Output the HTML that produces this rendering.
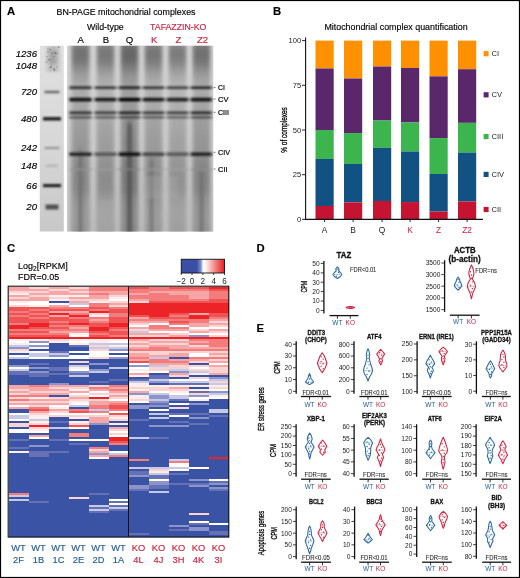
<!DOCTYPE html>
<html><head><meta charset="utf-8"><style>
html,body{margin:0;padding:0;background:#fff;}
svg{display:block;will-change:transform;font-family:"Liberation Sans", sans-serif;}
</style></head><body>
<svg width="520" height="578" viewBox="0 0 520 578">
<rect width="520" height="578" fill="#fff"/>
<rect x="0.5" y="0.5" width="519" height="577" fill="none" stroke="#000" stroke-width="1.2"/>
<text x="6.90" y="14.60" font-size="11.3" text-anchor="start" fill="#000" stroke="#000" stroke-width="0.15" font-weight="bold" >A</text>
<text x="56.50" y="15.40" font-size="9.2" text-anchor="start" fill="#000" stroke="#000" stroke-width="0.15" textLength="139.00" lengthAdjust="spacingAndGlyphs" >BN-PAGE mitochondrial complexes</text>
<text x="86.90" y="29.80" font-size="9.5" text-anchor="start" fill="#000" stroke="#000" stroke-width="0.15" textLength="36.90" lengthAdjust="spacingAndGlyphs" >Wild-type</text>
<text x="150.10" y="29.60" font-size="9.6" text-anchor="start" fill="#d0213d" stroke="#d0213d" stroke-width="0.15" textLength="56.30" lengthAdjust="spacingAndGlyphs" >TAFAZZIN-KO</text>
<text x="80.80" y="42.50" font-size="9.6" text-anchor="middle" fill="#000" stroke="#000" stroke-width="0.15" >A</text>
<text x="105.90" y="42.50" font-size="9.6" text-anchor="middle" fill="#000" stroke="#000" stroke-width="0.15" >B</text>
<text x="129.60" y="42.50" font-size="9.6" text-anchor="middle" fill="#000" stroke="#000" stroke-width="0.15" >Q</text>
<text x="154.30" y="42.50" font-size="9.6" text-anchor="middle" fill="#d0213d" stroke="#d0213d" stroke-width="0.15" >K</text>
<text x="178.50" y="42.50" font-size="9.6" text-anchor="middle" fill="#d0213d" stroke="#d0213d" stroke-width="0.15" >Z</text>
<text x="202.60" y="42.50" font-size="9.6" text-anchor="middle" fill="#d0213d" stroke="#d0213d" stroke-width="0.15" >Z2</text>
<text x="37.00" y="57.10" font-size="9.6" text-anchor="end" fill="#000" stroke="#000" stroke-width="0.15" font-style="italic" >1236</text>
<text x="37.00" y="68.90" font-size="9.6" text-anchor="end" fill="#000" stroke="#000" stroke-width="0.15" font-style="italic" >1048</text>
<text x="37.00" y="95.40" font-size="9.6" text-anchor="end" fill="#000" stroke="#000" stroke-width="0.15" font-style="italic" >720</text>
<text x="37.00" y="122.20" font-size="9.6" text-anchor="end" fill="#000" stroke="#000" stroke-width="0.15" font-style="italic" >480</text>
<text x="37.00" y="151.40" font-size="9.6" text-anchor="end" fill="#000" stroke="#000" stroke-width="0.15" font-style="italic" >242</text>
<text x="37.00" y="169.20" font-size="9.6" text-anchor="end" fill="#000" stroke="#000" stroke-width="0.15" font-style="italic" >148</text>
<text x="37.00" y="189.20" font-size="9.6" text-anchor="end" fill="#000" stroke="#000" stroke-width="0.15" font-style="italic" >66</text>
<text x="37.00" y="210.40" font-size="9.6" text-anchor="end" fill="#000" stroke="#000" stroke-width="0.15" font-style="italic" >20</text>
<line x1="213.80" y1="87.60" x2="215.40" y2="87.60" stroke="#555" stroke-width="0.9"/>
<text x="218.00" y="90.40" font-size="8.0" text-anchor="start" fill="#000" stroke="#000" stroke-width="0.2" textLength="6.90" lengthAdjust="spacingAndGlyphs" >CI</text>
<line x1="213.80" y1="99.00" x2="215.40" y2="99.00" stroke="#555" stroke-width="0.9"/>
<text x="218.00" y="101.80" font-size="8.0" text-anchor="start" fill="#000" stroke="#000" stroke-width="0.2" textLength="10.50" lengthAdjust="spacingAndGlyphs" >CV</text>
<line x1="213.80" y1="112.30" x2="215.40" y2="112.30" stroke="#555" stroke-width="0.9"/>
<text x="218.00" y="115.10" font-size="8.0" text-anchor="start" fill="#000" stroke="#000" stroke-width="0.2" textLength="11.00" lengthAdjust="spacingAndGlyphs" >CIII</text>
<line x1="213.80" y1="152.30" x2="215.40" y2="152.30" stroke="#555" stroke-width="0.9"/>
<text x="218.00" y="155.10" font-size="8.0" text-anchor="start" fill="#000" stroke="#000" stroke-width="0.2" textLength="12.00" lengthAdjust="spacingAndGlyphs" >CIV</text>
<line x1="213.80" y1="169.00" x2="215.40" y2="169.00" stroke="#555" stroke-width="0.9"/>
<text x="218.00" y="171.80" font-size="8.0" text-anchor="start" fill="#000" stroke="#000" stroke-width="0.2" textLength="9.60" lengthAdjust="spacingAndGlyphs" >CII</text>
<defs>
<filter id="bl1" x="-20%" y="-20%" width="140%" height="140%"><feGaussianBlur stdDeviation="1.6 0.7"/></filter>
<filter id="bl2" x="-20%" y="-20%" width="140%" height="140%"><feGaussianBlur stdDeviation="2.2 1.2"/></filter>
<filter id="bl3" x="-20%" y="-20%" width="140%" height="140%"><feGaussianBlur stdDeviation="0.6"/></filter>
<filter id="bl4" x="-20%" y="-50%" width="140%" height="200%"><feGaussianBlur stdDeviation="1.4 0.85"/></filter>
<filter id="bl6" x="-30%" y="-80%" width="160%" height="260%"><feGaussianBlur stdDeviation="1.3 1.0"/></filter>
<filter id="bl5" x="-50%" y="-20%" width="200%" height="140%"><feGaussianBlur stdDeviation="1.6 3"/></filter>
<clipPath id="gelc"><rect x="67" y="45.8" width="146.2" height="185.6"/></clipPath>
<clipPath id="mkc"><rect x="39.8" y="45.8" width="24" height="185.6"/></clipPath>
</defs>
<g clip-path="url(#gelc)">
<linearGradient id="gbase" x1="0" y1="46" x2="0" y2="232" gradientUnits="userSpaceOnUse"><stop offset="0" stop-color="#d6d6d6"/><stop offset="0.5" stop-color="#cbcbcb"/><stop offset="1" stop-color="#bcbcbc"/></linearGradient>
<rect x="60.00" y="40.00" width="160.00" height="200.00" fill="url(#gbase)" />
<g filter="url(#bl2)">
<linearGradient id="lg80" x1="0" y1="46" x2="0" y2="232" gradientUnits="userSpaceOnUse"><stop offset="0.000" stop-color="rgb(128,128,128)"/><stop offset="0.022" stop-color="rgb(116,116,116)"/><stop offset="0.054" stop-color="rgb(114,114,114)"/><stop offset="0.086" stop-color="rgb(122,122,122)"/><stop offset="0.118" stop-color="rgb(138,138,138)"/><stop offset="0.151" stop-color="rgb(154,154,154)"/><stop offset="0.183" stop-color="rgb(164,164,164)"/><stop offset="0.215" stop-color="rgb(170,170,170)"/><stop offset="0.253" stop-color="rgb(172,172,172)"/><stop offset="0.290" stop-color="rgb(166,166,166)"/><stop offset="0.328" stop-color="rgb(166,166,166)"/><stop offset="0.387" stop-color="rgb(160,160,160)"/><stop offset="0.452" stop-color="rgb(156,156,156)"/><stop offset="0.505" stop-color="rgb(152,152,152)"/><stop offset="0.559" stop-color="rgb(150,150,150)"/><stop offset="0.613" stop-color="rgb(142,142,142)"/><stop offset="0.667" stop-color="rgb(136,136,136)"/><stop offset="0.720" stop-color="rgb(134,134,134)"/><stop offset="0.774" stop-color="rgb(136,136,136)"/><stop offset="0.817" stop-color="rgb(146,146,146)"/><stop offset="0.882" stop-color="rgb(152,152,152)"/><stop offset="0.935" stop-color="rgb(152,152,152)"/><stop offset="1.000" stop-color="rgb(148,148,148)"/></linearGradient>
<rect x="71.50" y="44.00" width="18.00" height="190.00" fill="url(#lg80)" />
<linearGradient id="lg105" x1="0" y1="46" x2="0" y2="232" gradientUnits="userSpaceOnUse"><stop offset="0.000" stop-color="rgb(134,134,134)"/><stop offset="0.022" stop-color="rgb(122,122,122)"/><stop offset="0.054" stop-color="rgb(120,120,120)"/><stop offset="0.086" stop-color="rgb(128,128,128)"/><stop offset="0.118" stop-color="rgb(144,144,144)"/><stop offset="0.151" stop-color="rgb(160,160,160)"/><stop offset="0.183" stop-color="rgb(170,170,170)"/><stop offset="0.215" stop-color="rgb(176,176,176)"/><stop offset="0.253" stop-color="rgb(178,178,178)"/><stop offset="0.290" stop-color="rgb(172,172,172)"/><stop offset="0.328" stop-color="rgb(172,172,172)"/><stop offset="0.387" stop-color="rgb(166,166,166)"/><stop offset="0.452" stop-color="rgb(162,162,162)"/><stop offset="0.505" stop-color="rgb(158,158,158)"/><stop offset="0.559" stop-color="rgb(156,156,156)"/><stop offset="0.613" stop-color="rgb(148,148,148)"/><stop offset="0.667" stop-color="rgb(142,142,142)"/><stop offset="0.720" stop-color="rgb(140,140,140)"/><stop offset="0.774" stop-color="rgb(142,142,142)"/><stop offset="0.817" stop-color="rgb(152,152,152)"/><stop offset="0.882" stop-color="rgb(158,158,158)"/><stop offset="0.935" stop-color="rgb(158,158,158)"/><stop offset="1.000" stop-color="rgb(154,154,154)"/></linearGradient>
<rect x="96.50" y="44.00" width="18.00" height="190.00" fill="url(#lg105)" />
<linearGradient id="lg129" x1="0" y1="46" x2="0" y2="232" gradientUnits="userSpaceOnUse"><stop offset="0.000" stop-color="rgb(116,116,116)"/><stop offset="0.022" stop-color="rgb(104,104,104)"/><stop offset="0.054" stop-color="rgb(102,102,102)"/><stop offset="0.086" stop-color="rgb(110,110,110)"/><stop offset="0.118" stop-color="rgb(126,126,126)"/><stop offset="0.151" stop-color="rgb(142,142,142)"/><stop offset="0.183" stop-color="rgb(152,152,152)"/><stop offset="0.215" stop-color="rgb(158,158,158)"/><stop offset="0.253" stop-color="rgb(160,160,160)"/><stop offset="0.290" stop-color="rgb(154,154,154)"/><stop offset="0.328" stop-color="rgb(154,154,154)"/><stop offset="0.387" stop-color="rgb(148,148,148)"/><stop offset="0.452" stop-color="rgb(144,144,144)"/><stop offset="0.505" stop-color="rgb(140,140,140)"/><stop offset="0.559" stop-color="rgb(138,138,138)"/><stop offset="0.613" stop-color="rgb(130,130,130)"/><stop offset="0.667" stop-color="rgb(124,124,124)"/><stop offset="0.720" stop-color="rgb(122,122,122)"/><stop offset="0.774" stop-color="rgb(124,124,124)"/><stop offset="0.817" stop-color="rgb(134,134,134)"/><stop offset="0.882" stop-color="rgb(140,140,140)"/><stop offset="0.935" stop-color="rgb(140,140,140)"/><stop offset="1.000" stop-color="rgb(136,136,136)"/></linearGradient>
<rect x="120.50" y="44.00" width="18.00" height="190.00" fill="url(#lg129)" />
<linearGradient id="lg153" x1="0" y1="46" x2="0" y2="232" gradientUnits="userSpaceOnUse"><stop offset="0.000" stop-color="rgb(132,132,132)"/><stop offset="0.022" stop-color="rgb(120,120,120)"/><stop offset="0.054" stop-color="rgb(118,118,118)"/><stop offset="0.086" stop-color="rgb(126,126,126)"/><stop offset="0.118" stop-color="rgb(142,142,142)"/><stop offset="0.151" stop-color="rgb(158,158,158)"/><stop offset="0.183" stop-color="rgb(168,168,168)"/><stop offset="0.215" stop-color="rgb(174,174,174)"/><stop offset="0.253" stop-color="rgb(176,176,176)"/><stop offset="0.290" stop-color="rgb(170,170,170)"/><stop offset="0.328" stop-color="rgb(170,170,170)"/><stop offset="0.387" stop-color="rgb(164,164,164)"/><stop offset="0.452" stop-color="rgb(160,160,160)"/><stop offset="0.505" stop-color="rgb(156,156,156)"/><stop offset="0.559" stop-color="rgb(154,154,154)"/><stop offset="0.613" stop-color="rgb(146,146,146)"/><stop offset="0.667" stop-color="rgb(140,140,140)"/><stop offset="0.720" stop-color="rgb(138,138,138)"/><stop offset="0.774" stop-color="rgb(140,140,140)"/><stop offset="0.817" stop-color="rgb(150,150,150)"/><stop offset="0.882" stop-color="rgb(156,156,156)"/><stop offset="0.935" stop-color="rgb(156,156,156)"/><stop offset="1.000" stop-color="rgb(152,152,152)"/></linearGradient>
<rect x="144.50" y="44.00" width="18.00" height="190.00" fill="url(#lg153)" />
<linearGradient id="lg177" x1="0" y1="46" x2="0" y2="232" gradientUnits="userSpaceOnUse"><stop offset="0.000" stop-color="rgb(138,138,138)"/><stop offset="0.022" stop-color="rgb(126,126,126)"/><stop offset="0.054" stop-color="rgb(124,124,124)"/><stop offset="0.086" stop-color="rgb(132,132,132)"/><stop offset="0.118" stop-color="rgb(148,148,148)"/><stop offset="0.151" stop-color="rgb(164,164,164)"/><stop offset="0.183" stop-color="rgb(174,174,174)"/><stop offset="0.215" stop-color="rgb(180,180,180)"/><stop offset="0.253" stop-color="rgb(182,182,182)"/><stop offset="0.290" stop-color="rgb(176,176,176)"/><stop offset="0.328" stop-color="rgb(176,176,176)"/><stop offset="0.387" stop-color="rgb(170,170,170)"/><stop offset="0.452" stop-color="rgb(166,166,166)"/><stop offset="0.505" stop-color="rgb(162,162,162)"/><stop offset="0.559" stop-color="rgb(160,160,160)"/><stop offset="0.613" stop-color="rgb(152,152,152)"/><stop offset="0.667" stop-color="rgb(146,146,146)"/><stop offset="0.720" stop-color="rgb(144,144,144)"/><stop offset="0.774" stop-color="rgb(146,146,146)"/><stop offset="0.817" stop-color="rgb(156,156,156)"/><stop offset="0.882" stop-color="rgb(162,162,162)"/><stop offset="0.935" stop-color="rgb(162,162,162)"/><stop offset="1.000" stop-color="rgb(158,158,158)"/></linearGradient>
<rect x="168.50" y="44.00" width="18.00" height="190.00" fill="url(#lg177)" />
<linearGradient id="lg201" x1="0" y1="46" x2="0" y2="232" gradientUnits="userSpaceOnUse"><stop offset="0.000" stop-color="rgb(126,126,126)"/><stop offset="0.022" stop-color="rgb(114,114,114)"/><stop offset="0.054" stop-color="rgb(112,112,112)"/><stop offset="0.086" stop-color="rgb(120,120,120)"/><stop offset="0.118" stop-color="rgb(136,136,136)"/><stop offset="0.151" stop-color="rgb(152,152,152)"/><stop offset="0.183" stop-color="rgb(162,162,162)"/><stop offset="0.215" stop-color="rgb(168,168,168)"/><stop offset="0.253" stop-color="rgb(170,170,170)"/><stop offset="0.290" stop-color="rgb(164,164,164)"/><stop offset="0.328" stop-color="rgb(164,164,164)"/><stop offset="0.387" stop-color="rgb(158,158,158)"/><stop offset="0.452" stop-color="rgb(154,154,154)"/><stop offset="0.505" stop-color="rgb(150,150,150)"/><stop offset="0.559" stop-color="rgb(148,148,148)"/><stop offset="0.613" stop-color="rgb(140,140,140)"/><stop offset="0.667" stop-color="rgb(134,134,134)"/><stop offset="0.720" stop-color="rgb(132,132,132)"/><stop offset="0.774" stop-color="rgb(134,134,134)"/><stop offset="0.817" stop-color="rgb(144,144,144)"/><stop offset="0.882" stop-color="rgb(150,150,150)"/><stop offset="0.935" stop-color="rgb(150,150,150)"/><stop offset="1.000" stop-color="rgb(146,146,146)"/></linearGradient>
<rect x="192.50" y="44.00" width="18.00" height="190.00" fill="url(#lg201)" />
</g>
<g filter="url(#bl5)">
<rect x="78.50" y="150.00" width="4.00" height="90.00" fill="rgb(105,105,105)" opacity="0.7"/>
<rect x="126.75" y="122.00" width="5.50" height="118.00" fill="rgb(75,75,75)" opacity="0.7"/>
<rect x="149.50" y="158.00" width="4.00" height="82.00" fill="rgb(110,110,110)" opacity="0.7"/>
<rect x="199.50" y="170.00" width="4.00" height="70.00" fill="rgb(105,105,105)" opacity="0.7"/>
</g>
<g filter="url(#bl4)">
<rect x="69.00" y="86.55" width="23.00" height="2.30" fill="rgb(30,30,30)" />
<rect x="94.00" y="86.55" width="23.00" height="2.30" fill="rgb(40,40,40)" />
<rect x="118.00" y="86.55" width="23.00" height="2.30" fill="rgb(15,15,15)" />
<rect x="142.00" y="86.55" width="23.00" height="2.30" fill="rgb(38,38,38)" />
<rect x="166.00" y="86.55" width="23.00" height="2.30" fill="rgb(45,45,45)" />
<rect x="190.00" y="86.55" width="23.00" height="2.30" fill="rgb(24,24,24)" />
<rect x="69.00" y="97.85" width="23.00" height="3.50" fill="rgb(15,15,15)" />
<rect x="94.00" y="97.85" width="23.00" height="3.50" fill="rgb(25,25,25)" />
<rect x="118.00" y="97.85" width="23.00" height="3.50" fill="rgb(0,0,0)" />
<rect x="142.00" y="97.85" width="23.00" height="3.50" fill="rgb(23,23,23)" />
<rect x="166.00" y="97.85" width="23.00" height="3.50" fill="rgb(30,30,30)" />
<rect x="190.00" y="97.85" width="23.00" height="3.50" fill="rgb(9,9,9)" />
<rect x="69.00" y="111.45" width="23.00" height="2.70" fill="rgb(50,50,50)" />
<rect x="94.00" y="111.45" width="23.00" height="2.70" fill="rgb(60,60,60)" />
<rect x="118.00" y="111.45" width="23.00" height="2.70" fill="rgb(35,35,35)" />
<rect x="142.00" y="111.45" width="23.00" height="2.70" fill="rgb(58,58,58)" />
<rect x="166.00" y="111.45" width="23.00" height="2.70" fill="rgb(65,65,65)" />
<rect x="190.00" y="111.45" width="23.00" height="2.70" fill="rgb(44,44,44)" />
<rect x="69.00" y="116.45" width="23.00" height="1.90" fill="rgb(68,68,68)" />
<rect x="94.00" y="116.45" width="23.00" height="1.90" fill="rgb(78,78,78)" />
<rect x="118.00" y="116.45" width="23.00" height="1.90" fill="rgb(53,53,53)" />
<rect x="142.00" y="116.45" width="23.00" height="1.90" fill="rgb(76,76,76)" />
<rect x="166.00" y="116.45" width="23.00" height="1.90" fill="rgb(83,83,83)" />
<rect x="190.00" y="116.45" width="23.00" height="1.90" fill="rgb(62,62,62)" />
<rect x="69.00" y="152.45" width="23.00" height="3.50" fill="rgb(38,38,38)" />
<rect x="94.00" y="152.45" width="23.00" height="3.50" fill="rgb(88,88,88)" />
<rect x="118.00" y="152.45" width="23.00" height="3.50" fill="rgb(18,18,18)" />
<rect x="142.00" y="152.45" width="23.00" height="3.50" fill="rgb(72,72,72)" />
<rect x="166.00" y="152.45" width="23.00" height="3.50" fill="rgb(90,90,90)" />
<rect x="190.00" y="152.45" width="23.00" height="3.50" fill="rgb(35,35,35)" />
<rect x="69.00" y="168.80" width="23.00" height="1.40" fill="rgb(150,150,150)" />
<rect x="94.00" y="168.80" width="23.00" height="1.40" fill="rgb(160,160,160)" />
<rect x="118.00" y="168.80" width="23.00" height="1.40" fill="rgb(135,135,135)" />
<rect x="142.00" y="168.80" width="23.00" height="1.40" fill="rgb(158,158,158)" />
<rect x="166.00" y="168.80" width="23.00" height="1.40" fill="rgb(165,165,165)" />
<rect x="190.00" y="168.80" width="23.00" height="1.40" fill="rgb(144,144,144)" />
</g>
<g filter="url(#bl1)">
<linearGradient id="gapg" x1="0" y1="46" x2="0" y2="232" gradientUnits="userSpaceOnUse"><stop offset="0" stop-color="#d6d6d6" stop-opacity="0.7"/><stop offset="0.4" stop-color="#d2d2d2" stop-opacity="0.55"/><stop offset="1" stop-color="#c4c4c4" stop-opacity="0.35"/></linearGradient>
<rect x="92.30" y="44.00" width="2.40" height="190.00" fill="url(#gapg)" />
<rect x="116.30" y="44.00" width="2.40" height="190.00" fill="url(#gapg)" />
<rect x="140.30" y="44.00" width="2.40" height="190.00" fill="url(#gapg)" />
<rect x="164.30" y="44.00" width="2.40" height="190.00" fill="url(#gapg)" />
<rect x="188.30" y="44.00" width="2.40" height="190.00" fill="url(#gapg)" />
<rect x="66.00" y="44.00" width="2.20" height="190.00" fill="rgb(214,214,214)" opacity="0.7"/>
<rect x="211.50" y="44.00" width="3.00" height="190.00" fill="rgb(205,205,205)" opacity="0.6"/>
</g>
<g filter="url(#bl2)">
<rect x="140.00" y="176.00" width="38.00" height="22.00" fill="rgb(185,185,185)" opacity="0.25"/>
<rect x="97.00" y="200.00" width="17.00" height="32.00" fill="rgb(185,185,185)" opacity="0.25"/>
</g>
</g>
<defs><linearGradient id="mkg" x1="0" y1="46" x2="0" y2="232" gradientUnits="userSpaceOnUse"><stop offset="0" stop-color="#e0e0e0"/><stop offset="0.5" stop-color="#d8d8d8"/><stop offset="1" stop-color="#c8c8c8"/></linearGradient></defs>
<g clip-path="url(#mkc)">
<rect x="39.00" y="45.00" width="26.00" height="188.00" fill="url(#mkg)" />
<g filter="url(#bl2)">
<rect x="47.00" y="46.00" width="12.00" height="26.00" fill="rgb(175,175,175)" opacity="0.7"/>
<rect x="49.00" y="50.00" width="8.00" height="14.00" fill="rgb(145,145,145)" opacity="0.55"/>
</g>
<circle cx="50.2" cy="49.6" r="0.79" fill="rgb(94,94,94)" opacity="0.7"/>
<circle cx="53.0" cy="54.8" r="0.43" fill="rgb(120,120,120)" opacity="0.7"/>
<circle cx="46.5" cy="56.4" r="0.44" fill="rgb(95,95,95)" opacity="0.7"/>
<circle cx="51.5" cy="65.8" r="0.47" fill="rgb(103,103,103)" opacity="0.7"/>
<circle cx="54.2" cy="68.7" r="0.75" fill="rgb(113,113,113)" opacity="0.7"/>
<circle cx="58.7" cy="47.1" r="0.92" fill="rgb(107,107,107)" opacity="0.7"/>
<circle cx="47.9" cy="48.8" r="0.59" fill="rgb(138,138,138)" opacity="0.7"/>
<circle cx="48.3" cy="60.0" r="0.78" fill="rgb(112,112,112)" opacity="0.7"/>
<circle cx="53.1" cy="47.5" r="0.44" fill="rgb(102,102,102)" opacity="0.7"/>
<circle cx="54.8" cy="56.3" r="0.59" fill="rgb(125,125,125)" opacity="0.7"/>
<circle cx="51.9" cy="53.2" r="0.88" fill="rgb(131,131,131)" opacity="0.7"/>
<circle cx="49.2" cy="59.8" r="0.72" fill="rgb(142,142,142)" opacity="0.7"/>
<circle cx="55.5" cy="52.9" r="0.99" fill="rgb(97,97,97)" opacity="0.7"/>
<circle cx="51.4" cy="64.2" r="0.49" fill="rgb(119,119,119)" opacity="0.7"/>
<circle cx="46.5" cy="62.0" r="0.86" fill="rgb(124,124,124)" opacity="0.7"/>
<circle cx="57.4" cy="53.5" r="0.82" fill="rgb(125,125,125)" opacity="0.7"/>
<circle cx="53.5" cy="56.9" r="0.90" fill="rgb(146,146,146)" opacity="0.7"/>
<circle cx="52.2" cy="61.9" r="0.44" fill="rgb(132,132,132)" opacity="0.7"/>
<circle cx="54.4" cy="69.8" r="0.89" fill="rgb(107,107,107)" opacity="0.7"/>
<circle cx="51.0" cy="62.0" r="0.41" fill="rgb(117,117,117)" opacity="0.7"/>
<circle cx="48.2" cy="48.8" r="0.44" fill="rgb(136,136,136)" opacity="0.7"/>
<circle cx="47.7" cy="51.9" r="0.63" fill="rgb(142,142,142)" opacity="0.7"/>
<circle cx="47.0" cy="56.8" r="0.73" fill="rgb(143,143,143)" opacity="0.7"/>
<circle cx="56.7" cy="66.7" r="0.57" fill="rgb(114,114,114)" opacity="0.7"/>
<circle cx="50.7" cy="67.2" r="0.97" fill="rgb(99,99,99)" opacity="0.7"/>
<circle cx="48.3" cy="51.6" r="0.54" fill="rgb(119,119,119)" opacity="0.7"/>
<circle cx="53.7" cy="52.3" r="0.40" fill="rgb(115,115,115)" opacity="0.7"/>
<circle cx="50.8" cy="59.6" r="0.97" fill="rgb(131,131,131)" opacity="0.7"/>
<g filter="url(#bl6)">
<rect x="44.50" y="90.90" width="15.00" height="2.20" fill="rgb(90,90,90)" />
<rect x="43.00" y="117.20" width="18.00" height="3.20" fill="rgb(18,18,18)" />
<rect x="44.50" y="147.10" width="15.00" height="1.80" fill="rgb(135,135,135)" />
<rect x="46.00" y="165.00" width="12.00" height="1.60" fill="rgb(168,168,168)" />
<rect x="43.00" y="184.10" width="18.00" height="3.00" fill="rgb(22,22,22)" />
<rect x="45.50" y="204.50" width="13.00" height="5.00" fill="rgb(80,80,80)" />
</g>
</g>
<text x="273.00" y="15.20" font-size="11.3" text-anchor="start" fill="#000" stroke="#000" stroke-width="0.15" font-weight="bold" >B</text>
<text x="324.40" y="29.80" font-size="9.2" text-anchor="start" fill="#000" stroke="#000" stroke-width="0.15" textLength="143.20" lengthAdjust="spacingAndGlyphs" >Mitochondrial complex quantification</text>
<rect x="315.50" y="40.60" width="18.20" height="27.89" fill="#ff9100" />
<rect x="315.50" y="68.49" width="18.20" height="61.51" fill="#5a276a" />
<rect x="315.50" y="130.00" width="18.20" height="28.97" fill="#3db54f" />
<rect x="315.50" y="158.97" width="18.20" height="47.02" fill="#115283" />
<rect x="315.50" y="205.99" width="18.20" height="13.41" fill="#c41431" />
<line x1="324.60" y1="219.40" x2="324.60" y2="222.00" stroke="#111" stroke-width="0.9"/>
<text x="324.60" y="232.60" font-size="8.4" text-anchor="middle" fill="#222" >A</text>
<rect x="344.00" y="40.60" width="18.20" height="37.91" fill="#ff9100" />
<rect x="344.00" y="78.51" width="18.20" height="54.53" fill="#5a276a" />
<rect x="344.00" y="133.04" width="18.20" height="30.93" fill="#3db54f" />
<rect x="344.00" y="163.97" width="18.20" height="38.44" fill="#115283" />
<rect x="344.00" y="202.41" width="18.20" height="16.99" fill="#c41431" />
<line x1="353.10" y1="219.40" x2="353.10" y2="222.00" stroke="#111" stroke-width="0.9"/>
<text x="353.10" y="232.60" font-size="8.4" text-anchor="middle" fill="#222" >B</text>
<rect x="373.00" y="40.60" width="18.20" height="25.93" fill="#ff9100" />
<rect x="373.00" y="66.53" width="18.20" height="54.00" fill="#5a276a" />
<rect x="373.00" y="120.52" width="18.20" height="27.36" fill="#3db54f" />
<rect x="373.00" y="147.88" width="18.20" height="53.10" fill="#115283" />
<rect x="373.00" y="200.98" width="18.20" height="18.42" fill="#c41431" />
<line x1="382.10" y1="219.40" x2="382.10" y2="222.00" stroke="#111" stroke-width="0.9"/>
<text x="382.10" y="232.60" font-size="8.4" text-anchor="middle" fill="#222" >Q</text>
<rect x="401.00" y="40.60" width="18.20" height="27.36" fill="#ff9100" />
<rect x="401.00" y="67.96" width="18.20" height="54.53" fill="#5a276a" />
<rect x="401.00" y="122.49" width="18.20" height="28.97" fill="#3db54f" />
<rect x="401.00" y="151.46" width="18.20" height="50.60" fill="#115283" />
<rect x="401.00" y="202.06" width="18.20" height="17.34" fill="#c41431" />
<line x1="410.10" y1="219.40" x2="410.10" y2="222.00" stroke="#111" stroke-width="0.9"/>
<text x="410.10" y="232.60" font-size="8.4" text-anchor="middle" fill="#d0213d" >K</text>
<rect x="429.50" y="40.60" width="18.20" height="35.76" fill="#ff9100" />
<rect x="429.50" y="76.36" width="18.20" height="61.69" fill="#5a276a" />
<rect x="429.50" y="138.05" width="18.20" height="35.94" fill="#3db54f" />
<rect x="429.50" y="173.98" width="18.20" height="37.55" fill="#115283" />
<rect x="429.50" y="211.53" width="18.20" height="7.87" fill="#c41431" />
<line x1="438.60" y1="219.40" x2="438.60" y2="222.00" stroke="#111" stroke-width="0.9"/>
<text x="438.60" y="232.60" font-size="8.4" text-anchor="middle" fill="#d0213d" >Z</text>
<rect x="458.00" y="40.60" width="18.20" height="28.61" fill="#ff9100" />
<rect x="458.00" y="69.21" width="18.20" height="53.64" fill="#5a276a" />
<rect x="458.00" y="122.85" width="18.20" height="29.68" fill="#3db54f" />
<rect x="458.00" y="152.53" width="18.20" height="48.99" fill="#115283" />
<rect x="458.00" y="201.52" width="18.20" height="17.88" fill="#c41431" />
<line x1="467.10" y1="219.40" x2="467.10" y2="222.00" stroke="#111" stroke-width="0.9"/>
<text x="467.10" y="232.60" font-size="8.4" text-anchor="middle" fill="#d0213d" >Z2</text>
<line x1="305.60" y1="37.50" x2="305.60" y2="219.90" stroke="#111" stroke-width="1.1"/>
<line x1="305.00" y1="219.40" x2="483.00" y2="219.40" stroke="#111" stroke-width="1.1"/>
<line x1="302.00" y1="219.40" x2="305.60" y2="219.40" stroke="#111" stroke-width="0.9"/>
<text x="301.20" y="222.10" font-size="7.6" text-anchor="end" fill="#222" >0</text>
<line x1="302.00" y1="174.70" x2="305.60" y2="174.70" stroke="#111" stroke-width="0.9"/>
<text x="301.20" y="177.40" font-size="7.6" text-anchor="end" fill="#222" >25</text>
<line x1="302.00" y1="130.00" x2="305.60" y2="130.00" stroke="#111" stroke-width="0.9"/>
<text x="301.20" y="132.70" font-size="7.6" text-anchor="end" fill="#222" >50</text>
<line x1="302.00" y1="85.30" x2="305.60" y2="85.30" stroke="#111" stroke-width="0.9"/>
<text x="301.20" y="88.00" font-size="7.6" text-anchor="end" fill="#222" >75</text>
<line x1="302.00" y1="40.60" x2="305.60" y2="40.60" stroke="#111" stroke-width="0.9"/>
<text x="301.20" y="43.30" font-size="7.6" text-anchor="end" fill="#222" >100</text>
<text x="287.50" y="129.90" font-size="9.2" text-anchor="middle" fill="#000" stroke="#000" stroke-width="0.3" textLength="45.50" lengthAdjust="spacingAndGlyphs" transform="rotate(-90 287.50 129.90)" >% of complexes</text>
<rect x="483.60" y="51.10" width="5.00" height="5.20" fill="#ff9100" />
<text x="491.50" y="56.30" font-size="7.6" text-anchor="start" fill="#222" >CI</text>
<rect x="483.60" y="92.20" width="5.00" height="5.20" fill="#5a276a" />
<text x="491.50" y="97.40" font-size="7.6" text-anchor="start" fill="#222" >CV</text>
<rect x="483.60" y="134.00" width="5.00" height="5.20" fill="#3db54f" />
<text x="491.50" y="139.20" font-size="7.6" text-anchor="start" fill="#222" >CIII</text>
<rect x="483.60" y="171.80" width="5.00" height="5.20" fill="#115283" />
<text x="491.50" y="177.00" font-size="7.6" text-anchor="start" fill="#222" >CIV</text>
<rect x="483.60" y="206.90" width="5.00" height="5.20" fill="#c41431" />
<text x="491.50" y="212.10" font-size="7.6" text-anchor="start" fill="#222" >CII</text>
<text x="6.90" y="252.00" font-size="11.3" text-anchor="start" fill="#000" stroke="#000" stroke-width="0.15" font-weight="bold" >C</text>
<text x="18" y="268.8" font-size="9" fill="#000" stroke="#000" stroke-width="0.15">Log<tspan font-size="6.5" dy="2">2</tspan><tspan dy="-2">[RPKM]</tspan></text>
<text x="18.00" y="280.20" font-size="9" text-anchor="start" fill="#000" stroke="#000" stroke-width="0.15" textLength="41.20" lengthAdjust="spacingAndGlyphs" >FDR=0.05</text>
<defs><linearGradient id="cbar" x1="0" x2="1" y1="0" y2="0">
<stop offset="0" stop-color="#3a4ea5"/><stop offset="0.36" stop-color="#3a4ea5"/>
<stop offset="0.46" stop-color="#8a96cc"/><stop offset="0.5" stop-color="#f4f4fb"/><stop offset="0.53" stop-color="#ffffff"/>
<stop offset="0.62" stop-color="#fbd7d7"/><stop offset="0.8" stop-color="#f07c7c"/><stop offset="1" stop-color="#e41e22"/>
</linearGradient></defs>
<rect x="181.25" y="259.25" width="43.25" height="13.75" fill="url(#cbar)" stroke="#111" stroke-width="0.9"/>
<line x1="181.25" y1="273.00" x2="181.25" y2="275.00" stroke="#111" stroke-width="0.8"/>
<text x="181.25" y="283.60" font-size="8.2" text-anchor="middle" fill="#222" >−2</text>
<line x1="192.06" y1="273.00" x2="192.06" y2="275.00" stroke="#111" stroke-width="0.8"/>
<text x="192.06" y="283.60" font-size="8.2" text-anchor="middle" fill="#222" >0</text>
<line x1="202.88" y1="273.00" x2="202.88" y2="275.00" stroke="#111" stroke-width="0.8"/>
<text x="202.88" y="283.60" font-size="8.2" text-anchor="middle" fill="#222" >2</text>
<line x1="213.69" y1="273.00" x2="213.69" y2="275.00" stroke="#111" stroke-width="0.8"/>
<text x="213.69" y="283.60" font-size="8.2" text-anchor="middle" fill="#222" >4</text>
<line x1="224.50" y1="273.00" x2="224.50" y2="275.00" stroke="#111" stroke-width="0.8"/>
<text x="224.50" y="283.60" font-size="8.2" text-anchor="middle" fill="#222" >6</text>
<text x="18.50" y="551.30" font-size="9.3" text-anchor="middle" fill="#1f5c99" stroke="#1f5c99" stroke-width="0.15" >WT</text>
<text x="18.50" y="562.70" font-size="9.3" text-anchor="middle" fill="#1f5c99" stroke="#1f5c99" stroke-width="0.15" >2F</text>
<text x="38.50" y="551.30" font-size="9.3" text-anchor="middle" fill="#1f5c99" stroke="#1f5c99" stroke-width="0.15" >WT</text>
<text x="38.50" y="562.70" font-size="9.3" text-anchor="middle" fill="#1f5c99" stroke="#1f5c99" stroke-width="0.15" >1B</text>
<text x="58.50" y="551.30" font-size="9.3" text-anchor="middle" fill="#1f5c99" stroke="#1f5c99" stroke-width="0.15" >WT</text>
<text x="58.50" y="562.70" font-size="9.3" text-anchor="middle" fill="#1f5c99" stroke="#1f5c99" stroke-width="0.15" >1C</text>
<text x="78.50" y="551.30" font-size="9.3" text-anchor="middle" fill="#1f5c99" stroke="#1f5c99" stroke-width="0.15" >WT</text>
<text x="78.50" y="562.70" font-size="9.3" text-anchor="middle" fill="#1f5c99" stroke="#1f5c99" stroke-width="0.15" >2E</text>
<text x="98.50" y="551.30" font-size="9.3" text-anchor="middle" fill="#1f5c99" stroke="#1f5c99" stroke-width="0.15" >WT</text>
<text x="98.50" y="562.70" font-size="9.3" text-anchor="middle" fill="#1f5c99" stroke="#1f5c99" stroke-width="0.15" >2D</text>
<text x="118.50" y="551.30" font-size="9.3" text-anchor="middle" fill="#1f5c99" stroke="#1f5c99" stroke-width="0.15" >WT</text>
<text x="118.50" y="562.70" font-size="9.3" text-anchor="middle" fill="#1f5c99" stroke="#1f5c99" stroke-width="0.15" >1A</text>
<text x="138.50" y="551.30" font-size="9.3" text-anchor="middle" fill="#d0213d" stroke="#d0213d" stroke-width="0.15" >KO</text>
<text x="138.50" y="562.70" font-size="9.3" text-anchor="middle" fill="#d0213d" stroke="#d0213d" stroke-width="0.15" >4L</text>
<text x="158.50" y="551.30" font-size="9.3" text-anchor="middle" fill="#d0213d" stroke="#d0213d" stroke-width="0.15" >KO</text>
<text x="158.50" y="562.70" font-size="9.3" text-anchor="middle" fill="#d0213d" stroke="#d0213d" stroke-width="0.15" >4J</text>
<text x="178.50" y="551.30" font-size="9.3" text-anchor="middle" fill="#d0213d" stroke="#d0213d" stroke-width="0.15" >KO</text>
<text x="178.50" y="562.70" font-size="9.3" text-anchor="middle" fill="#d0213d" stroke="#d0213d" stroke-width="0.15" >3H</text>
<text x="198.50" y="551.30" font-size="9.3" text-anchor="middle" fill="#d0213d" stroke="#d0213d" stroke-width="0.15" >KO</text>
<text x="198.50" y="562.70" font-size="9.3" text-anchor="middle" fill="#d0213d" stroke="#d0213d" stroke-width="0.15" >4K</text>
<text x="218.50" y="551.30" font-size="9.3" text-anchor="middle" fill="#d0213d" stroke="#d0213d" stroke-width="0.15" >KO</text>
<text x="218.50" y="562.70" font-size="9.3" text-anchor="middle" fill="#d0213d" stroke="#d0213d" stroke-width="0.15" >3I</text>
<text x="256.40" y="252.10" font-size="11.3" text-anchor="start" fill="#000" stroke="#000" stroke-width="0.15" font-weight="bold" >D</text>
<text x="256.60" y="332.10" font-size="11.3" text-anchor="start" fill="#000" stroke="#000" stroke-width="0.15" font-weight="bold" >E</text>
<line x1="323.90" y1="261.00" x2="323.90" y2="313.50" stroke="#111" stroke-width="1.3"/>
<line x1="320.70" y1="263.40" x2="323.90" y2="263.40" stroke="#111" stroke-width="0.8"/>
<text x="319.60" y="265.75" font-size="6.6" text-anchor="end" fill="#222" >50</text>
<line x1="320.70" y1="272.90" x2="323.90" y2="272.90" stroke="#111" stroke-width="0.8"/>
<text x="319.60" y="275.25" font-size="6.6" text-anchor="end" fill="#222" >40</text>
<line x1="320.70" y1="282.20" x2="323.90" y2="282.20" stroke="#111" stroke-width="0.8"/>
<text x="319.60" y="284.55" font-size="6.6" text-anchor="end" fill="#222" >30</text>
<line x1="320.70" y1="291.60" x2="323.90" y2="291.60" stroke="#111" stroke-width="0.8"/>
<text x="319.60" y="293.95" font-size="6.6" text-anchor="end" fill="#222" >20</text>
<line x1="320.70" y1="301.00" x2="323.90" y2="301.00" stroke="#111" stroke-width="0.8"/>
<text x="319.60" y="303.35" font-size="6.6" text-anchor="end" fill="#222" >10</text>
<line x1="320.70" y1="310.40" x2="323.90" y2="310.40" stroke="#111" stroke-width="0.8"/>
<text x="319.60" y="312.75" font-size="6.6" text-anchor="end" fill="#222" >0</text>
<line x1="329.50" y1="315.60" x2="358.50" y2="315.60" stroke="#111" stroke-width="1.3"/>
<line x1="337.40" y1="315.60" x2="337.40" y2="318.80" stroke="#111" stroke-width="0.85"/>
<line x1="350.30" y1="315.60" x2="350.30" y2="318.80" stroke="#111" stroke-width="0.85"/>
<text x="337.40" y="324.50" font-size="6.5" text-anchor="middle" fill="#1f5c99" >WT</text>
<text x="350.30" y="324.50" font-size="6.5" text-anchor="middle" fill="#d0213d" >KO</text>
<text x="343.95" y="257.62" font-size="8.2" text-anchor="middle" fill="#111" stroke="#111" stroke-width="0.28" font-weight="bold" textLength="14.70" lengthAdjust="spacingAndGlyphs" >TAZ</text>
<text x="363.15" y="272.47" font-size="6.6" text-anchor="middle" fill="#2a2a2a" stroke="#2a2a2a" stroke-width="0.08" textLength="26.30" lengthAdjust="spacingAndGlyphs" >FDR&lt;0.01</text>
<path d="M337.40,266.80 L338.60,268.00 L339.00,269.50 L338.60,271.00 L340.40,272.50 L341.90,274.50 L340.40,276.50 L337.40,278.50 L337.40,278.50 L334.40,276.50 L332.90,274.50 L334.40,272.50 L336.20,271.00 L335.80,269.50 L336.20,268.00 L337.40,266.80 Z" fill="#fff" stroke="#2b67a6" stroke-width="1.05" stroke-linejoin="round"/>
<line x1="334.02" y1="274.50" x2="340.77" y2="274.50" stroke="#2b67a6" stroke-width="0.7" stroke-dasharray="0.9 0.7"/>
<circle cx="337.40" cy="269.14" r="0.7" fill="#2b67a6"/>
<circle cx="338.40" cy="272.65" r="0.7" fill="#2b67a6"/>
<circle cx="336.40" cy="276.16" r="0.7" fill="#2b67a6"/>
<path d="M350.30,306.50 L352.80,306.80 L354.50,307.50 L352.80,308.20 L350.30,308.60 L350.30,308.60 L347.80,308.20 L346.10,307.50 L347.80,306.80 L350.30,306.50 Z" fill="#fff" stroke="#d3223f" stroke-width="1.05" stroke-linejoin="round"/>
<line x1="347.15" y1="307.50" x2="353.45" y2="307.50" stroke="#d3223f" stroke-width="0.7" stroke-dasharray="0.9 0.7"/>
<circle cx="349.30" cy="306.92" r="0.7" fill="#d3223f"/>
<circle cx="351.30" cy="307.55" r="0.7" fill="#d3223f"/>
<circle cx="349.30" cy="308.18" r="0.7" fill="#d3223f"/>
<text x="306.60" y="286.70" font-size="8.6" text-anchor="middle" fill="#000" stroke="#000" stroke-width="0.3" textLength="11.50" lengthAdjust="spacingAndGlyphs" transform="rotate(-90 306.60 286.70)" >CPM</text>
<line x1="444.60" y1="260.20" x2="444.60" y2="311.90" stroke="#111" stroke-width="1.3"/>
<line x1="441.40" y1="263.00" x2="444.60" y2="263.00" stroke="#111" stroke-width="0.8"/>
<text x="440.30" y="265.35" font-size="6.6" text-anchor="end" fill="#222" >3500</text>
<line x1="441.40" y1="274.60" x2="444.60" y2="274.60" stroke="#111" stroke-width="0.8"/>
<text x="440.30" y="276.95" font-size="6.6" text-anchor="end" fill="#222" >3000</text>
<line x1="441.40" y1="286.20" x2="444.60" y2="286.20" stroke="#111" stroke-width="0.8"/>
<text x="440.30" y="288.55" font-size="6.6" text-anchor="end" fill="#222" >2500</text>
<line x1="441.40" y1="297.90" x2="444.60" y2="297.90" stroke="#111" stroke-width="0.8"/>
<text x="440.30" y="300.25" font-size="6.6" text-anchor="end" fill="#222" >2000</text>
<line x1="441.40" y1="309.60" x2="444.60" y2="309.60" stroke="#111" stroke-width="0.8"/>
<text x="440.30" y="311.95" font-size="6.6" text-anchor="end" fill="#222" >1500</text>
<line x1="449.90" y1="315.20" x2="479.60" y2="315.20" stroke="#111" stroke-width="1.3"/>
<line x1="458.10" y1="315.20" x2="458.10" y2="318.40" stroke="#111" stroke-width="0.85"/>
<line x1="471.40" y1="315.20" x2="471.40" y2="318.40" stroke="#111" stroke-width="0.85"/>
<text x="458.10" y="324.20" font-size="6.5" text-anchor="middle" fill="#1f5c99" >WT</text>
<text x="471.40" y="324.20" font-size="6.5" text-anchor="middle" fill="#d0213d" >KO</text>
<text x="464.75" y="252.92" font-size="8.2" text-anchor="middle" fill="#111" stroke="#111" stroke-width="0.28" font-weight="bold" textLength="21.70" lengthAdjust="spacingAndGlyphs" >ACTB</text>
<text x="464.60" y="262.22" font-size="8.2" text-anchor="middle" fill="#111" stroke="#111" stroke-width="0.28" font-weight="bold" textLength="32.20" lengthAdjust="spacingAndGlyphs" >(b-actin)</text>
<text x="486.15" y="272.57" font-size="6.6" text-anchor="middle" fill="#2a2a2a" stroke="#2a2a2a" stroke-width="0.08" textLength="21.70" lengthAdjust="spacingAndGlyphs" >FDR=ns</text>
<path d="M458.10,277.00 L459.40,279.00 L460.10,281.50 L461.10,283.50 L462.00,286.00 L460.30,288.00 L458.10,290.10 L458.10,290.10 L455.90,288.00 L454.20,286.00 L455.10,283.50 L456.10,281.50 L456.80,279.00 L458.10,277.00 Z" fill="#fff" stroke="#2b67a6" stroke-width="1.05" stroke-linejoin="round"/>
<line x1="455.18" y1="286.00" x2="461.03" y2="286.00" stroke="#2b67a6" stroke-width="0.7" stroke-dasharray="0.9 0.7"/>
<circle cx="458.10" cy="279.62" r="0.7" fill="#2b67a6"/>
<circle cx="459.10" cy="282.24" r="0.7" fill="#2b67a6"/>
<circle cx="457.10" cy="284.86" r="0.7" fill="#2b67a6"/>
<circle cx="459.10" cy="287.48" r="0.7" fill="#2b67a6"/>
<path d="M471.40,264.90 L472.40,267.00 L473.40,270.00 L474.00,273.50 L473.20,276.50 L472.40,278.90 L473.90,281.50 L475.00,284.00 L475.50,286.70 L474.40,289.50 L472.90,292.50 L472.20,295.50 L471.40,298.80 L471.40,298.80 L470.60,295.50 L469.90,292.50 L468.40,289.50 L467.30,286.70 L467.80,284.00 L468.90,281.50 L470.40,278.90 L469.60,276.50 L468.80,273.50 L469.40,270.00 L470.40,267.00 L471.40,264.90 Z" fill="#fff" stroke="#d3223f" stroke-width="1.05" stroke-linejoin="round"/>
<line x1="468.32" y1="286.70" x2="474.47" y2="286.70" stroke="#d3223f" stroke-width="0.7" stroke-dasharray="0.9 0.7"/>
<circle cx="470.40" cy="271.68" r="0.7" fill="#d3223f"/>
<circle cx="471.40" cy="275.07" r="0.7" fill="#d3223f"/>
<circle cx="471.40" cy="278.46" r="0.7" fill="#d3223f"/>
<circle cx="472.40" cy="281.85" r="0.7" fill="#d3223f"/>
<circle cx="470.40" cy="285.24" r="0.7" fill="#d3223f"/>
<circle cx="472.40" cy="288.63" r="0.7" fill="#d3223f"/>
<circle cx="471.40" cy="292.02" r="0.7" fill="#d3223f"/>
<line x1="296.20" y1="341.30" x2="296.20" y2="393.80" stroke="#111" stroke-width="1.3"/>
<line x1="293.00" y1="344.20" x2="296.20" y2="344.20" stroke="#111" stroke-width="0.8"/>
<text x="291.90" y="346.55" font-size="6.6" text-anchor="end" fill="#222" >40</text>
<line x1="293.00" y1="355.98" x2="296.20" y2="355.98" stroke="#111" stroke-width="0.8"/>
<text x="291.90" y="358.33" font-size="6.6" text-anchor="end" fill="#222" >30</text>
<line x1="293.00" y1="367.75" x2="296.20" y2="367.75" stroke="#111" stroke-width="0.8"/>
<text x="291.90" y="370.10" font-size="6.6" text-anchor="end" fill="#222" >20</text>
<line x1="293.00" y1="379.52" x2="296.20" y2="379.52" stroke="#111" stroke-width="0.8"/>
<text x="291.90" y="381.88" font-size="6.6" text-anchor="end" fill="#222" >10</text>
<line x1="293.00" y1="391.30" x2="296.20" y2="391.30" stroke="#111" stroke-width="0.8"/>
<text x="291.90" y="393.65" font-size="6.6" text-anchor="end" fill="#222" >0</text>
<line x1="300.90" y1="396.50" x2="331.00" y2="396.50" stroke="#111" stroke-width="1.3"/>
<line x1="309.50" y1="396.50" x2="309.50" y2="399.70" stroke="#111" stroke-width="0.85"/>
<line x1="322.20" y1="396.50" x2="322.20" y2="399.70" stroke="#111" stroke-width="0.85"/>
<text x="309.50" y="406.60" font-size="6.5" text-anchor="middle" fill="#1f5c99" >WT</text>
<text x="322.20" y="406.60" font-size="6.5" text-anchor="middle" fill="#d0213d" >KO</text>
<text x="316.30" y="334.94" font-size="6.8" text-anchor="middle" fill="#111" stroke="#111" stroke-width="0.28" font-weight="bold" textLength="17.40" lengthAdjust="spacingAndGlyphs" >DDIT3</text>
<text x="316.00" y="342.24" font-size="6.8" text-anchor="middle" fill="#111" stroke="#111" stroke-width="0.28" font-weight="bold" textLength="21.80" lengthAdjust="spacingAndGlyphs" >(CHOP)</text>
<text x="315.75" y="394.87" font-size="6.3" text-anchor="middle" fill="#2a2a2a" stroke="#2a2a2a" stroke-width="0.08" textLength="26.50" lengthAdjust="spacingAndGlyphs" >FDR&lt;0.01</text>
<path d="M309.50,373.40 L310.50,376.00 L311.00,378.50 L312.50,380.50 L313.60,382.00 L311.50,383.50 L309.50,384.60 L309.50,384.60 L307.50,383.50 L305.40,382.00 L306.50,380.50 L308.00,378.50 L308.50,376.00 L309.50,373.40 Z" fill="#fff" stroke="#2b67a6" stroke-width="1.05" stroke-linejoin="round"/>
<line x1="306.43" y1="382.00" x2="312.57" y2="382.00" stroke="#2b67a6" stroke-width="0.7" stroke-dasharray="0.9 0.7"/>
<circle cx="309.50" cy="375.64" r="0.7" fill="#2b67a6"/>
<circle cx="309.50" cy="379.00" r="0.7" fill="#2b67a6"/>
<circle cx="308.50" cy="382.36" r="0.7" fill="#2b67a6"/>
<path d="M322.20,352.80 L324.40,356.00 L327.05,363.20 L324.70,369.00 L322.20,372.60 L322.20,372.60 L319.70,369.00 L317.35,363.20 L320.00,356.00 L322.20,352.80 Z" fill="#fff" stroke="#d3223f" stroke-width="1.05" stroke-linejoin="round"/>
<line x1="318.56" y1="363.20" x2="325.84" y2="363.20" stroke="#d3223f" stroke-width="0.7" stroke-dasharray="0.9 0.7"/>
<circle cx="321.20" cy="356.76" r="0.7" fill="#d3223f"/>
<circle cx="323.20" cy="359.14" r="0.7" fill="#d3223f"/>
<circle cx="321.20" cy="361.51" r="0.7" fill="#d3223f"/>
<circle cx="323.20" cy="363.89" r="0.7" fill="#d3223f"/>
<circle cx="321.20" cy="366.26" r="0.7" fill="#d3223f"/>
<circle cx="323.20" cy="368.64" r="0.7" fill="#d3223f"/>
<line x1="354.00" y1="341.30" x2="354.00" y2="393.80" stroke="#111" stroke-width="1.3"/>
<line x1="350.80" y1="344.30" x2="354.00" y2="344.30" stroke="#111" stroke-width="0.8"/>
<text x="349.70" y="346.65" font-size="6.6" text-anchor="end" fill="#222" >800</text>
<line x1="350.80" y1="356.05" x2="354.00" y2="356.05" stroke="#111" stroke-width="0.8"/>
<text x="349.70" y="358.40" font-size="6.6" text-anchor="end" fill="#222" >600</text>
<line x1="350.80" y1="367.80" x2="354.00" y2="367.80" stroke="#111" stroke-width="0.8"/>
<text x="349.70" y="370.15" font-size="6.6" text-anchor="end" fill="#222" >400</text>
<line x1="350.80" y1="379.55" x2="354.00" y2="379.55" stroke="#111" stroke-width="0.8"/>
<text x="349.70" y="381.90" font-size="6.6" text-anchor="end" fill="#222" >200</text>
<line x1="350.80" y1="391.30" x2="354.00" y2="391.30" stroke="#111" stroke-width="0.8"/>
<text x="349.70" y="393.65" font-size="6.6" text-anchor="end" fill="#222" >0</text>
<line x1="359.40" y1="396.50" x2="388.80" y2="396.50" stroke="#111" stroke-width="1.3"/>
<line x1="368.00" y1="396.50" x2="368.00" y2="399.70" stroke="#111" stroke-width="0.85"/>
<line x1="380.70" y1="396.50" x2="380.70" y2="399.70" stroke="#111" stroke-width="0.85"/>
<text x="368.00" y="406.60" font-size="6.5" text-anchor="middle" fill="#1f5c99" >WT</text>
<text x="380.70" y="406.60" font-size="6.5" text-anchor="middle" fill="#d0213d" >KO</text>
<text x="374.25" y="338.94" font-size="6.8" text-anchor="middle" fill="#111" stroke="#111" stroke-width="0.28" font-weight="bold" textLength="14.50" lengthAdjust="spacingAndGlyphs" >ATF4</text>
<text x="374.15" y="394.87" font-size="6.3" text-anchor="middle" fill="#2a2a2a" stroke="#2a2a2a" stroke-width="0.08" textLength="26.50" lengthAdjust="spacingAndGlyphs" >FDR&lt;0.01</text>
<path d="M368.00,348.70 L369.00,351.00 L369.80,355.00 L369.20,358.00 L369.90,361.00 L370.50,364.00 L371.80,367.00 L372.50,370.70 L371.50,374.00 L369.50,377.00 L368.00,381.00 L368.00,381.00 L366.50,377.00 L364.50,374.00 L363.50,370.70 L364.20,367.00 L365.50,364.00 L366.10,361.00 L366.80,358.00 L366.20,355.00 L367.00,351.00 L368.00,348.70 Z" fill="#fff" stroke="#2b67a6" stroke-width="1.05" stroke-linejoin="round"/>
<line x1="364.62" y1="370.70" x2="371.38" y2="370.70" stroke="#2b67a6" stroke-width="0.7" stroke-dasharray="0.9 0.7"/>
<circle cx="368.00" cy="355.16" r="0.7" fill="#2b67a6"/>
<circle cx="368.00" cy="358.39" r="0.7" fill="#2b67a6"/>
<circle cx="368.00" cy="361.62" r="0.7" fill="#2b67a6"/>
<circle cx="369.00" cy="364.85" r="0.7" fill="#2b67a6"/>
<circle cx="367.00" cy="368.08" r="0.7" fill="#2b67a6"/>
<circle cx="369.00" cy="371.31" r="0.7" fill="#2b67a6"/>
<circle cx="367.00" cy="374.54" r="0.7" fill="#2b67a6"/>
<path d="M380.70,349.40 L382.70,351.50 L384.65,354.10 L382.70,357.00 L381.90,359.00 L382.50,361.00 L381.70,363.00 L380.70,364.90 L380.70,364.90 L379.70,363.00 L378.90,361.00 L379.50,359.00 L378.70,357.00 L376.75,354.10 L378.70,351.50 L380.70,349.40 Z" fill="#fff" stroke="#d3223f" stroke-width="1.05" stroke-linejoin="round"/>
<line x1="377.74" y1="354.10" x2="383.66" y2="354.10" stroke="#d3223f" stroke-width="0.7" stroke-dasharray="0.9 0.7"/>
<circle cx="379.70" cy="352.50" r="0.7" fill="#d3223f"/>
<circle cx="381.70" cy="355.60" r="0.7" fill="#d3223f"/>
<circle cx="380.70" cy="358.70" r="0.7" fill="#d3223f"/>
<circle cx="380.70" cy="361.80" r="0.7" fill="#d3223f"/>
<line x1="417.10" y1="341.30" x2="417.10" y2="393.80" stroke="#111" stroke-width="1.3"/>
<line x1="413.90" y1="344.00" x2="417.10" y2="344.00" stroke="#111" stroke-width="0.8"/>
<text x="412.80" y="346.35" font-size="6.6" text-anchor="end" fill="#222" >250</text>
<line x1="413.90" y1="359.87" x2="417.10" y2="359.87" stroke="#111" stroke-width="0.8"/>
<text x="412.80" y="362.22" font-size="6.6" text-anchor="end" fill="#222" >200</text>
<line x1="413.90" y1="375.73" x2="417.10" y2="375.73" stroke="#111" stroke-width="0.8"/>
<text x="412.80" y="378.08" font-size="6.6" text-anchor="end" fill="#222" >150</text>
<line x1="413.90" y1="391.60" x2="417.10" y2="391.60" stroke="#111" stroke-width="0.8"/>
<text x="412.80" y="393.95" font-size="6.6" text-anchor="end" fill="#222" >100</text>
<line x1="421.90" y1="396.50" x2="451.60" y2="396.50" stroke="#111" stroke-width="1.3"/>
<line x1="430.30" y1="396.50" x2="430.30" y2="399.70" stroke="#111" stroke-width="0.85"/>
<line x1="443.20" y1="396.50" x2="443.20" y2="399.70" stroke="#111" stroke-width="0.85"/>
<text x="430.30" y="406.60" font-size="6.5" text-anchor="middle" fill="#1f5c99" >WT</text>
<text x="443.20" y="406.60" font-size="6.5" text-anchor="middle" fill="#d0213d" >KO</text>
<text x="436.40" y="338.84" font-size="6.8" text-anchor="middle" fill="#111" stroke="#111" stroke-width="0.28" font-weight="bold" textLength="34.80" lengthAdjust="spacingAndGlyphs" >ERN1 (IRE1)</text>
<text x="436.90" y="394.87" font-size="6.3" text-anchor="middle" fill="#2a2a2a" stroke="#2a2a2a" stroke-width="0.08" textLength="28.00" lengthAdjust="spacingAndGlyphs" >FDR&lt;0.05</text>
<path d="M430.30,355.30 L431.80,358.00 L433.60,361.00 L434.70,363.80 L433.10,365.80 L431.90,367.40 L432.90,369.00 L433.30,370.70 L432.10,373.00 L431.10,375.50 L430.30,378.10 L430.30,378.10 L429.50,375.50 L428.50,373.00 L427.30,370.70 L427.70,369.00 L428.70,367.40 L427.50,365.80 L425.90,363.80 L427.00,361.00 L428.80,358.00 L430.30,355.30 Z" fill="#fff" stroke="#2b67a6" stroke-width="1.05" stroke-linejoin="round"/>
<line x1="427.00" y1="363.80" x2="433.60" y2="363.80" stroke="#2b67a6" stroke-width="0.7" stroke-dasharray="0.9 0.7"/>
<circle cx="429.30" cy="359.86" r="0.7" fill="#2b67a6"/>
<circle cx="431.30" cy="362.14" r="0.7" fill="#2b67a6"/>
<circle cx="429.30" cy="364.42" r="0.7" fill="#2b67a6"/>
<circle cx="430.30" cy="366.70" r="0.7" fill="#2b67a6"/>
<circle cx="429.30" cy="368.98" r="0.7" fill="#2b67a6"/>
<circle cx="431.30" cy="371.26" r="0.7" fill="#2b67a6"/>
<circle cx="430.30" cy="373.54" r="0.7" fill="#2b67a6"/>
<path d="M443.20,347.20 L445.70,349.30 L447.45,351.60 L445.80,354.00 L444.40,356.30 L445.00,358.50 L444.70,361.00 L443.20,364.90 L443.20,364.90 L441.70,361.00 L441.40,358.50 L442.00,356.30 L440.60,354.00 L438.95,351.60 L440.70,349.30 L443.20,347.20 Z" fill="#fff" stroke="#d3223f" stroke-width="1.05" stroke-linejoin="round"/>
<line x1="440.01" y1="351.60" x2="446.39" y2="351.60" stroke="#d3223f" stroke-width="0.7" stroke-dasharray="0.9 0.7"/>
<circle cx="442.20" cy="350.74" r="0.7" fill="#d3223f"/>
<circle cx="444.20" cy="353.39" r="0.7" fill="#d3223f"/>
<circle cx="443.20" cy="356.05" r="0.7" fill="#d3223f"/>
<circle cx="443.20" cy="358.70" r="0.7" fill="#d3223f"/>
<circle cx="443.20" cy="361.36" r="0.7" fill="#d3223f"/>
<line x1="476.40" y1="341.30" x2="476.40" y2="393.80" stroke="#111" stroke-width="1.3"/>
<line x1="473.20" y1="344.20" x2="476.40" y2="344.20" stroke="#111" stroke-width="0.8"/>
<text x="472.10" y="346.55" font-size="6.6" text-anchor="end" fill="#222" >30</text>
<line x1="473.20" y1="359.87" x2="476.40" y2="359.87" stroke="#111" stroke-width="0.8"/>
<text x="472.10" y="362.22" font-size="6.6" text-anchor="end" fill="#222" >20</text>
<line x1="473.20" y1="375.53" x2="476.40" y2="375.53" stroke="#111" stroke-width="0.8"/>
<text x="472.10" y="377.88" font-size="6.6" text-anchor="end" fill="#222" >10</text>
<line x1="473.20" y1="391.20" x2="476.40" y2="391.20" stroke="#111" stroke-width="0.8"/>
<text x="472.10" y="393.55" font-size="6.6" text-anchor="end" fill="#222" >0</text>
<line x1="481.90" y1="396.50" x2="510.70" y2="396.50" stroke="#111" stroke-width="1.3"/>
<line x1="490.40" y1="396.50" x2="490.40" y2="399.70" stroke="#111" stroke-width="0.85"/>
<line x1="502.90" y1="396.50" x2="502.90" y2="399.70" stroke="#111" stroke-width="0.85"/>
<text x="490.40" y="406.60" font-size="6.5" text-anchor="middle" fill="#1f5c99" >WT</text>
<text x="502.90" y="406.60" font-size="6.5" text-anchor="middle" fill="#d0213d" >KO</text>
<text x="496.50" y="335.24" font-size="6.8" text-anchor="middle" fill="#111" stroke="#111" stroke-width="0.28" font-weight="bold" textLength="30.80" lengthAdjust="spacingAndGlyphs" >PPP1R15A</text>
<text x="496.50" y="342.24" font-size="6.8" text-anchor="middle" fill="#111" stroke="#111" stroke-width="0.28" font-weight="bold" textLength="28.40" lengthAdjust="spacingAndGlyphs" >(GADD34)</text>
<text x="496.50" y="394.87" font-size="6.3" text-anchor="middle" fill="#2a2a2a" stroke="#2a2a2a" stroke-width="0.08" textLength="22.00" lengthAdjust="spacingAndGlyphs" >FDR=ns</text>
<path d="M490.40,360.90 L492.20,363.50 L493.40,366.00 L494.75,368.70 L493.00,371.50 L491.60,374.00 L491.60,376.00 L490.40,378.00 L490.40,378.00 L489.20,376.00 L489.20,374.00 L487.80,371.50 L486.05,368.70 L487.40,366.00 L488.60,363.50 L490.40,360.90 Z" fill="#fff" stroke="#2b67a6" stroke-width="1.05" stroke-linejoin="round"/>
<line x1="487.14" y1="368.70" x2="493.66" y2="368.70" stroke="#2b67a6" stroke-width="0.7" stroke-dasharray="0.9 0.7"/>
<circle cx="490.40" cy="364.32" r="0.7" fill="#2b67a6"/>
<circle cx="491.40" cy="366.88" r="0.7" fill="#2b67a6"/>
<circle cx="489.40" cy="369.45" r="0.7" fill="#2b67a6"/>
<circle cx="491.40" cy="372.01" r="0.7" fill="#2b67a6"/>
<circle cx="490.40" cy="374.58" r="0.7" fill="#2b67a6"/>
<path d="M502.90,350.00 L504.40,352.50 L505.30,355.00 L505.50,358.00 L505.70,361.00 L506.50,363.00 L507.00,365.50 L505.90,368.00 L504.40,370.00 L502.90,371.80 L502.90,371.80 L501.40,370.00 L499.90,368.00 L498.80,365.50 L499.30,363.00 L500.10,361.00 L500.30,358.00 L500.50,355.00 L501.40,352.50 L502.90,350.00 Z" fill="#fff" stroke="#d3223f" stroke-width="1.05" stroke-linejoin="round"/>
<line x1="499.82" y1="365.50" x2="505.97" y2="365.50" stroke="#d3223f" stroke-width="0.7" stroke-dasharray="0.9 0.7"/>
<circle cx="502.90" cy="354.36" r="0.7" fill="#d3223f"/>
<circle cx="503.90" cy="356.98" r="0.7" fill="#d3223f"/>
<circle cx="501.90" cy="359.59" r="0.7" fill="#d3223f"/>
<circle cx="503.90" cy="362.21" r="0.7" fill="#d3223f"/>
<circle cx="501.90" cy="364.82" r="0.7" fill="#d3223f"/>
<circle cx="503.90" cy="367.44" r="0.7" fill="#d3223f"/>
<line x1="296.10" y1="424.20" x2="296.10" y2="476.80" stroke="#111" stroke-width="1.3"/>
<line x1="292.90" y1="426.70" x2="296.10" y2="426.70" stroke="#111" stroke-width="0.8"/>
<text x="291.80" y="429.05" font-size="6.6" text-anchor="end" fill="#222" >250</text>
<line x1="292.90" y1="436.10" x2="296.10" y2="436.10" stroke="#111" stroke-width="0.8"/>
<text x="291.80" y="438.45" font-size="6.6" text-anchor="end" fill="#222" >200</text>
<line x1="292.90" y1="445.50" x2="296.10" y2="445.50" stroke="#111" stroke-width="0.8"/>
<text x="291.80" y="447.85" font-size="6.6" text-anchor="end" fill="#222" >150</text>
<line x1="292.90" y1="454.90" x2="296.10" y2="454.90" stroke="#111" stroke-width="0.8"/>
<text x="291.80" y="457.25" font-size="6.6" text-anchor="end" fill="#222" >100</text>
<line x1="292.90" y1="464.30" x2="296.10" y2="464.30" stroke="#111" stroke-width="0.8"/>
<text x="291.80" y="466.65" font-size="6.6" text-anchor="end" fill="#222" >50</text>
<line x1="292.90" y1="473.70" x2="296.10" y2="473.70" stroke="#111" stroke-width="0.8"/>
<text x="291.80" y="476.05" font-size="6.6" text-anchor="end" fill="#222" >0</text>
<line x1="301.10" y1="479.20" x2="330.70" y2="479.20" stroke="#111" stroke-width="1.3"/>
<line x1="309.70" y1="479.20" x2="309.70" y2="482.40" stroke="#111" stroke-width="0.85"/>
<line x1="322.60" y1="479.20" x2="322.60" y2="482.40" stroke="#111" stroke-width="0.85"/>
<text x="309.70" y="488.70" font-size="6.5" text-anchor="middle" fill="#1f5c99" >WT</text>
<text x="322.60" y="488.70" font-size="6.5" text-anchor="middle" fill="#d0213d" >KO</text>
<text x="315.95" y="421.34" font-size="6.8" text-anchor="middle" fill="#111" stroke="#111" stroke-width="0.28" font-weight="bold" textLength="17.90" lengthAdjust="spacingAndGlyphs" >XBP-1</text>
<text x="315.65" y="477.27" font-size="6.3" text-anchor="middle" fill="#2a2a2a" stroke="#2a2a2a" stroke-width="0.08" textLength="22.30" lengthAdjust="spacingAndGlyphs" >FDR=ns</text>
<path d="M309.70,433.00 L311.20,435.50 L312.20,438.90 L311.50,441.00 L311.00,442.30 L312.70,444.50 L314.10,447.00 L312.50,450.00 L311.00,453.00 L310.50,456.00 L309.70,459.10 L309.70,459.10 L308.90,456.00 L308.40,453.00 L306.90,450.00 L305.30,447.00 L306.70,444.50 L308.40,442.30 L307.90,441.00 L307.20,438.90 L308.20,435.50 L309.70,433.00 Z" fill="#fff" stroke="#2b67a6" stroke-width="1.05" stroke-linejoin="round"/>
<line x1="306.40" y1="447.00" x2="313.00" y2="447.00" stroke="#2b67a6" stroke-width="0.7" stroke-dasharray="0.9 0.7"/>
<circle cx="308.70" cy="438.22" r="0.7" fill="#2b67a6"/>
<circle cx="309.70" cy="440.83" r="0.7" fill="#2b67a6"/>
<circle cx="309.70" cy="443.44" r="0.7" fill="#2b67a6"/>
<circle cx="310.70" cy="446.05" r="0.7" fill="#2b67a6"/>
<circle cx="308.70" cy="448.66" r="0.7" fill="#2b67a6"/>
<circle cx="309.70" cy="451.27" r="0.7" fill="#2b67a6"/>
<circle cx="309.70" cy="453.88" r="0.7" fill="#2b67a6"/>
<path d="M322.60,440.10 L324.60,442.50 L326.90,446.20 L325.40,448.60 L324.80,449.80 L325.30,452.10 L323.80,454.00 L322.60,455.20 L322.60,455.20 L321.40,454.00 L319.90,452.10 L320.40,449.80 L319.80,448.60 L318.30,446.20 L320.60,442.50 L322.60,440.10 Z" fill="#fff" stroke="#d3223f" stroke-width="1.05" stroke-linejoin="round"/>
<line x1="319.38" y1="446.20" x2="325.83" y2="446.20" stroke="#d3223f" stroke-width="0.7" stroke-dasharray="0.9 0.7"/>
<circle cx="321.60" cy="443.12" r="0.7" fill="#d3223f"/>
<circle cx="323.60" cy="446.14" r="0.7" fill="#d3223f"/>
<circle cx="321.60" cy="449.16" r="0.7" fill="#d3223f"/>
<circle cx="323.60" cy="452.18" r="0.7" fill="#d3223f"/>
<line x1="354.10" y1="424.20" x2="354.10" y2="476.80" stroke="#111" stroke-width="1.3"/>
<line x1="350.90" y1="426.70" x2="354.10" y2="426.70" stroke="#111" stroke-width="0.8"/>
<text x="349.80" y="429.05" font-size="6.6" text-anchor="end" fill="#222" >60</text>
<line x1="350.90" y1="438.43" x2="354.10" y2="438.43" stroke="#111" stroke-width="0.8"/>
<text x="349.80" y="440.78" font-size="6.6" text-anchor="end" fill="#222" >55</text>
<line x1="350.90" y1="450.15" x2="354.10" y2="450.15" stroke="#111" stroke-width="0.8"/>
<text x="349.80" y="452.50" font-size="6.6" text-anchor="end" fill="#222" >50</text>
<line x1="350.90" y1="461.88" x2="354.10" y2="461.88" stroke="#111" stroke-width="0.8"/>
<text x="349.80" y="464.23" font-size="6.6" text-anchor="end" fill="#222" >45</text>
<line x1="350.90" y1="473.60" x2="354.10" y2="473.60" stroke="#111" stroke-width="0.8"/>
<text x="349.80" y="475.95" font-size="6.6" text-anchor="end" fill="#222" >40</text>
<line x1="359.50" y1="479.20" x2="388.80" y2="479.20" stroke="#111" stroke-width="1.3"/>
<line x1="368.10" y1="479.20" x2="368.10" y2="482.40" stroke="#111" stroke-width="0.85"/>
<line x1="380.50" y1="479.20" x2="380.50" y2="482.40" stroke="#111" stroke-width="0.85"/>
<text x="368.10" y="488.70" font-size="6.5" text-anchor="middle" fill="#1f5c99" >WT</text>
<text x="380.50" y="488.70" font-size="6.5" text-anchor="middle" fill="#d0213d" >KO</text>
<text x="374.35" y="417.54" font-size="6.8" text-anchor="middle" fill="#111" stroke="#111" stroke-width="0.28" font-weight="bold" textLength="24.90" lengthAdjust="spacingAndGlyphs" >EIF2AK3</text>
<text x="374.55" y="424.84" font-size="6.8" text-anchor="middle" fill="#111" stroke="#111" stroke-width="0.28" font-weight="bold" textLength="21.30" lengthAdjust="spacingAndGlyphs" >(PERK)</text>
<text x="374.10" y="477.27" font-size="6.3" text-anchor="middle" fill="#2a2a2a" stroke="#2a2a2a" stroke-width="0.08" textLength="22.20" lengthAdjust="spacingAndGlyphs" >FDR=ns</text>
<path d="M368.10,437.30 L370.30,439.30 L372.55,442.80 L371.50,445.50 L370.70,448.00 L370.70,451.00 L370.50,454.00 L369.70,456.50 L368.90,458.50 L368.10,460.30 L368.10,460.30 L367.30,458.50 L366.50,456.50 L365.70,454.00 L365.50,451.00 L365.50,448.00 L364.70,445.50 L363.65,442.80 L365.90,439.30 L368.10,437.30 Z" fill="#fff" stroke="#2b67a6" stroke-width="1.05" stroke-linejoin="round"/>
<line x1="364.76" y1="442.80" x2="371.44" y2="442.80" stroke="#2b67a6" stroke-width="0.7" stroke-dasharray="0.9 0.7"/>
<circle cx="367.10" cy="441.90" r="0.7" fill="#2b67a6"/>
<circle cx="369.10" cy="444.20" r="0.7" fill="#2b67a6"/>
<circle cx="367.10" cy="446.50" r="0.7" fill="#2b67a6"/>
<circle cx="369.10" cy="448.80" r="0.7" fill="#2b67a6"/>
<circle cx="367.10" cy="451.10" r="0.7" fill="#2b67a6"/>
<circle cx="369.10" cy="453.40" r="0.7" fill="#2b67a6"/>
<circle cx="368.10" cy="455.70" r="0.7" fill="#2b67a6"/>
<path d="M380.50,438.90 L381.50,442.00 L382.70,445.00 L384.10,447.50 L384.95,450.10 L383.50,452.50 L382.30,454.40 L383.60,457.50 L382.50,460.00 L381.40,463.00 L380.50,466.60 L380.50,466.60 L379.60,463.00 L378.50,460.00 L377.40,457.50 L378.70,454.40 L377.50,452.50 L376.05,450.10 L376.90,447.50 L378.30,445.00 L379.50,442.00 L380.50,438.90 Z" fill="#fff" stroke="#d3223f" stroke-width="1.05" stroke-linejoin="round"/>
<line x1="377.16" y1="450.10" x2="383.84" y2="450.10" stroke="#d3223f" stroke-width="0.7" stroke-dasharray="0.9 0.7"/>
<circle cx="380.50" cy="444.44" r="0.7" fill="#d3223f"/>
<circle cx="381.50" cy="447.21" r="0.7" fill="#d3223f"/>
<circle cx="379.50" cy="449.98" r="0.7" fill="#d3223f"/>
<circle cx="381.50" cy="452.75" r="0.7" fill="#d3223f"/>
<circle cx="379.50" cy="455.52" r="0.7" fill="#d3223f"/>
<circle cx="381.50" cy="458.29" r="0.7" fill="#d3223f"/>
<circle cx="380.50" cy="461.06" r="0.7" fill="#d3223f"/>
<line x1="416.60" y1="424.20" x2="416.60" y2="476.80" stroke="#111" stroke-width="1.3"/>
<line x1="413.40" y1="426.70" x2="416.60" y2="426.70" stroke="#111" stroke-width="0.8"/>
<text x="412.30" y="429.05" font-size="6.6" text-anchor="end" fill="#222" >140</text>
<line x1="413.40" y1="438.45" x2="416.60" y2="438.45" stroke="#111" stroke-width="0.8"/>
<text x="412.30" y="440.80" font-size="6.6" text-anchor="end" fill="#222" >120</text>
<line x1="413.40" y1="450.20" x2="416.60" y2="450.20" stroke="#111" stroke-width="0.8"/>
<text x="412.30" y="452.55" font-size="6.6" text-anchor="end" fill="#222" >100</text>
<line x1="413.40" y1="461.95" x2="416.60" y2="461.95" stroke="#111" stroke-width="0.8"/>
<text x="412.30" y="464.30" font-size="6.6" text-anchor="end" fill="#222" >80</text>
<line x1="413.40" y1="473.70" x2="416.60" y2="473.70" stroke="#111" stroke-width="0.8"/>
<text x="412.30" y="476.05" font-size="6.6" text-anchor="end" fill="#222" >60</text>
<line x1="422.20" y1="479.20" x2="451.30" y2="479.20" stroke="#111" stroke-width="1.3"/>
<line x1="430.50" y1="479.20" x2="430.50" y2="482.40" stroke="#111" stroke-width="0.85"/>
<line x1="443.20" y1="479.20" x2="443.20" y2="482.40" stroke="#111" stroke-width="0.85"/>
<text x="430.50" y="488.70" font-size="6.5" text-anchor="middle" fill="#1f5c99" >WT</text>
<text x="443.20" y="488.70" font-size="6.5" text-anchor="middle" fill="#d0213d" >KO</text>
<text x="434.70" y="421.34" font-size="6.8" text-anchor="middle" fill="#111" stroke="#111" stroke-width="0.28" font-weight="bold" textLength="14.00" lengthAdjust="spacingAndGlyphs" >ATF6</text>
<text x="436.85" y="477.27" font-size="6.3" text-anchor="middle" fill="#2a2a2a" stroke="#2a2a2a" stroke-width="0.08" textLength="22.10" lengthAdjust="spacingAndGlyphs" >FDR=ns</text>
<path d="M430.50,440.10 L431.50,441.50 L431.90,443.50 L431.50,446.00 L432.00,448.50 L433.50,450.50 L435.00,452.90 L433.30,455.00 L431.70,457.00 L430.50,458.80 L430.50,458.80 L429.30,457.00 L427.70,455.00 L426.00,452.90 L427.50,450.50 L429.00,448.50 L429.50,446.00 L429.10,443.50 L429.50,441.50 L430.50,440.10 Z" fill="#fff" stroke="#2b67a6" stroke-width="1.05" stroke-linejoin="round"/>
<line x1="427.12" y1="452.90" x2="433.88" y2="452.90" stroke="#2b67a6" stroke-width="0.7" stroke-dasharray="0.9 0.7"/>
<circle cx="430.50" cy="443.84" r="0.7" fill="#2b67a6"/>
<circle cx="430.50" cy="446.65" r="0.7" fill="#2b67a6"/>
<circle cx="429.50" cy="449.45" r="0.7" fill="#2b67a6"/>
<circle cx="431.50" cy="452.25" r="0.7" fill="#2b67a6"/>
<circle cx="429.50" cy="455.06" r="0.7" fill="#2b67a6"/>
<path d="M443.20,437.30 L444.20,439.50 L445.20,442.00 L446.60,446.00 L447.70,450.50 L446.60,453.00 L444.80,455.50 L444.40,458.00 L444.80,460.00 L445.10,462.20 L444.40,464.50 L443.90,467.00 L443.20,469.20 L443.20,469.20 L442.50,467.00 L442.00,464.50 L441.30,462.20 L441.60,460.00 L442.00,458.00 L441.60,455.50 L439.80,453.00 L438.70,450.50 L439.80,446.00 L441.20,442.00 L442.20,439.50 L443.20,437.30 Z" fill="#fff" stroke="#d3223f" stroke-width="1.05" stroke-linejoin="round"/>
<line x1="439.82" y1="450.50" x2="446.57" y2="450.50" stroke="#d3223f" stroke-width="0.7" stroke-dasharray="0.9 0.7"/>
<circle cx="442.20" cy="443.68" r="0.7" fill="#d3223f"/>
<circle cx="444.20" cy="446.87" r="0.7" fill="#d3223f"/>
<circle cx="442.20" cy="450.06" r="0.7" fill="#d3223f"/>
<circle cx="444.20" cy="453.25" r="0.7" fill="#d3223f"/>
<circle cx="443.20" cy="456.44" r="0.7" fill="#d3223f"/>
<circle cx="443.20" cy="459.63" r="0.7" fill="#d3223f"/>
<circle cx="443.20" cy="462.82" r="0.7" fill="#d3223f"/>
<line x1="476.10" y1="424.20" x2="476.10" y2="476.80" stroke="#111" stroke-width="1.3"/>
<line x1="472.90" y1="426.70" x2="476.10" y2="426.70" stroke="#111" stroke-width="0.8"/>
<text x="471.80" y="429.05" font-size="6.6" text-anchor="end" fill="#222" >200</text>
<line x1="472.90" y1="436.10" x2="476.10" y2="436.10" stroke="#111" stroke-width="0.8"/>
<text x="471.80" y="438.45" font-size="6.6" text-anchor="end" fill="#222" >190</text>
<line x1="472.90" y1="445.50" x2="476.10" y2="445.50" stroke="#111" stroke-width="0.8"/>
<text x="471.80" y="447.85" font-size="6.6" text-anchor="end" fill="#222" >180</text>
<line x1="472.90" y1="454.90" x2="476.10" y2="454.90" stroke="#111" stroke-width="0.8"/>
<text x="471.80" y="457.25" font-size="6.6" text-anchor="end" fill="#222" >170</text>
<line x1="472.90" y1="464.30" x2="476.10" y2="464.30" stroke="#111" stroke-width="0.8"/>
<text x="471.80" y="466.65" font-size="6.6" text-anchor="end" fill="#222" >160</text>
<line x1="472.90" y1="473.70" x2="476.10" y2="473.70" stroke="#111" stroke-width="0.8"/>
<text x="471.80" y="476.05" font-size="6.6" text-anchor="end" fill="#222" >150</text>
<line x1="481.90" y1="479.20" x2="511.00" y2="479.20" stroke="#111" stroke-width="1.3"/>
<line x1="490.10" y1="479.20" x2="490.10" y2="482.40" stroke="#111" stroke-width="0.85"/>
<line x1="502.90" y1="479.20" x2="502.90" y2="482.40" stroke="#111" stroke-width="0.85"/>
<text x="490.10" y="488.70" font-size="6.5" text-anchor="middle" fill="#1f5c99" >WT</text>
<text x="502.90" y="488.70" font-size="6.5" text-anchor="middle" fill="#d0213d" >KO</text>
<text x="493.15" y="421.34" font-size="6.8" text-anchor="middle" fill="#111" stroke="#111" stroke-width="0.28" font-weight="bold" textLength="17.30" lengthAdjust="spacingAndGlyphs" >EIF2A</text>
<text x="496.50" y="477.27" font-size="6.3" text-anchor="middle" fill="#2a2a2a" stroke="#2a2a2a" stroke-width="0.08" textLength="22.00" lengthAdjust="spacingAndGlyphs" >FDR=ns</text>
<path d="M490.10,437.30 L491.60,440.00 L493.60,442.50 L494.75,445.10 L493.40,447.50 L492.30,449.80 L492.10,452.90 L492.85,456.00 L491.70,459.00 L491.10,461.00 L490.10,463.50 L490.10,463.50 L489.10,461.00 L488.50,459.00 L487.35,456.00 L488.10,452.90 L487.90,449.80 L486.80,447.50 L485.45,445.10 L486.60,442.50 L488.60,440.00 L490.10,437.30 Z" fill="#fff" stroke="#2b67a6" stroke-width="1.05" stroke-linejoin="round"/>
<line x1="486.61" y1="445.10" x2="493.59" y2="445.10" stroke="#2b67a6" stroke-width="0.7" stroke-dasharray="0.9 0.7"/>
<circle cx="489.10" cy="442.54" r="0.7" fill="#2b67a6"/>
<circle cx="491.10" cy="445.16" r="0.7" fill="#2b67a6"/>
<circle cx="489.10" cy="447.78" r="0.7" fill="#2b67a6"/>
<circle cx="490.10" cy="450.40" r="0.7" fill="#2b67a6"/>
<circle cx="490.10" cy="453.02" r="0.7" fill="#2b67a6"/>
<circle cx="491.10" cy="455.64" r="0.7" fill="#2b67a6"/>
<circle cx="490.10" cy="458.26" r="0.7" fill="#2b67a6"/>
<path d="M502.90,440.70 L504.40,443.00 L506.15,446.70 L504.90,449.30 L505.10,450.50 L506.50,452.80 L507.55,455.20 L505.90,457.80 L504.40,460.00 L503.70,462.00 L502.90,463.80 L502.90,463.80 L502.10,462.00 L501.40,460.00 L499.90,457.80 L498.25,455.20 L499.30,452.80 L500.70,450.50 L500.90,449.30 L499.65,446.70 L501.40,443.00 L502.90,440.70 Z" fill="#fff" stroke="#d3223f" stroke-width="1.05" stroke-linejoin="round"/>
<line x1="499.41" y1="455.20" x2="506.39" y2="455.20" stroke="#d3223f" stroke-width="0.7" stroke-dasharray="0.9 0.7"/>
<circle cx="501.90" cy="445.32" r="0.7" fill="#d3223f"/>
<circle cx="503.90" cy="447.63" r="0.7" fill="#d3223f"/>
<circle cx="502.90" cy="449.94" r="0.7" fill="#d3223f"/>
<circle cx="503.90" cy="452.25" r="0.7" fill="#d3223f"/>
<circle cx="501.90" cy="454.56" r="0.7" fill="#d3223f"/>
<circle cx="503.90" cy="456.87" r="0.7" fill="#d3223f"/>
<circle cx="502.90" cy="459.18" r="0.7" fill="#d3223f"/>
<line x1="296.20" y1="506.60" x2="296.20" y2="559.30" stroke="#111" stroke-width="1.3"/>
<line x1="293.00" y1="509.70" x2="296.20" y2="509.70" stroke="#111" stroke-width="0.8"/>
<text x="291.90" y="512.05" font-size="6.6" text-anchor="end" fill="#222" >200</text>
<line x1="293.00" y1="521.42" x2="296.20" y2="521.42" stroke="#111" stroke-width="0.8"/>
<text x="291.90" y="523.77" font-size="6.6" text-anchor="end" fill="#222" >150</text>
<line x1="293.00" y1="533.15" x2="296.20" y2="533.15" stroke="#111" stroke-width="0.8"/>
<text x="291.90" y="535.50" font-size="6.6" text-anchor="end" fill="#222" >100</text>
<line x1="293.00" y1="544.88" x2="296.20" y2="544.88" stroke="#111" stroke-width="0.8"/>
<text x="291.90" y="547.23" font-size="6.6" text-anchor="end" fill="#222" >50</text>
<line x1="293.00" y1="556.60" x2="296.20" y2="556.60" stroke="#111" stroke-width="0.8"/>
<text x="291.90" y="558.95" font-size="6.6" text-anchor="end" fill="#222" >0</text>
<line x1="301.10" y1="562.20" x2="330.90" y2="562.20" stroke="#111" stroke-width="1.3"/>
<line x1="309.60" y1="562.20" x2="309.60" y2="565.40" stroke="#111" stroke-width="0.85"/>
<line x1="322.50" y1="562.20" x2="322.50" y2="565.40" stroke="#111" stroke-width="0.85"/>
<text x="309.60" y="571.30" font-size="6.5" text-anchor="middle" fill="#1f5c99" >WT</text>
<text x="322.50" y="571.30" font-size="6.5" text-anchor="middle" fill="#d0213d" >KO</text>
<text x="316.25" y="504.04" font-size="6.8" text-anchor="middle" fill="#111" stroke="#111" stroke-width="0.28" font-weight="bold" textLength="14.70" lengthAdjust="spacingAndGlyphs" >BCL2</text>
<text x="316.00" y="560.17" font-size="6.3" text-anchor="middle" fill="#2a2a2a" stroke="#2a2a2a" stroke-width="0.08" textLength="27.80" lengthAdjust="spacingAndGlyphs" >FDR&lt;0.05</text>
<path d="M309.60,526.10 L310.60,528.00 L311.10,530.50 L311.30,532.50 L311.40,535.00 L312.60,537.50 L313.95,541.00 L312.80,544.50 L311.40,548.00 L310.60,551.00 L309.60,553.70 L309.60,553.70 L308.60,551.00 L307.80,548.00 L306.40,544.50 L305.25,541.00 L306.60,537.50 L307.80,535.00 L307.90,532.50 L308.10,530.50 L308.60,528.00 L309.60,526.10 Z" fill="#fff" stroke="#2b67a6" stroke-width="1.05" stroke-linejoin="round"/>
<line x1="306.34" y1="541.00" x2="312.86" y2="541.00" stroke="#2b67a6" stroke-width="0.7" stroke-dasharray="0.9 0.7"/>
<circle cx="309.60" cy="531.62" r="0.7" fill="#2b67a6"/>
<circle cx="309.60" cy="534.38" r="0.7" fill="#2b67a6"/>
<circle cx="308.60" cy="537.14" r="0.7" fill="#2b67a6"/>
<circle cx="310.60" cy="539.90" r="0.7" fill="#2b67a6"/>
<circle cx="308.60" cy="542.66" r="0.7" fill="#2b67a6"/>
<circle cx="310.60" cy="545.42" r="0.7" fill="#2b67a6"/>
<circle cx="309.60" cy="548.18" r="0.7" fill="#2b67a6"/>
<path d="M322.50,520.70 L323.70,522.50 L324.30,524.90 L324.10,527.00 L325.00,529.00 L327.00,532.90 L325.50,536.00 L324.00,538.50 L322.50,541.40 L322.50,541.40 L321.00,538.50 L319.50,536.00 L318.00,532.90 L320.00,529.00 L320.90,527.00 L320.70,524.90 L321.30,522.50 L322.50,520.70 Z" fill="#fff" stroke="#d3223f" stroke-width="1.05" stroke-linejoin="round"/>
<line x1="319.12" y1="532.90" x2="325.88" y2="532.90" stroke="#d3223f" stroke-width="0.7" stroke-dasharray="0.9 0.7"/>
<circle cx="322.50" cy="524.84" r="0.7" fill="#d3223f"/>
<circle cx="322.50" cy="527.32" r="0.7" fill="#d3223f"/>
<circle cx="321.50" cy="529.81" r="0.7" fill="#d3223f"/>
<circle cx="323.50" cy="532.29" r="0.7" fill="#d3223f"/>
<circle cx="321.50" cy="534.78" r="0.7" fill="#d3223f"/>
<circle cx="323.50" cy="537.26" r="0.7" fill="#d3223f"/>
<line x1="354.60" y1="506.60" x2="354.60" y2="559.30" stroke="#111" stroke-width="1.3"/>
<line x1="351.40" y1="509.70" x2="354.60" y2="509.70" stroke="#111" stroke-width="0.8"/>
<text x="350.30" y="512.05" font-size="6.6" text-anchor="end" fill="#222" >40</text>
<line x1="351.40" y1="521.42" x2="354.60" y2="521.42" stroke="#111" stroke-width="0.8"/>
<text x="350.30" y="523.77" font-size="6.6" text-anchor="end" fill="#222" >30</text>
<line x1="351.40" y1="533.15" x2="354.60" y2="533.15" stroke="#111" stroke-width="0.8"/>
<text x="350.30" y="535.50" font-size="6.6" text-anchor="end" fill="#222" >20</text>
<line x1="351.40" y1="544.88" x2="354.60" y2="544.88" stroke="#111" stroke-width="0.8"/>
<text x="350.30" y="547.23" font-size="6.6" text-anchor="end" fill="#222" >10</text>
<line x1="351.40" y1="556.60" x2="354.60" y2="556.60" stroke="#111" stroke-width="0.8"/>
<text x="350.30" y="558.95" font-size="6.6" text-anchor="end" fill="#222" >0</text>
<line x1="359.20" y1="562.20" x2="389.00" y2="562.20" stroke="#111" stroke-width="1.3"/>
<line x1="368.10" y1="562.20" x2="368.10" y2="565.40" stroke="#111" stroke-width="0.85"/>
<line x1="380.50" y1="562.20" x2="380.50" y2="565.40" stroke="#111" stroke-width="0.85"/>
<text x="368.10" y="571.30" font-size="6.5" text-anchor="middle" fill="#1f5c99" >WT</text>
<text x="380.50" y="571.30" font-size="6.5" text-anchor="middle" fill="#d0213d" >KO</text>
<text x="374.30" y="504.04" font-size="6.8" text-anchor="middle" fill="#111" stroke="#111" stroke-width="0.28" font-weight="bold" textLength="15.80" lengthAdjust="spacingAndGlyphs" >BBC3</text>
<text x="374.05" y="560.17" font-size="6.3" text-anchor="middle" fill="#2a2a2a" stroke="#2a2a2a" stroke-width="0.08" textLength="27.10" lengthAdjust="spacingAndGlyphs" >FDR&lt;0.01</text>
<path d="M368.10,533.40 L369.10,535.00 L370.10,536.80 L372.35,539.70 L370.10,541.50 L368.10,543.00 L368.10,543.00 L366.10,541.50 L363.85,539.70 L366.10,536.80 L367.10,535.00 L368.10,533.40 Z" fill="#fff" stroke="#2b67a6" stroke-width="1.05" stroke-linejoin="round"/>
<line x1="364.91" y1="539.70" x2="371.29" y2="539.70" stroke="#2b67a6" stroke-width="0.7" stroke-dasharray="0.9 0.7"/>
<circle cx="368.10" cy="535.32" r="0.7" fill="#2b67a6"/>
<circle cx="369.10" cy="538.20" r="0.7" fill="#2b67a6"/>
<circle cx="367.10" cy="541.08" r="0.7" fill="#2b67a6"/>
<path d="M380.50,514.70 L381.30,517.00 L381.70,519.50 L383.10,521.80 L385.15,524.90 L383.10,528.00 L381.70,530.50 L381.30,533.00 L380.50,535.60 L380.50,535.60 L379.70,533.00 L379.30,530.50 L377.90,528.00 L375.85,524.90 L377.90,521.80 L379.30,519.50 L379.70,517.00 L380.50,514.70 Z" fill="#fff" stroke="#d3223f" stroke-width="1.05" stroke-linejoin="round"/>
<line x1="377.01" y1="524.90" x2="383.99" y2="524.90" stroke="#d3223f" stroke-width="0.7" stroke-dasharray="0.9 0.7"/>
<circle cx="380.50" cy="518.88" r="0.7" fill="#d3223f"/>
<circle cx="381.50" cy="521.39" r="0.7" fill="#d3223f"/>
<circle cx="379.50" cy="523.90" r="0.7" fill="#d3223f"/>
<circle cx="381.50" cy="526.40" r="0.7" fill="#d3223f"/>
<circle cx="380.50" cy="528.91" r="0.7" fill="#d3223f"/>
<circle cx="380.50" cy="531.42" r="0.7" fill="#d3223f"/>
<line x1="416.70" y1="506.60" x2="416.70" y2="557.10" stroke="#111" stroke-width="1.3"/>
<line x1="413.50" y1="509.70" x2="416.70" y2="509.70" stroke="#111" stroke-width="0.8"/>
<text x="412.40" y="512.05" font-size="6.6" text-anchor="end" fill="#222" >100</text>
<line x1="413.50" y1="518.58" x2="416.70" y2="518.58" stroke="#111" stroke-width="0.8"/>
<text x="412.40" y="520.93" font-size="6.6" text-anchor="end" fill="#222" >80</text>
<line x1="413.50" y1="527.46" x2="416.70" y2="527.46" stroke="#111" stroke-width="0.8"/>
<text x="412.40" y="529.81" font-size="6.6" text-anchor="end" fill="#222" >60</text>
<line x1="413.50" y1="536.34" x2="416.70" y2="536.34" stroke="#111" stroke-width="0.8"/>
<text x="412.40" y="538.69" font-size="6.6" text-anchor="end" fill="#222" >40</text>
<line x1="413.50" y1="545.22" x2="416.70" y2="545.22" stroke="#111" stroke-width="0.8"/>
<text x="412.40" y="547.57" font-size="6.6" text-anchor="end" fill="#222" >20</text>
<line x1="413.50" y1="554.10" x2="416.70" y2="554.10" stroke="#111" stroke-width="0.8"/>
<text x="412.40" y="556.45" font-size="6.6" text-anchor="end" fill="#222" >0</text>
<line x1="422.10" y1="562.20" x2="451.80" y2="562.20" stroke="#111" stroke-width="1.3"/>
<line x1="430.60" y1="562.20" x2="430.60" y2="565.40" stroke="#111" stroke-width="0.85"/>
<line x1="443.30" y1="562.20" x2="443.30" y2="565.40" stroke="#111" stroke-width="0.85"/>
<text x="430.60" y="571.30" font-size="6.5" text-anchor="middle" fill="#1f5c99" >WT</text>
<text x="443.30" y="571.30" font-size="6.5" text-anchor="middle" fill="#d0213d" >KO</text>
<text x="436.95" y="504.04" font-size="6.8" text-anchor="middle" fill="#111" stroke="#111" stroke-width="0.28" font-weight="bold" textLength="12.70" lengthAdjust="spacingAndGlyphs" >BAX</text>
<text x="436.85" y="560.17" font-size="6.3" text-anchor="middle" fill="#2a2a2a" stroke="#2a2a2a" stroke-width="0.08" textLength="22.10" lengthAdjust="spacingAndGlyphs" >FDR=ns</text>
<path d="M430.60,515.60 L431.50,517.00 L432.00,519.00 L431.70,521.00 L433.10,523.00 L434.80,525.40 L433.10,527.50 L431.60,529.50 L430.60,530.80 L430.60,530.80 L429.60,529.50 L428.10,527.50 L426.40,525.40 L428.10,523.00 L429.50,521.00 L429.20,519.00 L429.70,517.00 L430.60,515.60 Z" fill="#fff" stroke="#2b67a6" stroke-width="1.05" stroke-linejoin="round"/>
<line x1="427.45" y1="525.40" x2="433.75" y2="525.40" stroke="#2b67a6" stroke-width="0.7" stroke-dasharray="0.9 0.7"/>
<circle cx="430.60" cy="518.64" r="0.7" fill="#2b67a6"/>
<circle cx="430.60" cy="521.68" r="0.7" fill="#2b67a6"/>
<circle cx="429.60" cy="524.72" r="0.7" fill="#2b67a6"/>
<circle cx="431.60" cy="527.76" r="0.7" fill="#2b67a6"/>
<path d="M443.30,511.40 L445.80,513.50 L447.55,516.40 L446.80,519.00 L445.80,521.00 L444.80,523.50 L444.30,526.00 L443.30,528.30 L443.30,528.30 L442.30,526.00 L441.80,523.50 L440.80,521.00 L439.80,519.00 L439.05,516.40 L440.80,513.50 L443.30,511.40 Z" fill="#fff" stroke="#d3223f" stroke-width="1.05" stroke-linejoin="round"/>
<line x1="440.11" y1="516.40" x2="446.49" y2="516.40" stroke="#d3223f" stroke-width="0.7" stroke-dasharray="0.9 0.7"/>
<circle cx="442.30" cy="514.78" r="0.7" fill="#d3223f"/>
<circle cx="444.30" cy="517.31" r="0.7" fill="#d3223f"/>
<circle cx="442.30" cy="519.85" r="0.7" fill="#d3223f"/>
<circle cx="443.30" cy="522.38" r="0.7" fill="#d3223f"/>
<circle cx="443.30" cy="524.92" r="0.7" fill="#d3223f"/>
<line x1="476.30" y1="506.60" x2="476.30" y2="558.80" stroke="#111" stroke-width="1.3"/>
<line x1="473.10" y1="509.70" x2="476.30" y2="509.70" stroke="#111" stroke-width="0.8"/>
<text x="472.00" y="512.05" font-size="6.6" text-anchor="end" fill="#222" >160</text>
<line x1="473.10" y1="521.35" x2="476.30" y2="521.35" stroke="#111" stroke-width="0.8"/>
<text x="472.00" y="523.70" font-size="6.6" text-anchor="end" fill="#222" >140</text>
<line x1="473.10" y1="533.00" x2="476.30" y2="533.00" stroke="#111" stroke-width="0.8"/>
<text x="472.00" y="535.35" font-size="6.6" text-anchor="end" fill="#222" >120</text>
<line x1="473.10" y1="544.65" x2="476.30" y2="544.65" stroke="#111" stroke-width="0.8"/>
<text x="472.00" y="547.00" font-size="6.6" text-anchor="end" fill="#222" >100</text>
<line x1="473.10" y1="556.30" x2="476.30" y2="556.30" stroke="#111" stroke-width="0.8"/>
<text x="472.00" y="558.65" font-size="6.6" text-anchor="end" fill="#222" >80</text>
<line x1="482.20" y1="562.20" x2="511.00" y2="562.20" stroke="#111" stroke-width="1.3"/>
<line x1="490.20" y1="562.20" x2="490.20" y2="565.40" stroke="#111" stroke-width="0.85"/>
<line x1="502.90" y1="562.20" x2="502.90" y2="565.40" stroke="#111" stroke-width="0.85"/>
<text x="490.20" y="571.30" font-size="6.5" text-anchor="middle" fill="#1f5c99" >WT</text>
<text x="502.90" y="571.30" font-size="6.5" text-anchor="middle" fill="#d0213d" >KO</text>
<text x="496.60" y="500.14" font-size="6.8" text-anchor="middle" fill="#111" stroke="#111" stroke-width="0.28" font-weight="bold" textLength="10.20" lengthAdjust="spacingAndGlyphs" >BID</text>
<text x="496.60" y="507.74" font-size="6.8" text-anchor="middle" fill="#111" stroke="#111" stroke-width="0.28" font-weight="bold" textLength="17.00" lengthAdjust="spacingAndGlyphs" >(BH3)</text>
<text x="496.60" y="560.17" font-size="6.3" text-anchor="middle" fill="#2a2a2a" stroke="#2a2a2a" stroke-width="0.08" textLength="22.00" lengthAdjust="spacingAndGlyphs" >FDR=ns</text>
<path d="M490.20,521.20 L491.20,523.00 L491.80,526.00 L492.10,529.00 L492.70,531.00 L493.90,533.00 L494.70,535.10 L493.20,537.50 L492.60,539.00 L493.00,541.00 L491.80,543.50 L491.00,545.50 L490.20,547.50 L490.20,547.50 L489.40,545.50 L488.60,543.50 L487.40,541.00 L487.80,539.00 L487.20,537.50 L485.70,535.10 L486.50,533.00 L487.70,531.00 L488.30,529.00 L488.60,526.00 L489.20,523.00 L490.20,521.20 Z" fill="#fff" stroke="#2b67a6" stroke-width="1.05" stroke-linejoin="round"/>
<line x1="486.82" y1="535.10" x2="493.57" y2="535.10" stroke="#2b67a6" stroke-width="0.7" stroke-dasharray="0.9 0.7"/>
<circle cx="490.20" cy="526.46" r="0.7" fill="#2b67a6"/>
<circle cx="490.20" cy="529.09" r="0.7" fill="#2b67a6"/>
<circle cx="489.20" cy="531.72" r="0.7" fill="#2b67a6"/>
<circle cx="491.20" cy="534.35" r="0.7" fill="#2b67a6"/>
<circle cx="489.20" cy="536.98" r="0.7" fill="#2b67a6"/>
<circle cx="491.20" cy="539.61" r="0.7" fill="#2b67a6"/>
<circle cx="489.20" cy="542.24" r="0.7" fill="#2b67a6"/>
<path d="M502.90,521.50 L504.40,523.00 L506.70,525.40 L504.40,527.50 L502.90,529.20 L502.90,529.20 L501.40,527.50 L499.10,525.40 L501.40,523.00 L502.90,521.50 Z" fill="#fff" stroke="#d3223f" stroke-width="1.05" stroke-linejoin="round"/>
<line x1="500.05" y1="525.40" x2="505.75" y2="525.40" stroke="#d3223f" stroke-width="0.7" stroke-dasharray="0.9 0.7"/>
<circle cx="502.90" cy="523.04" r="0.7" fill="#d3223f"/>
<circle cx="503.90" cy="525.35" r="0.7" fill="#d3223f"/>
<circle cx="502.90" cy="527.66" r="0.7" fill="#d3223f"/>
<text x="279.90" y="367.60" font-size="9" text-anchor="middle" fill="#000" stroke="#000" stroke-width="0.3" textLength="12.50" lengthAdjust="spacingAndGlyphs" transform="rotate(-90 279.90 367.60)" >CPM</text>
<text x="276.20" y="450.50" font-size="9" text-anchor="middle" fill="#000" stroke="#000" stroke-width="0.3" textLength="13.00" lengthAdjust="spacingAndGlyphs" transform="rotate(-90 276.20 450.50)" >CPM</text>
<text x="276.60" y="533.20" font-size="9" text-anchor="middle" fill="#000" stroke="#000" stroke-width="0.3" textLength="12.50" lengthAdjust="spacingAndGlyphs" transform="rotate(-90 276.60 533.20)" >CPM</text>
<text x="264.20" y="409.10" font-size="9.4" text-anchor="middle" fill="#000" stroke="#000" stroke-width="0.3" textLength="43.60" lengthAdjust="spacingAndGlyphs" transform="rotate(-90 264.20 409.10)" >ER stress genes</text>
<text x="264.20" y="533.00" font-size="9.4" text-anchor="middle" fill="#000" stroke="#000" stroke-width="0.3" textLength="44.30" lengthAdjust="spacingAndGlyphs" transform="rotate(-90 264.20 533.00)" >Apoptosis genes</text>
<rect x="8.50" y="286.50" width="20.05" height="4.05" fill="#f6a6a6" shape-rendering="crispEdges"/>
<rect x="8.50" y="290.50" width="20.05" height="2.05" fill="#fad3d3" shape-rendering="crispEdges"/>
<rect x="8.50" y="292.51" width="20.05" height="2.05" fill="#fdeeee" shape-rendering="crispEdges"/>
<rect x="8.50" y="294.51" width="20.05" height="2.05" fill="#f6a6a6" shape-rendering="crispEdges"/>
<rect x="8.50" y="296.51" width="20.05" height="2.05" fill="#fad3d3" shape-rendering="crispEdges"/>
<rect x="8.50" y="298.51" width="20.05" height="2.05" fill="#f6a6a6" shape-rendering="crispEdges"/>
<rect x="8.50" y="300.52" width="20.05" height="2.05" fill="#fdeeee" shape-rendering="crispEdges"/>
<rect x="8.50" y="302.52" width="20.05" height="2.05" fill="#ffffff" shape-rendering="crispEdges"/>
<rect x="8.50" y="304.52" width="20.05" height="2.05" fill="#fad3d3" shape-rendering="crispEdges"/>
<rect x="8.50" y="306.52" width="20.05" height="4.05" fill="#ef5353" shape-rendering="crispEdges"/>
<rect x="8.50" y="310.53" width="20.05" height="2.05" fill="#f37c7c" shape-rendering="crispEdges"/>
<rect x="8.50" y="312.53" width="20.05" height="2.05" fill="#ef5353" shape-rendering="crispEdges"/>
<rect x="8.50" y="314.53" width="20.05" height="2.05" fill="#f37c7c" shape-rendering="crispEdges"/>
<rect x="8.50" y="316.54" width="20.05" height="6.06" fill="#ef5353" shape-rendering="crispEdges"/>
<rect x="8.50" y="322.54" width="20.05" height="2.05" fill="#f37c7c" shape-rendering="crispEdges"/>
<rect x="8.50" y="324.55" width="20.05" height="4.05" fill="#ed2427" shape-rendering="crispEdges"/>
<rect x="8.50" y="328.55" width="20.05" height="2.05" fill="#f37c7c" shape-rendering="crispEdges"/>
<rect x="8.50" y="330.55" width="20.05" height="2.05" fill="#ef5353" shape-rendering="crispEdges"/>
<rect x="8.50" y="332.56" width="20.05" height="2.05" fill="#f37c7c" shape-rendering="crispEdges"/>
<rect x="8.50" y="334.56" width="20.05" height="2.05" fill="#ef5353" shape-rendering="crispEdges"/>
<rect x="8.50" y="336.56" width="20.05" height="2.05" fill="#ed2427" shape-rendering="crispEdges"/>
<rect x="8.50" y="338.56" width="20.05" height="2.05" fill="#fdeeee" shape-rendering="crispEdges"/>
<rect x="8.50" y="340.56" width="20.05" height="2.05" fill="#ffffff" shape-rendering="crispEdges"/>
<rect x="8.50" y="342.57" width="20.05" height="2.05" fill="#fdeeee" shape-rendering="crispEdges"/>
<rect x="8.50" y="344.57" width="20.05" height="2.05" fill="#c5c9e6" shape-rendering="crispEdges"/>
<rect x="8.50" y="346.57" width="20.05" height="2.05" fill="#8c94cc" shape-rendering="crispEdges"/>
<rect x="8.50" y="348.57" width="20.05" height="2.05" fill="#fad3d3" shape-rendering="crispEdges"/>
<rect x="8.50" y="350.58" width="20.05" height="2.05" fill="#fdeeee" shape-rendering="crispEdges"/>
<rect x="8.50" y="352.58" width="20.05" height="2.05" fill="#3a53a4" shape-rendering="crispEdges"/>
<rect x="8.50" y="354.58" width="20.05" height="2.05" fill="#ffffff" shape-rendering="crispEdges"/>
<rect x="8.50" y="356.58" width="20.05" height="2.05" fill="#c5c9e6" shape-rendering="crispEdges"/>
<rect x="8.50" y="358.59" width="20.05" height="6.06" fill="#3a53a4" shape-rendering="crispEdges"/>
<rect x="8.50" y="364.59" width="20.05" height="2.05" fill="#8c94cc" shape-rendering="crispEdges"/>
<rect x="8.50" y="366.60" width="20.05" height="2.05" fill="#ffffff" shape-rendering="crispEdges"/>
<rect x="8.50" y="368.60" width="20.05" height="2.05" fill="#c5c9e6" shape-rendering="crispEdges"/>
<rect x="8.50" y="370.60" width="20.05" height="4.05" fill="#6670b4" shape-rendering="crispEdges"/>
<rect x="8.50" y="374.61" width="20.05" height="10.06" fill="#3a53a4" shape-rendering="crispEdges"/>
<rect x="8.50" y="384.62" width="20.05" height="4.05" fill="#f6a6a6" shape-rendering="crispEdges"/>
<rect x="8.50" y="388.62" width="20.05" height="2.05" fill="#fad3d3" shape-rendering="crispEdges"/>
<rect x="8.50" y="390.62" width="20.05" height="2.05" fill="#f6a6a6" shape-rendering="crispEdges"/>
<rect x="8.50" y="392.63" width="20.05" height="2.05" fill="#fad3d3" shape-rendering="crispEdges"/>
<rect x="8.50" y="394.63" width="20.05" height="2.05" fill="#f37c7c" shape-rendering="crispEdges"/>
<rect x="8.50" y="396.63" width="20.05" height="2.05" fill="#fad3d3" shape-rendering="crispEdges"/>
<rect x="8.50" y="398.63" width="20.05" height="2.05" fill="#f37c7c" shape-rendering="crispEdges"/>
<rect x="8.50" y="400.64" width="20.05" height="2.05" fill="#fad3d3" shape-rendering="crispEdges"/>
<rect x="8.50" y="402.64" width="20.05" height="2.05" fill="#f6a6a6" shape-rendering="crispEdges"/>
<rect x="8.50" y="404.64" width="20.05" height="2.05" fill="#ffffff" shape-rendering="crispEdges"/>
<rect x="8.50" y="406.64" width="20.05" height="2.05" fill="#f6a6a6" shape-rendering="crispEdges"/>
<rect x="8.50" y="408.65" width="20.05" height="4.05" fill="#3a53a4" shape-rendering="crispEdges"/>
<rect x="8.50" y="412.65" width="20.05" height="2.05" fill="#ffffff" shape-rendering="crispEdges"/>
<rect x="8.50" y="414.65" width="20.05" height="4.05" fill="#c5c9e6" shape-rendering="crispEdges"/>
<rect x="8.50" y="418.66" width="20.05" height="2.05" fill="#ffffff" shape-rendering="crispEdges"/>
<rect x="8.50" y="420.66" width="20.05" height="2.05" fill="#3a53a4" shape-rendering="crispEdges"/>
<rect x="8.50" y="422.66" width="20.05" height="4.05" fill="#fad3d3" shape-rendering="crispEdges"/>
<rect x="8.50" y="426.67" width="20.05" height="2.05" fill="#3a53a4" shape-rendering="crispEdges"/>
<rect x="8.50" y="428.67" width="20.05" height="4.05" fill="#ffffff" shape-rendering="crispEdges"/>
<rect x="8.50" y="432.68" width="20.05" height="6.06" fill="#3a53a4" shape-rendering="crispEdges"/>
<rect x="8.50" y="438.68" width="20.05" height="2.05" fill="#6670b4" shape-rendering="crispEdges"/>
<rect x="8.50" y="440.68" width="20.05" height="6.06" fill="#3a53a4" shape-rendering="crispEdges"/>
<rect x="8.50" y="446.69" width="20.05" height="2.05" fill="#6670b4" shape-rendering="crispEdges"/>
<rect x="8.50" y="448.69" width="20.05" height="2.05" fill="#3a53a4" shape-rendering="crispEdges"/>
<rect x="8.50" y="450.70" width="20.05" height="2.05" fill="#fdeeee" shape-rendering="crispEdges"/>
<rect x="8.50" y="452.70" width="20.05" height="40.10" fill="#3a53a4" shape-rendering="crispEdges"/>
<rect x="8.50" y="492.75" width="20.05" height="2.05" fill="#f37c7c" shape-rendering="crispEdges"/>
<rect x="8.50" y="494.75" width="20.05" height="2.05" fill="#c5c9e6" shape-rendering="crispEdges"/>
<rect x="8.50" y="496.75" width="20.05" height="2.05" fill="#3a53a4" shape-rendering="crispEdges"/>
<rect x="8.50" y="498.75" width="20.05" height="2.05" fill="#c5c9e6" shape-rendering="crispEdges"/>
<rect x="8.50" y="500.76" width="20.05" height="36.09" fill="#3a53a4" shape-rendering="crispEdges"/>
<rect x="28.50" y="286.50" width="20.05" height="2.05" fill="#fad3d3" shape-rendering="crispEdges"/>
<rect x="28.50" y="288.50" width="20.05" height="2.05" fill="#f6a6a6" shape-rendering="crispEdges"/>
<rect x="28.50" y="290.50" width="20.05" height="2.05" fill="#fad3d3" shape-rendering="crispEdges"/>
<rect x="28.50" y="292.51" width="20.05" height="2.05" fill="#f6a6a6" shape-rendering="crispEdges"/>
<rect x="28.50" y="294.51" width="20.05" height="2.05" fill="#fad3d3" shape-rendering="crispEdges"/>
<rect x="28.50" y="296.51" width="20.05" height="4.05" fill="#f6a6a6" shape-rendering="crispEdges"/>
<rect x="28.50" y="300.52" width="20.05" height="4.05" fill="#ffffff" shape-rendering="crispEdges"/>
<rect x="28.50" y="304.52" width="20.05" height="2.05" fill="#fdeeee" shape-rendering="crispEdges"/>
<rect x="28.50" y="306.52" width="20.05" height="2.05" fill="#ef5353" shape-rendering="crispEdges"/>
<rect x="28.50" y="308.53" width="20.05" height="2.05" fill="#f37c7c" shape-rendering="crispEdges"/>
<rect x="28.50" y="310.53" width="20.05" height="2.05" fill="#ef5353" shape-rendering="crispEdges"/>
<rect x="28.50" y="312.53" width="20.05" height="2.05" fill="#f37c7c" shape-rendering="crispEdges"/>
<rect x="28.50" y="314.53" width="20.05" height="2.05" fill="#ef5353" shape-rendering="crispEdges"/>
<rect x="28.50" y="316.54" width="20.05" height="2.05" fill="#f37c7c" shape-rendering="crispEdges"/>
<rect x="28.50" y="318.54" width="20.05" height="4.05" fill="#ef5353" shape-rendering="crispEdges"/>
<rect x="28.50" y="322.54" width="20.05" height="4.05" fill="#ed2427" shape-rendering="crispEdges"/>
<rect x="28.50" y="326.55" width="20.05" height="2.05" fill="#ef5353" shape-rendering="crispEdges"/>
<rect x="28.50" y="328.55" width="20.05" height="2.05" fill="#f37c7c" shape-rendering="crispEdges"/>
<rect x="28.50" y="330.55" width="20.05" height="2.05" fill="#ef5353" shape-rendering="crispEdges"/>
<rect x="28.50" y="332.56" width="20.05" height="2.05" fill="#f37c7c" shape-rendering="crispEdges"/>
<rect x="28.50" y="334.56" width="20.05" height="2.05" fill="#ef5353" shape-rendering="crispEdges"/>
<rect x="28.50" y="336.56" width="20.05" height="2.05" fill="#ed2427" shape-rendering="crispEdges"/>
<rect x="28.50" y="338.56" width="20.05" height="2.05" fill="#fdeeee" shape-rendering="crispEdges"/>
<rect x="28.50" y="340.56" width="20.05" height="2.05" fill="#8c94cc" shape-rendering="crispEdges"/>
<rect x="28.50" y="342.57" width="20.05" height="2.05" fill="#ffffff" shape-rendering="crispEdges"/>
<rect x="28.50" y="344.57" width="20.05" height="2.05" fill="#8c94cc" shape-rendering="crispEdges"/>
<rect x="28.50" y="346.57" width="20.05" height="2.05" fill="#fdeeee" shape-rendering="crispEdges"/>
<rect x="28.50" y="348.57" width="20.05" height="2.05" fill="#3a53a4" shape-rendering="crispEdges"/>
<rect x="28.50" y="350.58" width="20.05" height="2.05" fill="#ffffff" shape-rendering="crispEdges"/>
<rect x="28.50" y="352.58" width="20.05" height="4.05" fill="#c5c9e6" shape-rendering="crispEdges"/>
<rect x="28.50" y="356.58" width="20.05" height="2.05" fill="#ffffff" shape-rendering="crispEdges"/>
<rect x="28.50" y="358.59" width="20.05" height="4.05" fill="#3a53a4" shape-rendering="crispEdges"/>
<rect x="28.50" y="362.59" width="20.05" height="2.05" fill="#6670b4" shape-rendering="crispEdges"/>
<rect x="28.50" y="364.59" width="20.05" height="2.05" fill="#3a53a4" shape-rendering="crispEdges"/>
<rect x="28.50" y="366.60" width="20.05" height="2.05" fill="#8c94cc" shape-rendering="crispEdges"/>
<rect x="28.50" y="368.60" width="20.05" height="2.05" fill="#3a53a4" shape-rendering="crispEdges"/>
<rect x="28.50" y="370.60" width="20.05" height="2.05" fill="#8c94cc" shape-rendering="crispEdges"/>
<rect x="28.50" y="372.60" width="20.05" height="4.05" fill="#6670b4" shape-rendering="crispEdges"/>
<rect x="28.50" y="376.61" width="20.05" height="8.06" fill="#3a53a4" shape-rendering="crispEdges"/>
<rect x="28.50" y="384.62" width="20.05" height="2.05" fill="#f37c7c" shape-rendering="crispEdges"/>
<rect x="28.50" y="386.62" width="20.05" height="4.05" fill="#f6a6a6" shape-rendering="crispEdges"/>
<rect x="28.50" y="390.62" width="20.05" height="2.05" fill="#fad3d3" shape-rendering="crispEdges"/>
<rect x="28.50" y="392.63" width="20.05" height="2.05" fill="#f6a6a6" shape-rendering="crispEdges"/>
<rect x="28.50" y="394.63" width="20.05" height="2.05" fill="#f37c7c" shape-rendering="crispEdges"/>
<rect x="28.50" y="396.63" width="20.05" height="2.05" fill="#fdeeee" shape-rendering="crispEdges"/>
<rect x="28.50" y="398.63" width="20.05" height="2.05" fill="#f6a6a6" shape-rendering="crispEdges"/>
<rect x="28.50" y="400.64" width="20.05" height="2.05" fill="#fad3d3" shape-rendering="crispEdges"/>
<rect x="28.50" y="402.64" width="20.05" height="2.05" fill="#f6a6a6" shape-rendering="crispEdges"/>
<rect x="28.50" y="404.64" width="20.05" height="2.05" fill="#fad3d3" shape-rendering="crispEdges"/>
<rect x="28.50" y="406.64" width="20.05" height="2.05" fill="#f37c7c" shape-rendering="crispEdges"/>
<rect x="28.50" y="408.65" width="20.05" height="2.05" fill="#ef5353" shape-rendering="crispEdges"/>
<rect x="28.50" y="410.65" width="20.05" height="2.05" fill="#f6a6a6" shape-rendering="crispEdges"/>
<rect x="28.50" y="412.65" width="20.05" height="2.05" fill="#fad3d3" shape-rendering="crispEdges"/>
<rect x="28.50" y="414.65" width="20.05" height="4.05" fill="#fdeeee" shape-rendering="crispEdges"/>
<rect x="28.50" y="418.66" width="20.05" height="2.05" fill="#c5c9e6" shape-rendering="crispEdges"/>
<rect x="28.50" y="420.66" width="20.05" height="2.05" fill="#fdeeee" shape-rendering="crispEdges"/>
<rect x="28.50" y="422.66" width="20.05" height="2.05" fill="#fad3d3" shape-rendering="crispEdges"/>
<rect x="28.50" y="424.67" width="20.05" height="2.05" fill="#ed2427" shape-rendering="crispEdges"/>
<rect x="28.50" y="426.67" width="20.05" height="2.05" fill="#fad3d3" shape-rendering="crispEdges"/>
<rect x="28.50" y="428.67" width="20.05" height="2.05" fill="#fdeeee" shape-rendering="crispEdges"/>
<rect x="28.50" y="430.67" width="20.05" height="2.05" fill="#ffffff" shape-rendering="crispEdges"/>
<rect x="28.50" y="432.68" width="20.05" height="2.05" fill="#3a53a4" shape-rendering="crispEdges"/>
<rect x="28.50" y="434.68" width="20.05" height="2.05" fill="#f6a6a6" shape-rendering="crispEdges"/>
<rect x="28.50" y="436.68" width="20.05" height="2.05" fill="#ffffff" shape-rendering="crispEdges"/>
<rect x="28.50" y="438.68" width="20.05" height="6.06" fill="#3a53a4" shape-rendering="crispEdges"/>
<rect x="28.50" y="444.69" width="20.05" height="2.05" fill="#8c94cc" shape-rendering="crispEdges"/>
<rect x="28.50" y="446.69" width="20.05" height="4.05" fill="#3a53a4" shape-rendering="crispEdges"/>
<rect x="28.50" y="450.70" width="20.05" height="6.06" fill="#6670b4" shape-rendering="crispEdges"/>
<rect x="28.50" y="456.70" width="20.05" height="44.10" fill="#3a53a4" shape-rendering="crispEdges"/>
<rect x="28.50" y="500.76" width="20.05" height="2.05" fill="#6670b4" shape-rendering="crispEdges"/>
<rect x="28.50" y="502.76" width="20.05" height="34.09" fill="#3a53a4" shape-rendering="crispEdges"/>
<rect x="48.50" y="286.50" width="20.05" height="2.05" fill="#f6a6a6" shape-rendering="crispEdges"/>
<rect x="48.50" y="288.50" width="20.05" height="2.05" fill="#fad3d3" shape-rendering="crispEdges"/>
<rect x="48.50" y="290.50" width="20.05" height="4.05" fill="#f6a6a6" shape-rendering="crispEdges"/>
<rect x="48.50" y="294.51" width="20.05" height="2.05" fill="#fdeeee" shape-rendering="crispEdges"/>
<rect x="48.50" y="296.51" width="20.05" height="2.05" fill="#fad3d3" shape-rendering="crispEdges"/>
<rect x="48.50" y="298.51" width="20.05" height="2.05" fill="#fdeeee" shape-rendering="crispEdges"/>
<rect x="48.50" y="300.52" width="20.05" height="2.05" fill="#3a53a4" shape-rendering="crispEdges"/>
<rect x="48.50" y="302.52" width="20.05" height="2.05" fill="#ffffff" shape-rendering="crispEdges"/>
<rect x="48.50" y="304.52" width="20.05" height="2.05" fill="#f6a6a6" shape-rendering="crispEdges"/>
<rect x="48.50" y="306.52" width="20.05" height="2.05" fill="#f37c7c" shape-rendering="crispEdges"/>
<rect x="48.50" y="308.53" width="20.05" height="2.05" fill="#ef5353" shape-rendering="crispEdges"/>
<rect x="48.50" y="310.53" width="20.05" height="2.05" fill="#f6a6a6" shape-rendering="crispEdges"/>
<rect x="48.50" y="312.53" width="20.05" height="2.05" fill="#ed2427" shape-rendering="crispEdges"/>
<rect x="48.50" y="314.53" width="20.05" height="2.05" fill="#f6a6a6" shape-rendering="crispEdges"/>
<rect x="48.50" y="316.54" width="20.05" height="4.05" fill="#ef5353" shape-rendering="crispEdges"/>
<rect x="48.50" y="320.54" width="20.05" height="2.05" fill="#f37c7c" shape-rendering="crispEdges"/>
<rect x="48.50" y="322.54" width="20.05" height="2.05" fill="#ef5353" shape-rendering="crispEdges"/>
<rect x="48.50" y="324.55" width="20.05" height="2.05" fill="#f37c7c" shape-rendering="crispEdges"/>
<rect x="48.50" y="326.55" width="20.05" height="2.05" fill="#ef5353" shape-rendering="crispEdges"/>
<rect x="48.50" y="328.55" width="20.05" height="2.05" fill="#f37c7c" shape-rendering="crispEdges"/>
<rect x="48.50" y="330.55" width="20.05" height="2.05" fill="#f6a6a6" shape-rendering="crispEdges"/>
<rect x="48.50" y="332.56" width="20.05" height="2.05" fill="#f37c7c" shape-rendering="crispEdges"/>
<rect x="48.50" y="334.56" width="20.05" height="2.05" fill="#ef5353" shape-rendering="crispEdges"/>
<rect x="48.50" y="336.56" width="20.05" height="2.05" fill="#ed2427" shape-rendering="crispEdges"/>
<rect x="48.50" y="338.56" width="20.05" height="2.05" fill="#fad3d3" shape-rendering="crispEdges"/>
<rect x="48.50" y="340.56" width="20.05" height="2.05" fill="#fdeeee" shape-rendering="crispEdges"/>
<rect x="48.50" y="342.57" width="20.05" height="8.06" fill="#3a53a4" shape-rendering="crispEdges"/>
<rect x="48.50" y="350.58" width="20.05" height="2.05" fill="#6670b4" shape-rendering="crispEdges"/>
<rect x="48.50" y="352.58" width="20.05" height="2.05" fill="#c5c9e6" shape-rendering="crispEdges"/>
<rect x="48.50" y="354.58" width="20.05" height="2.05" fill="#8c94cc" shape-rendering="crispEdges"/>
<rect x="48.50" y="356.58" width="20.05" height="2.05" fill="#ffffff" shape-rendering="crispEdges"/>
<rect x="48.50" y="358.59" width="20.05" height="8.06" fill="#3a53a4" shape-rendering="crispEdges"/>
<rect x="48.50" y="366.60" width="20.05" height="4.05" fill="#6670b4" shape-rendering="crispEdges"/>
<rect x="48.50" y="370.60" width="20.05" height="2.05" fill="#3a53a4" shape-rendering="crispEdges"/>
<rect x="48.50" y="372.60" width="20.05" height="2.05" fill="#6670b4" shape-rendering="crispEdges"/>
<rect x="48.50" y="374.61" width="20.05" height="8.06" fill="#3a53a4" shape-rendering="crispEdges"/>
<rect x="48.50" y="382.62" width="20.05" height="2.05" fill="#8c94cc" shape-rendering="crispEdges"/>
<rect x="48.50" y="384.62" width="20.05" height="2.05" fill="#f6a6a6" shape-rendering="crispEdges"/>
<rect x="48.50" y="386.62" width="20.05" height="2.05" fill="#fad3d3" shape-rendering="crispEdges"/>
<rect x="48.50" y="388.62" width="20.05" height="2.05" fill="#f6a6a6" shape-rendering="crispEdges"/>
<rect x="48.50" y="390.62" width="20.05" height="2.05" fill="#fad3d3" shape-rendering="crispEdges"/>
<rect x="48.50" y="392.63" width="20.05" height="2.05" fill="#f6a6a6" shape-rendering="crispEdges"/>
<rect x="48.50" y="394.63" width="20.05" height="2.05" fill="#3a53a4" shape-rendering="crispEdges"/>
<rect x="48.50" y="396.63" width="20.05" height="2.05" fill="#fad3d3" shape-rendering="crispEdges"/>
<rect x="48.50" y="398.63" width="20.05" height="2.05" fill="#f6a6a6" shape-rendering="crispEdges"/>
<rect x="48.50" y="400.64" width="20.05" height="2.05" fill="#fad3d3" shape-rendering="crispEdges"/>
<rect x="48.50" y="402.64" width="20.05" height="2.05" fill="#f6a6a6" shape-rendering="crispEdges"/>
<rect x="48.50" y="404.64" width="20.05" height="2.05" fill="#ffffff" shape-rendering="crispEdges"/>
<rect x="48.50" y="406.64" width="20.05" height="2.05" fill="#fdeeee" shape-rendering="crispEdges"/>
<rect x="48.50" y="408.65" width="20.05" height="2.05" fill="#f6a6a6" shape-rendering="crispEdges"/>
<rect x="48.50" y="410.65" width="20.05" height="2.05" fill="#fad3d3" shape-rendering="crispEdges"/>
<rect x="48.50" y="412.65" width="20.05" height="2.05" fill="#ffffff" shape-rendering="crispEdges"/>
<rect x="48.50" y="414.65" width="20.05" height="2.05" fill="#fad3d3" shape-rendering="crispEdges"/>
<rect x="48.50" y="416.66" width="20.05" height="4.05" fill="#3a53a4" shape-rendering="crispEdges"/>
<rect x="48.50" y="420.66" width="20.05" height="2.05" fill="#6670b4" shape-rendering="crispEdges"/>
<rect x="48.50" y="422.66" width="20.05" height="4.05" fill="#3a53a4" shape-rendering="crispEdges"/>
<rect x="48.50" y="426.67" width="20.05" height="2.05" fill="#c5c9e6" shape-rendering="crispEdges"/>
<rect x="48.50" y="428.67" width="20.05" height="10.06" fill="#3a53a4" shape-rendering="crispEdges"/>
<rect x="48.50" y="438.68" width="20.05" height="2.05" fill="#6670b4" shape-rendering="crispEdges"/>
<rect x="48.50" y="440.68" width="20.05" height="10.06" fill="#3a53a4" shape-rendering="crispEdges"/>
<rect x="48.50" y="450.70" width="20.05" height="2.05" fill="#6670b4" shape-rendering="crispEdges"/>
<rect x="48.50" y="452.70" width="20.05" height="84.15" fill="#3a53a4" shape-rendering="crispEdges"/>
<rect x="68.50" y="286.50" width="20.05" height="2.05" fill="#fad3d3" shape-rendering="crispEdges"/>
<rect x="68.50" y="288.50" width="20.05" height="2.05" fill="#f6a6a6" shape-rendering="crispEdges"/>
<rect x="68.50" y="290.50" width="20.05" height="2.05" fill="#fad3d3" shape-rendering="crispEdges"/>
<rect x="68.50" y="292.51" width="20.05" height="2.05" fill="#f6a6a6" shape-rendering="crispEdges"/>
<rect x="68.50" y="294.51" width="20.05" height="2.05" fill="#fdeeee" shape-rendering="crispEdges"/>
<rect x="68.50" y="296.51" width="20.05" height="2.05" fill="#f6a6a6" shape-rendering="crispEdges"/>
<rect x="68.50" y="298.51" width="20.05" height="2.05" fill="#fad3d3" shape-rendering="crispEdges"/>
<rect x="68.50" y="300.52" width="20.05" height="2.05" fill="#f6a6a6" shape-rendering="crispEdges"/>
<rect x="68.50" y="302.52" width="20.05" height="2.05" fill="#c5c9e6" shape-rendering="crispEdges"/>
<rect x="68.50" y="304.52" width="20.05" height="2.05" fill="#ffffff" shape-rendering="crispEdges"/>
<rect x="68.50" y="306.52" width="20.05" height="2.05" fill="#f37c7c" shape-rendering="crispEdges"/>
<rect x="68.50" y="308.53" width="20.05" height="2.05" fill="#ef5353" shape-rendering="crispEdges"/>
<rect x="68.50" y="310.53" width="20.05" height="2.05" fill="#f6a6a6" shape-rendering="crispEdges"/>
<rect x="68.50" y="312.53" width="20.05" height="2.05" fill="#f37c7c" shape-rendering="crispEdges"/>
<rect x="68.50" y="314.53" width="20.05" height="2.05" fill="#ed2427" shape-rendering="crispEdges"/>
<rect x="68.50" y="316.54" width="20.05" height="2.05" fill="#f37c7c" shape-rendering="crispEdges"/>
<rect x="68.50" y="318.54" width="20.05" height="4.05" fill="#ef5353" shape-rendering="crispEdges"/>
<rect x="68.50" y="322.54" width="20.05" height="2.05" fill="#ed2427" shape-rendering="crispEdges"/>
<rect x="68.50" y="324.55" width="20.05" height="2.05" fill="#f37c7c" shape-rendering="crispEdges"/>
<rect x="68.50" y="326.55" width="20.05" height="2.05" fill="#f6a6a6" shape-rendering="crispEdges"/>
<rect x="68.50" y="328.55" width="20.05" height="2.05" fill="#f37c7c" shape-rendering="crispEdges"/>
<rect x="68.50" y="330.55" width="20.05" height="2.05" fill="#f6a6a6" shape-rendering="crispEdges"/>
<rect x="68.50" y="332.56" width="20.05" height="2.05" fill="#fdeeee" shape-rendering="crispEdges"/>
<rect x="68.50" y="334.56" width="20.05" height="2.05" fill="#ffffff" shape-rendering="crispEdges"/>
<rect x="68.50" y="336.56" width="20.05" height="2.05" fill="#ed2427" shape-rendering="crispEdges"/>
<rect x="68.50" y="338.56" width="20.05" height="2.05" fill="#fdeeee" shape-rendering="crispEdges"/>
<rect x="68.50" y="340.56" width="20.05" height="2.05" fill="#ffffff" shape-rendering="crispEdges"/>
<rect x="68.50" y="342.57" width="20.05" height="2.05" fill="#fdeeee" shape-rendering="crispEdges"/>
<rect x="68.50" y="344.57" width="20.05" height="2.05" fill="#6670b4" shape-rendering="crispEdges"/>
<rect x="68.50" y="346.57" width="20.05" height="4.05" fill="#3a53a4" shape-rendering="crispEdges"/>
<rect x="68.50" y="350.58" width="20.05" height="2.05" fill="#ffffff" shape-rendering="crispEdges"/>
<rect x="68.50" y="352.58" width="20.05" height="2.05" fill="#3a53a4" shape-rendering="crispEdges"/>
<rect x="68.50" y="354.58" width="20.05" height="4.05" fill="#ffffff" shape-rendering="crispEdges"/>
<rect x="68.50" y="358.59" width="20.05" height="2.05" fill="#3a53a4" shape-rendering="crispEdges"/>
<rect x="68.50" y="360.59" width="20.05" height="2.05" fill="#fad3d3" shape-rendering="crispEdges"/>
<rect x="68.50" y="362.59" width="20.05" height="2.05" fill="#3a53a4" shape-rendering="crispEdges"/>
<rect x="68.50" y="364.59" width="20.05" height="2.05" fill="#c5c9e6" shape-rendering="crispEdges"/>
<rect x="68.50" y="366.60" width="20.05" height="2.05" fill="#fdeeee" shape-rendering="crispEdges"/>
<rect x="68.50" y="368.60" width="20.05" height="2.05" fill="#ffffff" shape-rendering="crispEdges"/>
<rect x="68.50" y="370.60" width="20.05" height="2.05" fill="#8c94cc" shape-rendering="crispEdges"/>
<rect x="68.50" y="372.60" width="20.05" height="2.05" fill="#6670b4" shape-rendering="crispEdges"/>
<rect x="68.50" y="374.61" width="20.05" height="2.05" fill="#c5c9e6" shape-rendering="crispEdges"/>
<rect x="68.50" y="376.61" width="20.05" height="8.06" fill="#3a53a4" shape-rendering="crispEdges"/>
<rect x="68.50" y="384.62" width="20.05" height="2.05" fill="#f6a6a6" shape-rendering="crispEdges"/>
<rect x="68.50" y="386.62" width="20.05" height="2.05" fill="#fad3d3" shape-rendering="crispEdges"/>
<rect x="68.50" y="388.62" width="20.05" height="2.05" fill="#fdeeee" shape-rendering="crispEdges"/>
<rect x="68.50" y="390.62" width="20.05" height="2.05" fill="#f6a6a6" shape-rendering="crispEdges"/>
<rect x="68.50" y="392.63" width="20.05" height="2.05" fill="#ffffff" shape-rendering="crispEdges"/>
<rect x="68.50" y="394.63" width="20.05" height="2.05" fill="#fad3d3" shape-rendering="crispEdges"/>
<rect x="68.50" y="396.63" width="20.05" height="2.05" fill="#f6a6a6" shape-rendering="crispEdges"/>
<rect x="68.50" y="398.63" width="20.05" height="2.05" fill="#fad3d3" shape-rendering="crispEdges"/>
<rect x="68.50" y="400.64" width="20.05" height="2.05" fill="#fdeeee" shape-rendering="crispEdges"/>
<rect x="68.50" y="402.64" width="20.05" height="2.05" fill="#ffffff" shape-rendering="crispEdges"/>
<rect x="68.50" y="404.64" width="20.05" height="2.05" fill="#c5c9e6" shape-rendering="crispEdges"/>
<rect x="68.50" y="406.64" width="20.05" height="2.05" fill="#3a53a4" shape-rendering="crispEdges"/>
<rect x="68.50" y="408.65" width="20.05" height="2.05" fill="#f37c7c" shape-rendering="crispEdges"/>
<rect x="68.50" y="410.65" width="20.05" height="2.05" fill="#ef5353" shape-rendering="crispEdges"/>
<rect x="68.50" y="412.65" width="20.05" height="2.05" fill="#ffffff" shape-rendering="crispEdges"/>
<rect x="68.50" y="414.65" width="20.05" height="2.05" fill="#fad3d3" shape-rendering="crispEdges"/>
<rect x="68.50" y="416.66" width="20.05" height="2.05" fill="#fdeeee" shape-rendering="crispEdges"/>
<rect x="68.50" y="418.66" width="20.05" height="2.05" fill="#3a53a4" shape-rendering="crispEdges"/>
<rect x="68.50" y="420.66" width="20.05" height="2.05" fill="#fdeeee" shape-rendering="crispEdges"/>
<rect x="68.50" y="422.66" width="20.05" height="2.05" fill="#fad3d3" shape-rendering="crispEdges"/>
<rect x="68.50" y="424.67" width="20.05" height="2.05" fill="#ef5353" shape-rendering="crispEdges"/>
<rect x="68.50" y="426.67" width="20.05" height="2.05" fill="#ffffff" shape-rendering="crispEdges"/>
<rect x="68.50" y="428.67" width="20.05" height="4.05" fill="#3a53a4" shape-rendering="crispEdges"/>
<rect x="68.50" y="432.68" width="20.05" height="4.05" fill="#f37c7c" shape-rendering="crispEdges"/>
<rect x="68.50" y="436.68" width="20.05" height="2.05" fill="#3a53a4" shape-rendering="crispEdges"/>
<rect x="68.50" y="438.68" width="20.05" height="2.05" fill="#ffffff" shape-rendering="crispEdges"/>
<rect x="68.50" y="440.68" width="20.05" height="2.05" fill="#3a53a4" shape-rendering="crispEdges"/>
<rect x="68.50" y="442.69" width="20.05" height="2.05" fill="#6670b4" shape-rendering="crispEdges"/>
<rect x="68.50" y="444.69" width="20.05" height="52.11" fill="#3a53a4" shape-rendering="crispEdges"/>
<rect x="68.50" y="496.75" width="20.05" height="2.05" fill="#fad3d3" shape-rendering="crispEdges"/>
<rect x="68.50" y="498.75" width="20.05" height="38.10" fill="#3a53a4" shape-rendering="crispEdges"/>
<rect x="88.50" y="286.50" width="20.05" height="4.05" fill="#f37c7c" shape-rendering="crispEdges"/>
<rect x="88.50" y="290.50" width="20.05" height="2.05" fill="#f6a6a6" shape-rendering="crispEdges"/>
<rect x="88.50" y="292.51" width="20.05" height="2.05" fill="#f37c7c" shape-rendering="crispEdges"/>
<rect x="88.50" y="294.51" width="20.05" height="4.05" fill="#f6a6a6" shape-rendering="crispEdges"/>
<rect x="88.50" y="298.51" width="20.05" height="2.05" fill="#fad3d3" shape-rendering="crispEdges"/>
<rect x="88.50" y="300.52" width="20.05" height="2.05" fill="#fdeeee" shape-rendering="crispEdges"/>
<rect x="88.50" y="302.52" width="20.05" height="4.05" fill="#f37c7c" shape-rendering="crispEdges"/>
<rect x="88.50" y="306.52" width="20.05" height="2.05" fill="#ef5353" shape-rendering="crispEdges"/>
<rect x="88.50" y="308.53" width="20.05" height="2.05" fill="#f37c7c" shape-rendering="crispEdges"/>
<rect x="88.50" y="310.53" width="20.05" height="2.05" fill="#ed2427" shape-rendering="crispEdges"/>
<rect x="88.50" y="312.53" width="20.05" height="2.05" fill="#fad3d3" shape-rendering="crispEdges"/>
<rect x="88.50" y="314.53" width="20.05" height="2.05" fill="#fdeeee" shape-rendering="crispEdges"/>
<rect x="88.50" y="316.54" width="20.05" height="2.05" fill="#f37c7c" shape-rendering="crispEdges"/>
<rect x="88.50" y="318.54" width="20.05" height="2.05" fill="#f6a6a6" shape-rendering="crispEdges"/>
<rect x="88.50" y="320.54" width="20.05" height="2.05" fill="#f37c7c" shape-rendering="crispEdges"/>
<rect x="88.50" y="322.54" width="20.05" height="4.05" fill="#ef5353" shape-rendering="crispEdges"/>
<rect x="88.50" y="326.55" width="20.05" height="4.05" fill="#ed2427" shape-rendering="crispEdges"/>
<rect x="88.50" y="330.55" width="20.05" height="2.05" fill="#ef5353" shape-rendering="crispEdges"/>
<rect x="88.50" y="332.56" width="20.05" height="2.05" fill="#f37c7c" shape-rendering="crispEdges"/>
<rect x="88.50" y="334.56" width="20.05" height="2.05" fill="#ef5353" shape-rendering="crispEdges"/>
<rect x="88.50" y="336.56" width="20.05" height="2.05" fill="#ed2427" shape-rendering="crispEdges"/>
<rect x="88.50" y="338.56" width="20.05" height="4.05" fill="#fdeeee" shape-rendering="crispEdges"/>
<rect x="88.50" y="342.57" width="20.05" height="2.05" fill="#c5c9e6" shape-rendering="crispEdges"/>
<rect x="88.50" y="344.57" width="20.05" height="2.05" fill="#fad3d3" shape-rendering="crispEdges"/>
<rect x="88.50" y="346.57" width="20.05" height="2.05" fill="#c5c9e6" shape-rendering="crispEdges"/>
<rect x="88.50" y="348.57" width="20.05" height="2.05" fill="#fad3d3" shape-rendering="crispEdges"/>
<rect x="88.50" y="350.58" width="20.05" height="6.06" fill="#ffffff" shape-rendering="crispEdges"/>
<rect x="88.50" y="356.58" width="20.05" height="2.05" fill="#fad3d3" shape-rendering="crispEdges"/>
<rect x="88.50" y="358.59" width="20.05" height="4.05" fill="#3a53a4" shape-rendering="crispEdges"/>
<rect x="88.50" y="362.59" width="20.05" height="2.05" fill="#8c94cc" shape-rendering="crispEdges"/>
<rect x="88.50" y="364.59" width="20.05" height="4.05" fill="#3a53a4" shape-rendering="crispEdges"/>
<rect x="88.50" y="368.60" width="20.05" height="2.05" fill="#8c94cc" shape-rendering="crispEdges"/>
<rect x="88.50" y="370.60" width="20.05" height="2.05" fill="#c5c9e6" shape-rendering="crispEdges"/>
<rect x="88.50" y="372.60" width="20.05" height="8.06" fill="#3a53a4" shape-rendering="crispEdges"/>
<rect x="88.50" y="380.61" width="20.05" height="2.05" fill="#6670b4" shape-rendering="crispEdges"/>
<rect x="88.50" y="382.62" width="20.05" height="2.05" fill="#3a53a4" shape-rendering="crispEdges"/>
<rect x="88.50" y="384.62" width="20.05" height="2.05" fill="#fad3d3" shape-rendering="crispEdges"/>
<rect x="88.50" y="386.62" width="20.05" height="2.05" fill="#f37c7c" shape-rendering="crispEdges"/>
<rect x="88.50" y="388.62" width="20.05" height="2.05" fill="#f6a6a6" shape-rendering="crispEdges"/>
<rect x="88.50" y="390.62" width="20.05" height="2.05" fill="#ffffff" shape-rendering="crispEdges"/>
<rect x="88.50" y="392.63" width="20.05" height="2.05" fill="#fad3d3" shape-rendering="crispEdges"/>
<rect x="88.50" y="394.63" width="20.05" height="2.05" fill="#ffffff" shape-rendering="crispEdges"/>
<rect x="88.50" y="396.63" width="20.05" height="2.05" fill="#ed2427" shape-rendering="crispEdges"/>
<rect x="88.50" y="398.63" width="20.05" height="2.05" fill="#fad3d3" shape-rendering="crispEdges"/>
<rect x="88.50" y="400.64" width="20.05" height="4.05" fill="#f6a6a6" shape-rendering="crispEdges"/>
<rect x="88.50" y="404.64" width="20.05" height="4.05" fill="#f37c7c" shape-rendering="crispEdges"/>
<rect x="88.50" y="408.65" width="20.05" height="2.05" fill="#c5c9e6" shape-rendering="crispEdges"/>
<rect x="88.50" y="410.65" width="20.05" height="2.05" fill="#f37c7c" shape-rendering="crispEdges"/>
<rect x="88.50" y="412.65" width="20.05" height="2.05" fill="#ffffff" shape-rendering="crispEdges"/>
<rect x="88.50" y="414.65" width="20.05" height="2.05" fill="#fad3d3" shape-rendering="crispEdges"/>
<rect x="88.50" y="416.66" width="20.05" height="6.06" fill="#f6a6a6" shape-rendering="crispEdges"/>
<rect x="88.50" y="422.66" width="20.05" height="2.05" fill="#8c94cc" shape-rendering="crispEdges"/>
<rect x="88.50" y="424.67" width="20.05" height="14.07" fill="#3a53a4" shape-rendering="crispEdges"/>
<rect x="88.50" y="438.68" width="20.05" height="2.05" fill="#ffffff" shape-rendering="crispEdges"/>
<rect x="88.50" y="440.68" width="20.05" height="6.06" fill="#3a53a4" shape-rendering="crispEdges"/>
<rect x="88.50" y="446.69" width="20.05" height="2.05" fill="#f37c7c" shape-rendering="crispEdges"/>
<rect x="88.50" y="448.69" width="20.05" height="2.05" fill="#fad3d3" shape-rendering="crispEdges"/>
<rect x="88.50" y="450.70" width="20.05" height="2.05" fill="#f6a6a6" shape-rendering="crispEdges"/>
<rect x="88.50" y="452.70" width="20.05" height="2.05" fill="#8c94cc" shape-rendering="crispEdges"/>
<rect x="88.50" y="454.70" width="20.05" height="2.05" fill="#f6a6a6" shape-rendering="crispEdges"/>
<rect x="88.50" y="456.70" width="20.05" height="2.05" fill="#ffffff" shape-rendering="crispEdges"/>
<rect x="88.50" y="458.71" width="20.05" height="34.09" fill="#3a53a4" shape-rendering="crispEdges"/>
<rect x="88.50" y="492.75" width="20.05" height="2.05" fill="#6670b4" shape-rendering="crispEdges"/>
<rect x="88.50" y="494.75" width="20.05" height="10.06" fill="#3a53a4" shape-rendering="crispEdges"/>
<rect x="88.50" y="504.76" width="20.05" height="2.05" fill="#c5c9e6" shape-rendering="crispEdges"/>
<rect x="88.50" y="506.76" width="20.05" height="2.05" fill="#6670b4" shape-rendering="crispEdges"/>
<rect x="88.50" y="508.77" width="20.05" height="2.05" fill="#c5c9e6" shape-rendering="crispEdges"/>
<rect x="88.50" y="510.77" width="20.05" height="2.05" fill="#6670b4" shape-rendering="crispEdges"/>
<rect x="88.50" y="512.77" width="20.05" height="24.08" fill="#3a53a4" shape-rendering="crispEdges"/>
<rect x="108.50" y="286.50" width="20.05" height="4.05" fill="#f37c7c" shape-rendering="crispEdges"/>
<rect x="108.50" y="290.50" width="20.05" height="4.05" fill="#f6a6a6" shape-rendering="crispEdges"/>
<rect x="108.50" y="294.51" width="20.05" height="2.05" fill="#fad3d3" shape-rendering="crispEdges"/>
<rect x="108.50" y="296.51" width="20.05" height="2.05" fill="#fdeeee" shape-rendering="crispEdges"/>
<rect x="108.50" y="298.51" width="20.05" height="2.05" fill="#ffffff" shape-rendering="crispEdges"/>
<rect x="108.50" y="300.52" width="20.05" height="2.05" fill="#fad3d3" shape-rendering="crispEdges"/>
<rect x="108.50" y="302.52" width="20.05" height="2.05" fill="#f6a6a6" shape-rendering="crispEdges"/>
<rect x="108.50" y="304.52" width="20.05" height="2.05" fill="#fad3d3" shape-rendering="crispEdges"/>
<rect x="108.50" y="306.52" width="20.05" height="2.05" fill="#f37c7c" shape-rendering="crispEdges"/>
<rect x="108.50" y="308.53" width="20.05" height="4.05" fill="#ef5353" shape-rendering="crispEdges"/>
<rect x="108.50" y="312.53" width="20.05" height="4.05" fill="#f37c7c" shape-rendering="crispEdges"/>
<rect x="108.50" y="316.54" width="20.05" height="6.06" fill="#ef5353" shape-rendering="crispEdges"/>
<rect x="108.50" y="322.54" width="20.05" height="4.05" fill="#ed2427" shape-rendering="crispEdges"/>
<rect x="108.50" y="326.55" width="20.05" height="2.05" fill="#ef5353" shape-rendering="crispEdges"/>
<rect x="108.50" y="328.55" width="20.05" height="2.05" fill="#f37c7c" shape-rendering="crispEdges"/>
<rect x="108.50" y="330.55" width="20.05" height="4.05" fill="#ef5353" shape-rendering="crispEdges"/>
<rect x="108.50" y="334.56" width="20.05" height="2.05" fill="#f37c7c" shape-rendering="crispEdges"/>
<rect x="108.50" y="336.56" width="20.05" height="2.05" fill="#ed2427" shape-rendering="crispEdges"/>
<rect x="108.50" y="338.56" width="20.05" height="2.05" fill="#fdeeee" shape-rendering="crispEdges"/>
<rect x="108.50" y="340.56" width="20.05" height="2.05" fill="#ffffff" shape-rendering="crispEdges"/>
<rect x="108.50" y="342.57" width="20.05" height="2.05" fill="#c5c9e6" shape-rendering="crispEdges"/>
<rect x="108.50" y="344.57" width="20.05" height="2.05" fill="#fdeeee" shape-rendering="crispEdges"/>
<rect x="108.50" y="346.57" width="20.05" height="2.05" fill="#c5c9e6" shape-rendering="crispEdges"/>
<rect x="108.50" y="348.57" width="20.05" height="2.05" fill="#8c94cc" shape-rendering="crispEdges"/>
<rect x="108.50" y="350.58" width="20.05" height="2.05" fill="#ffffff" shape-rendering="crispEdges"/>
<rect x="108.50" y="352.58" width="20.05" height="2.05" fill="#3a53a4" shape-rendering="crispEdges"/>
<rect x="108.50" y="354.58" width="20.05" height="2.05" fill="#ffffff" shape-rendering="crispEdges"/>
<rect x="108.50" y="356.58" width="20.05" height="2.05" fill="#8c94cc" shape-rendering="crispEdges"/>
<rect x="108.50" y="358.59" width="20.05" height="8.06" fill="#3a53a4" shape-rendering="crispEdges"/>
<rect x="108.50" y="366.60" width="20.05" height="2.05" fill="#c5c9e6" shape-rendering="crispEdges"/>
<rect x="108.50" y="368.60" width="20.05" height="10.06" fill="#3a53a4" shape-rendering="crispEdges"/>
<rect x="108.50" y="378.61" width="20.05" height="2.05" fill="#6670b4" shape-rendering="crispEdges"/>
<rect x="108.50" y="380.61" width="20.05" height="4.05" fill="#3a53a4" shape-rendering="crispEdges"/>
<rect x="108.50" y="384.62" width="20.05" height="2.05" fill="#f37c7c" shape-rendering="crispEdges"/>
<rect x="108.50" y="386.62" width="20.05" height="2.05" fill="#f6a6a6" shape-rendering="crispEdges"/>
<rect x="108.50" y="388.62" width="20.05" height="2.05" fill="#f37c7c" shape-rendering="crispEdges"/>
<rect x="108.50" y="390.62" width="20.05" height="2.05" fill="#f6a6a6" shape-rendering="crispEdges"/>
<rect x="108.50" y="392.63" width="20.05" height="2.05" fill="#fad3d3" shape-rendering="crispEdges"/>
<rect x="108.50" y="394.63" width="20.05" height="2.05" fill="#f6a6a6" shape-rendering="crispEdges"/>
<rect x="108.50" y="396.63" width="20.05" height="2.05" fill="#fad3d3" shape-rendering="crispEdges"/>
<rect x="108.50" y="398.63" width="20.05" height="2.05" fill="#ffffff" shape-rendering="crispEdges"/>
<rect x="108.50" y="400.64" width="20.05" height="2.05" fill="#f6a6a6" shape-rendering="crispEdges"/>
<rect x="108.50" y="402.64" width="20.05" height="2.05" fill="#f37c7c" shape-rendering="crispEdges"/>
<rect x="108.50" y="404.64" width="20.05" height="4.05" fill="#ef5353" shape-rendering="crispEdges"/>
<rect x="108.50" y="408.65" width="20.05" height="2.05" fill="#f37c7c" shape-rendering="crispEdges"/>
<rect x="108.50" y="410.65" width="20.05" height="2.05" fill="#ffffff" shape-rendering="crispEdges"/>
<rect x="108.50" y="412.65" width="20.05" height="2.05" fill="#ef5353" shape-rendering="crispEdges"/>
<rect x="108.50" y="414.65" width="20.05" height="2.05" fill="#fad3d3" shape-rendering="crispEdges"/>
<rect x="108.50" y="416.66" width="20.05" height="2.05" fill="#fdeeee" shape-rendering="crispEdges"/>
<rect x="108.50" y="418.66" width="20.05" height="2.05" fill="#fad3d3" shape-rendering="crispEdges"/>
<rect x="108.50" y="420.66" width="20.05" height="2.05" fill="#3a53a4" shape-rendering="crispEdges"/>
<rect x="108.50" y="422.66" width="20.05" height="2.05" fill="#fdeeee" shape-rendering="crispEdges"/>
<rect x="108.50" y="424.67" width="20.05" height="2.05" fill="#3a53a4" shape-rendering="crispEdges"/>
<rect x="108.50" y="426.67" width="20.05" height="2.05" fill="#f6a6a6" shape-rendering="crispEdges"/>
<rect x="108.50" y="428.67" width="20.05" height="2.05" fill="#fad3d3" shape-rendering="crispEdges"/>
<rect x="108.50" y="430.67" width="20.05" height="2.05" fill="#ffffff" shape-rendering="crispEdges"/>
<rect x="108.50" y="432.68" width="20.05" height="2.05" fill="#fad3d3" shape-rendering="crispEdges"/>
<rect x="108.50" y="434.68" width="20.05" height="2.05" fill="#ffffff" shape-rendering="crispEdges"/>
<rect x="108.50" y="436.68" width="20.05" height="4.05" fill="#ed2427" shape-rendering="crispEdges"/>
<rect x="108.50" y="440.68" width="20.05" height="2.05" fill="#ef5353" shape-rendering="crispEdges"/>
<rect x="108.50" y="442.69" width="20.05" height="2.05" fill="#f37c7c" shape-rendering="crispEdges"/>
<rect x="108.50" y="444.69" width="20.05" height="6.06" fill="#3a53a4" shape-rendering="crispEdges"/>
<rect x="108.50" y="450.70" width="20.05" height="2.05" fill="#ffffff" shape-rendering="crispEdges"/>
<rect x="108.50" y="452.70" width="20.05" height="2.05" fill="#c5c9e6" shape-rendering="crispEdges"/>
<rect x="108.50" y="454.70" width="20.05" height="2.05" fill="#f37c7c" shape-rendering="crispEdges"/>
<rect x="108.50" y="456.70" width="20.05" height="42.10" fill="#3a53a4" shape-rendering="crispEdges"/>
<rect x="108.50" y="498.75" width="20.05" height="2.05" fill="#ffffff" shape-rendering="crispEdges"/>
<rect x="108.50" y="500.76" width="20.05" height="2.05" fill="#6670b4" shape-rendering="crispEdges"/>
<rect x="108.50" y="502.76" width="20.05" height="2.05" fill="#ffffff" shape-rendering="crispEdges"/>
<rect x="108.50" y="504.76" width="20.05" height="2.05" fill="#6670b4" shape-rendering="crispEdges"/>
<rect x="108.50" y="506.76" width="20.05" height="2.05" fill="#c5c9e6" shape-rendering="crispEdges"/>
<rect x="108.50" y="508.77" width="20.05" height="2.05" fill="#6670b4" shape-rendering="crispEdges"/>
<rect x="108.50" y="510.77" width="20.05" height="26.08" fill="#3a53a4" shape-rendering="crispEdges"/>
<rect x="128.50" y="286.50" width="20.05" height="2.05" fill="#ef5353" shape-rendering="crispEdges"/>
<rect x="128.50" y="288.50" width="20.05" height="4.05" fill="#f37c7c" shape-rendering="crispEdges"/>
<rect x="128.50" y="292.51" width="20.05" height="2.05" fill="#f6a6a6" shape-rendering="crispEdges"/>
<rect x="128.50" y="294.51" width="20.05" height="4.05" fill="#f37c7c" shape-rendering="crispEdges"/>
<rect x="128.50" y="298.51" width="20.05" height="2.05" fill="#f6a6a6" shape-rendering="crispEdges"/>
<rect x="128.50" y="300.52" width="20.05" height="2.05" fill="#fad3d3" shape-rendering="crispEdges"/>
<rect x="128.50" y="302.52" width="20.05" height="12.06" fill="#ed2427" shape-rendering="crispEdges"/>
<rect x="128.50" y="314.53" width="20.05" height="2.05" fill="#ef5353" shape-rendering="crispEdges"/>
<rect x="128.50" y="316.54" width="20.05" height="2.05" fill="#f6a6a6" shape-rendering="crispEdges"/>
<rect x="128.50" y="318.54" width="20.05" height="2.05" fill="#f37c7c" shape-rendering="crispEdges"/>
<rect x="128.50" y="320.54" width="20.05" height="2.05" fill="#f6a6a6" shape-rendering="crispEdges"/>
<rect x="128.50" y="322.54" width="20.05" height="2.05" fill="#fad3d3" shape-rendering="crispEdges"/>
<rect x="128.50" y="324.55" width="20.05" height="2.05" fill="#ffffff" shape-rendering="crispEdges"/>
<rect x="128.50" y="326.55" width="20.05" height="2.05" fill="#f6a6a6" shape-rendering="crispEdges"/>
<rect x="128.50" y="328.55" width="20.05" height="2.05" fill="#fad3d3" shape-rendering="crispEdges"/>
<rect x="128.50" y="330.55" width="20.05" height="2.05" fill="#c5c9e6" shape-rendering="crispEdges"/>
<rect x="128.50" y="332.56" width="20.05" height="2.05" fill="#f6a6a6" shape-rendering="crispEdges"/>
<rect x="128.50" y="334.56" width="20.05" height="2.05" fill="#fad3d3" shape-rendering="crispEdges"/>
<rect x="128.50" y="336.56" width="20.05" height="2.05" fill="#ed2427" shape-rendering="crispEdges"/>
<rect x="128.50" y="338.56" width="20.05" height="2.05" fill="#f6a6a6" shape-rendering="crispEdges"/>
<rect x="128.50" y="340.56" width="20.05" height="2.05" fill="#fad3d3" shape-rendering="crispEdges"/>
<rect x="128.50" y="342.57" width="20.05" height="2.05" fill="#f6a6a6" shape-rendering="crispEdges"/>
<rect x="128.50" y="344.57" width="20.05" height="2.05" fill="#fad3d3" shape-rendering="crispEdges"/>
<rect x="128.50" y="346.57" width="20.05" height="2.05" fill="#f6a6a6" shape-rendering="crispEdges"/>
<rect x="128.50" y="348.57" width="20.05" height="2.05" fill="#f37c7c" shape-rendering="crispEdges"/>
<rect x="128.50" y="350.58" width="20.05" height="2.05" fill="#fad3d3" shape-rendering="crispEdges"/>
<rect x="128.50" y="352.58" width="20.05" height="4.05" fill="#f6a6a6" shape-rendering="crispEdges"/>
<rect x="128.50" y="356.58" width="20.05" height="2.05" fill="#f37c7c" shape-rendering="crispEdges"/>
<rect x="128.50" y="358.59" width="20.05" height="2.05" fill="#f6a6a6" shape-rendering="crispEdges"/>
<rect x="128.50" y="360.59" width="20.05" height="2.05" fill="#ef5353" shape-rendering="crispEdges"/>
<rect x="128.50" y="362.59" width="20.05" height="2.05" fill="#ffffff" shape-rendering="crispEdges"/>
<rect x="128.50" y="364.59" width="20.05" height="2.05" fill="#8c94cc" shape-rendering="crispEdges"/>
<rect x="128.50" y="366.60" width="20.05" height="2.05" fill="#ffffff" shape-rendering="crispEdges"/>
<rect x="128.50" y="368.60" width="20.05" height="2.05" fill="#fdeeee" shape-rendering="crispEdges"/>
<rect x="128.50" y="370.60" width="20.05" height="2.05" fill="#ffffff" shape-rendering="crispEdges"/>
<rect x="128.50" y="372.60" width="20.05" height="2.05" fill="#f6a6a6" shape-rendering="crispEdges"/>
<rect x="128.50" y="374.61" width="20.05" height="2.05" fill="#fdeeee" shape-rendering="crispEdges"/>
<rect x="128.50" y="376.61" width="20.05" height="2.05" fill="#3a53a4" shape-rendering="crispEdges"/>
<rect x="128.50" y="378.61" width="20.05" height="2.05" fill="#6670b4" shape-rendering="crispEdges"/>
<rect x="128.50" y="380.61" width="20.05" height="2.05" fill="#c5c9e6" shape-rendering="crispEdges"/>
<rect x="128.50" y="382.62" width="20.05" height="4.05" fill="#fdeeee" shape-rendering="crispEdges"/>
<rect x="128.50" y="386.62" width="20.05" height="2.05" fill="#fad3d3" shape-rendering="crispEdges"/>
<rect x="128.50" y="388.62" width="20.05" height="2.05" fill="#fdeeee" shape-rendering="crispEdges"/>
<rect x="128.50" y="390.62" width="20.05" height="2.05" fill="#f6a6a6" shape-rendering="crispEdges"/>
<rect x="128.50" y="392.63" width="20.05" height="2.05" fill="#8c94cc" shape-rendering="crispEdges"/>
<rect x="128.50" y="394.63" width="20.05" height="4.05" fill="#fdeeee" shape-rendering="crispEdges"/>
<rect x="128.50" y="398.63" width="20.05" height="2.05" fill="#fad3d3" shape-rendering="crispEdges"/>
<rect x="128.50" y="400.64" width="20.05" height="2.05" fill="#ffffff" shape-rendering="crispEdges"/>
<rect x="128.50" y="402.64" width="20.05" height="2.05" fill="#3a53a4" shape-rendering="crispEdges"/>
<rect x="128.50" y="404.64" width="20.05" height="4.05" fill="#8c94cc" shape-rendering="crispEdges"/>
<rect x="128.50" y="408.65" width="20.05" height="10.06" fill="#3a53a4" shape-rendering="crispEdges"/>
<rect x="128.50" y="418.66" width="20.05" height="2.05" fill="#6670b4" shape-rendering="crispEdges"/>
<rect x="128.50" y="420.66" width="20.05" height="16.07" fill="#3a53a4" shape-rendering="crispEdges"/>
<rect x="128.50" y="436.68" width="20.05" height="2.05" fill="#c5c9e6" shape-rendering="crispEdges"/>
<rect x="128.50" y="438.68" width="20.05" height="20.07" fill="#3a53a4" shape-rendering="crispEdges"/>
<rect x="128.50" y="458.71" width="20.05" height="2.05" fill="#f37c7c" shape-rendering="crispEdges"/>
<rect x="128.50" y="460.71" width="20.05" height="6.06" fill="#3a53a4" shape-rendering="crispEdges"/>
<rect x="128.50" y="466.72" width="20.05" height="2.05" fill="#c5c9e6" shape-rendering="crispEdges"/>
<rect x="128.50" y="468.72" width="20.05" height="2.05" fill="#3a53a4" shape-rendering="crispEdges"/>
<rect x="128.50" y="470.72" width="20.05" height="4.05" fill="#6670b4" shape-rendering="crispEdges"/>
<rect x="128.50" y="474.73" width="20.05" height="2.05" fill="#8c94cc" shape-rendering="crispEdges"/>
<rect x="128.50" y="476.73" width="20.05" height="8.06" fill="#3a53a4" shape-rendering="crispEdges"/>
<rect x="128.50" y="484.74" width="20.05" height="4.05" fill="#8c94cc" shape-rendering="crispEdges"/>
<rect x="128.50" y="488.74" width="20.05" height="2.05" fill="#6670b4" shape-rendering="crispEdges"/>
<rect x="128.50" y="490.74" width="20.05" height="42.10" fill="#3a53a4" shape-rendering="crispEdges"/>
<rect x="128.50" y="532.80" width="20.05" height="2.05" fill="#6670b4" shape-rendering="crispEdges"/>
<rect x="128.50" y="534.80" width="20.05" height="2.05" fill="#3a53a4" shape-rendering="crispEdges"/>
<rect x="148.50" y="286.50" width="20.05" height="4.05" fill="#f37c7c" shape-rendering="crispEdges"/>
<rect x="148.50" y="290.50" width="20.05" height="2.05" fill="#f6a6a6" shape-rendering="crispEdges"/>
<rect x="148.50" y="292.51" width="20.05" height="8.06" fill="#f37c7c" shape-rendering="crispEdges"/>
<rect x="148.50" y="300.52" width="20.05" height="2.05" fill="#ef5353" shape-rendering="crispEdges"/>
<rect x="148.50" y="302.52" width="20.05" height="14.07" fill="#ed2427" shape-rendering="crispEdges"/>
<rect x="148.50" y="316.54" width="20.05" height="2.05" fill="#ef5353" shape-rendering="crispEdges"/>
<rect x="148.50" y="318.54" width="20.05" height="2.05" fill="#f37c7c" shape-rendering="crispEdges"/>
<rect x="148.50" y="320.54" width="20.05" height="2.05" fill="#f6a6a6" shape-rendering="crispEdges"/>
<rect x="148.50" y="322.54" width="20.05" height="2.05" fill="#ffffff" shape-rendering="crispEdges"/>
<rect x="148.50" y="324.55" width="20.05" height="4.05" fill="#f37c7c" shape-rendering="crispEdges"/>
<rect x="148.50" y="328.55" width="20.05" height="2.05" fill="#f6a6a6" shape-rendering="crispEdges"/>
<rect x="148.50" y="330.55" width="20.05" height="2.05" fill="#ffffff" shape-rendering="crispEdges"/>
<rect x="148.50" y="332.56" width="20.05" height="2.05" fill="#f6a6a6" shape-rendering="crispEdges"/>
<rect x="148.50" y="334.56" width="20.05" height="2.05" fill="#fad3d3" shape-rendering="crispEdges"/>
<rect x="148.50" y="336.56" width="20.05" height="2.05" fill="#ed2427" shape-rendering="crispEdges"/>
<rect x="148.50" y="338.56" width="20.05" height="2.05" fill="#fad3d3" shape-rendering="crispEdges"/>
<rect x="148.50" y="340.56" width="20.05" height="2.05" fill="#f6a6a6" shape-rendering="crispEdges"/>
<rect x="148.50" y="342.57" width="20.05" height="2.05" fill="#fad3d3" shape-rendering="crispEdges"/>
<rect x="148.50" y="344.57" width="20.05" height="2.05" fill="#f6a6a6" shape-rendering="crispEdges"/>
<rect x="148.50" y="346.57" width="20.05" height="4.05" fill="#f37c7c" shape-rendering="crispEdges"/>
<rect x="148.50" y="350.58" width="20.05" height="4.05" fill="#fad3d3" shape-rendering="crispEdges"/>
<rect x="148.50" y="354.58" width="20.05" height="2.05" fill="#f6a6a6" shape-rendering="crispEdges"/>
<rect x="148.50" y="356.58" width="20.05" height="2.05" fill="#c5c9e6" shape-rendering="crispEdges"/>
<rect x="148.50" y="358.59" width="20.05" height="4.05" fill="#f37c7c" shape-rendering="crispEdges"/>
<rect x="148.50" y="362.59" width="20.05" height="2.05" fill="#f6a6a6" shape-rendering="crispEdges"/>
<rect x="148.50" y="364.59" width="20.05" height="2.05" fill="#c5c9e6" shape-rendering="crispEdges"/>
<rect x="148.50" y="366.60" width="20.05" height="4.05" fill="#fad3d3" shape-rendering="crispEdges"/>
<rect x="148.50" y="370.60" width="20.05" height="2.05" fill="#ffffff" shape-rendering="crispEdges"/>
<rect x="148.50" y="372.60" width="20.05" height="2.05" fill="#3a53a4" shape-rendering="crispEdges"/>
<rect x="148.50" y="374.61" width="20.05" height="4.05" fill="#6670b4" shape-rendering="crispEdges"/>
<rect x="148.50" y="378.61" width="20.05" height="2.05" fill="#c5c9e6" shape-rendering="crispEdges"/>
<rect x="148.50" y="380.61" width="20.05" height="2.05" fill="#8c94cc" shape-rendering="crispEdges"/>
<rect x="148.50" y="382.62" width="20.05" height="2.05" fill="#3a53a4" shape-rendering="crispEdges"/>
<rect x="148.50" y="384.62" width="20.05" height="2.05" fill="#fdeeee" shape-rendering="crispEdges"/>
<rect x="148.50" y="386.62" width="20.05" height="4.05" fill="#fad3d3" shape-rendering="crispEdges"/>
<rect x="148.50" y="390.62" width="20.05" height="2.05" fill="#ffffff" shape-rendering="crispEdges"/>
<rect x="148.50" y="392.63" width="20.05" height="2.05" fill="#c5c9e6" shape-rendering="crispEdges"/>
<rect x="148.50" y="394.63" width="20.05" height="4.05" fill="#8c94cc" shape-rendering="crispEdges"/>
<rect x="148.50" y="398.63" width="20.05" height="2.05" fill="#c5c9e6" shape-rendering="crispEdges"/>
<rect x="148.50" y="400.64" width="20.05" height="2.05" fill="#8c94cc" shape-rendering="crispEdges"/>
<rect x="148.50" y="402.64" width="20.05" height="2.05" fill="#6670b4" shape-rendering="crispEdges"/>
<rect x="148.50" y="404.64" width="20.05" height="2.05" fill="#8c94cc" shape-rendering="crispEdges"/>
<rect x="148.50" y="406.64" width="20.05" height="2.05" fill="#3a53a4" shape-rendering="crispEdges"/>
<rect x="148.50" y="408.65" width="20.05" height="2.05" fill="#ffffff" shape-rendering="crispEdges"/>
<rect x="148.50" y="410.65" width="20.05" height="2.05" fill="#3a53a4" shape-rendering="crispEdges"/>
<rect x="148.50" y="412.65" width="20.05" height="2.05" fill="#c5c9e6" shape-rendering="crispEdges"/>
<rect x="148.50" y="414.65" width="20.05" height="2.05" fill="#3a53a4" shape-rendering="crispEdges"/>
<rect x="148.50" y="416.66" width="20.05" height="2.05" fill="#c5c9e6" shape-rendering="crispEdges"/>
<rect x="148.50" y="418.66" width="20.05" height="6.06" fill="#3a53a4" shape-rendering="crispEdges"/>
<rect x="148.50" y="424.67" width="20.05" height="2.05" fill="#8c94cc" shape-rendering="crispEdges"/>
<rect x="148.50" y="426.67" width="20.05" height="10.06" fill="#3a53a4" shape-rendering="crispEdges"/>
<rect x="148.50" y="436.68" width="20.05" height="2.05" fill="#6670b4" shape-rendering="crispEdges"/>
<rect x="148.50" y="438.68" width="20.05" height="28.08" fill="#3a53a4" shape-rendering="crispEdges"/>
<rect x="148.50" y="466.72" width="20.05" height="2.05" fill="#c5c9e6" shape-rendering="crispEdges"/>
<rect x="148.50" y="468.72" width="20.05" height="2.05" fill="#fad3d3" shape-rendering="crispEdges"/>
<rect x="148.50" y="470.72" width="20.05" height="2.05" fill="#fdeeee" shape-rendering="crispEdges"/>
<rect x="148.50" y="472.72" width="20.05" height="2.05" fill="#c5c9e6" shape-rendering="crispEdges"/>
<rect x="148.50" y="474.73" width="20.05" height="4.05" fill="#6670b4" shape-rendering="crispEdges"/>
<rect x="148.50" y="478.73" width="20.05" height="2.05" fill="#ffffff" shape-rendering="crispEdges"/>
<rect x="148.50" y="480.73" width="20.05" height="4.05" fill="#8c94cc" shape-rendering="crispEdges"/>
<rect x="148.50" y="484.74" width="20.05" height="4.05" fill="#6670b4" shape-rendering="crispEdges"/>
<rect x="148.50" y="488.74" width="20.05" height="2.05" fill="#3a53a4" shape-rendering="crispEdges"/>
<rect x="148.50" y="490.74" width="20.05" height="2.05" fill="#c5c9e6" shape-rendering="crispEdges"/>
<rect x="148.50" y="492.75" width="20.05" height="44.10" fill="#3a53a4" shape-rendering="crispEdges"/>
<rect x="168.50" y="286.50" width="20.05" height="2.05" fill="#ef5353" shape-rendering="crispEdges"/>
<rect x="168.50" y="288.50" width="20.05" height="2.05" fill="#f37c7c" shape-rendering="crispEdges"/>
<rect x="168.50" y="290.50" width="20.05" height="4.05" fill="#f6a6a6" shape-rendering="crispEdges"/>
<rect x="168.50" y="294.51" width="20.05" height="6.06" fill="#f37c7c" shape-rendering="crispEdges"/>
<rect x="168.50" y="300.52" width="20.05" height="2.05" fill="#ef5353" shape-rendering="crispEdges"/>
<rect x="168.50" y="302.52" width="20.05" height="10.06" fill="#ed2427" shape-rendering="crispEdges"/>
<rect x="168.50" y="312.53" width="20.05" height="2.05" fill="#ef5353" shape-rendering="crispEdges"/>
<rect x="168.50" y="314.53" width="20.05" height="2.05" fill="#f37c7c" shape-rendering="crispEdges"/>
<rect x="168.50" y="316.54" width="20.05" height="2.05" fill="#ef5353" shape-rendering="crispEdges"/>
<rect x="168.50" y="318.54" width="20.05" height="2.05" fill="#f37c7c" shape-rendering="crispEdges"/>
<rect x="168.50" y="320.54" width="20.05" height="2.05" fill="#ef5353" shape-rendering="crispEdges"/>
<rect x="168.50" y="322.54" width="20.05" height="2.05" fill="#f37c7c" shape-rendering="crispEdges"/>
<rect x="168.50" y="324.55" width="20.05" height="2.05" fill="#ffffff" shape-rendering="crispEdges"/>
<rect x="168.50" y="326.55" width="20.05" height="2.05" fill="#f37c7c" shape-rendering="crispEdges"/>
<rect x="168.50" y="328.55" width="20.05" height="2.05" fill="#f6a6a6" shape-rendering="crispEdges"/>
<rect x="168.50" y="330.55" width="20.05" height="2.05" fill="#ffffff" shape-rendering="crispEdges"/>
<rect x="168.50" y="332.56" width="20.05" height="2.05" fill="#fad3d3" shape-rendering="crispEdges"/>
<rect x="168.50" y="334.56" width="20.05" height="2.05" fill="#f6a6a6" shape-rendering="crispEdges"/>
<rect x="168.50" y="336.56" width="20.05" height="2.05" fill="#ed2427" shape-rendering="crispEdges"/>
<rect x="168.50" y="338.56" width="20.05" height="2.05" fill="#fad3d3" shape-rendering="crispEdges"/>
<rect x="168.50" y="340.56" width="20.05" height="2.05" fill="#f6a6a6" shape-rendering="crispEdges"/>
<rect x="168.50" y="342.57" width="20.05" height="2.05" fill="#fad3d3" shape-rendering="crispEdges"/>
<rect x="168.50" y="344.57" width="20.05" height="4.05" fill="#f6a6a6" shape-rendering="crispEdges"/>
<rect x="168.50" y="348.57" width="20.05" height="2.05" fill="#f37c7c" shape-rendering="crispEdges"/>
<rect x="168.50" y="350.58" width="20.05" height="2.05" fill="#fad3d3" shape-rendering="crispEdges"/>
<rect x="168.50" y="352.58" width="20.05" height="4.05" fill="#f6a6a6" shape-rendering="crispEdges"/>
<rect x="168.50" y="356.58" width="20.05" height="2.05" fill="#3a53a4" shape-rendering="crispEdges"/>
<rect x="168.50" y="358.59" width="20.05" height="2.05" fill="#f6a6a6" shape-rendering="crispEdges"/>
<rect x="168.50" y="360.59" width="20.05" height="2.05" fill="#f37c7c" shape-rendering="crispEdges"/>
<rect x="168.50" y="362.59" width="20.05" height="2.05" fill="#f6a6a6" shape-rendering="crispEdges"/>
<rect x="168.50" y="364.59" width="20.05" height="4.05" fill="#fad3d3" shape-rendering="crispEdges"/>
<rect x="168.50" y="368.60" width="20.05" height="2.05" fill="#c5c9e6" shape-rendering="crispEdges"/>
<rect x="168.50" y="370.60" width="20.05" height="2.05" fill="#8c94cc" shape-rendering="crispEdges"/>
<rect x="168.50" y="372.60" width="20.05" height="2.05" fill="#f6a6a6" shape-rendering="crispEdges"/>
<rect x="168.50" y="374.61" width="20.05" height="2.05" fill="#fad3d3" shape-rendering="crispEdges"/>
<rect x="168.50" y="376.61" width="20.05" height="2.05" fill="#3a53a4" shape-rendering="crispEdges"/>
<rect x="168.50" y="378.61" width="20.05" height="2.05" fill="#ffffff" shape-rendering="crispEdges"/>
<rect x="168.50" y="380.61" width="20.05" height="2.05" fill="#c5c9e6" shape-rendering="crispEdges"/>
<rect x="168.50" y="382.62" width="20.05" height="2.05" fill="#6670b4" shape-rendering="crispEdges"/>
<rect x="168.50" y="384.62" width="20.05" height="2.05" fill="#fdeeee" shape-rendering="crispEdges"/>
<rect x="168.50" y="386.62" width="20.05" height="2.05" fill="#f6a6a6" shape-rendering="crispEdges"/>
<rect x="168.50" y="388.62" width="20.05" height="2.05" fill="#fad3d3" shape-rendering="crispEdges"/>
<rect x="168.50" y="390.62" width="20.05" height="2.05" fill="#fdeeee" shape-rendering="crispEdges"/>
<rect x="168.50" y="392.63" width="20.05" height="2.05" fill="#ffffff" shape-rendering="crispEdges"/>
<rect x="168.50" y="394.63" width="20.05" height="4.05" fill="#c5c9e6" shape-rendering="crispEdges"/>
<rect x="168.50" y="398.63" width="20.05" height="2.05" fill="#6670b4" shape-rendering="crispEdges"/>
<rect x="168.50" y="400.64" width="20.05" height="2.05" fill="#3a53a4" shape-rendering="crispEdges"/>
<rect x="168.50" y="402.64" width="20.05" height="2.05" fill="#ffffff" shape-rendering="crispEdges"/>
<rect x="168.50" y="404.64" width="20.05" height="2.05" fill="#3a53a4" shape-rendering="crispEdges"/>
<rect x="168.50" y="406.64" width="20.05" height="2.05" fill="#fad3d3" shape-rendering="crispEdges"/>
<rect x="168.50" y="408.65" width="20.05" height="4.05" fill="#3a53a4" shape-rendering="crispEdges"/>
<rect x="168.50" y="412.65" width="20.05" height="2.05" fill="#6670b4" shape-rendering="crispEdges"/>
<rect x="168.50" y="414.65" width="20.05" height="2.05" fill="#ffffff" shape-rendering="crispEdges"/>
<rect x="168.50" y="416.66" width="20.05" height="4.05" fill="#3a53a4" shape-rendering="crispEdges"/>
<rect x="168.50" y="420.66" width="20.05" height="2.05" fill="#6670b4" shape-rendering="crispEdges"/>
<rect x="168.50" y="422.66" width="20.05" height="2.05" fill="#3a53a4" shape-rendering="crispEdges"/>
<rect x="168.50" y="424.67" width="20.05" height="2.05" fill="#8c94cc" shape-rendering="crispEdges"/>
<rect x="168.50" y="426.67" width="20.05" height="32.09" fill="#3a53a4" shape-rendering="crispEdges"/>
<rect x="168.50" y="458.71" width="20.05" height="2.05" fill="#c5c9e6" shape-rendering="crispEdges"/>
<rect x="168.50" y="460.71" width="20.05" height="2.05" fill="#f37c7c" shape-rendering="crispEdges"/>
<rect x="168.50" y="462.71" width="20.05" height="4.05" fill="#ffffff" shape-rendering="crispEdges"/>
<rect x="168.50" y="466.72" width="20.05" height="2.05" fill="#c5c9e6" shape-rendering="crispEdges"/>
<rect x="168.50" y="468.72" width="20.05" height="2.05" fill="#ffffff" shape-rendering="crispEdges"/>
<rect x="168.50" y="470.72" width="20.05" height="2.05" fill="#3a53a4" shape-rendering="crispEdges"/>
<rect x="168.50" y="472.72" width="20.05" height="2.05" fill="#6670b4" shape-rendering="crispEdges"/>
<rect x="168.50" y="474.73" width="20.05" height="8.06" fill="#3a53a4" shape-rendering="crispEdges"/>
<rect x="168.50" y="482.74" width="20.05" height="2.05" fill="#6670b4" shape-rendering="crispEdges"/>
<rect x="168.50" y="484.74" width="20.05" height="40.10" fill="#3a53a4" shape-rendering="crispEdges"/>
<rect x="168.50" y="524.79" width="20.05" height="2.05" fill="#8c94cc" shape-rendering="crispEdges"/>
<rect x="168.50" y="526.79" width="20.05" height="2.05" fill="#3a53a4" shape-rendering="crispEdges"/>
<rect x="168.50" y="528.79" width="20.05" height="2.05" fill="#6670b4" shape-rendering="crispEdges"/>
<rect x="168.50" y="530.79" width="20.05" height="6.06" fill="#3a53a4" shape-rendering="crispEdges"/>
<rect x="188.50" y="286.50" width="20.05" height="2.05" fill="#ef5353" shape-rendering="crispEdges"/>
<rect x="188.50" y="288.50" width="20.05" height="2.05" fill="#f37c7c" shape-rendering="crispEdges"/>
<rect x="188.50" y="290.50" width="20.05" height="8.06" fill="#f6a6a6" shape-rendering="crispEdges"/>
<rect x="188.50" y="298.51" width="20.05" height="2.05" fill="#f37c7c" shape-rendering="crispEdges"/>
<rect x="188.50" y="300.52" width="20.05" height="2.05" fill="#ef5353" shape-rendering="crispEdges"/>
<rect x="188.50" y="302.52" width="20.05" height="10.06" fill="#ed2427" shape-rendering="crispEdges"/>
<rect x="188.50" y="312.53" width="20.05" height="2.05" fill="#f6a6a6" shape-rendering="crispEdges"/>
<rect x="188.50" y="314.53" width="20.05" height="4.05" fill="#ed2427" shape-rendering="crispEdges"/>
<rect x="188.50" y="318.54" width="20.05" height="4.05" fill="#f37c7c" shape-rendering="crispEdges"/>
<rect x="188.50" y="322.54" width="20.05" height="4.05" fill="#f6a6a6" shape-rendering="crispEdges"/>
<rect x="188.50" y="326.55" width="20.05" height="2.05" fill="#ffffff" shape-rendering="crispEdges"/>
<rect x="188.50" y="328.55" width="20.05" height="2.05" fill="#fad3d3" shape-rendering="crispEdges"/>
<rect x="188.50" y="330.55" width="20.05" height="2.05" fill="#f6a6a6" shape-rendering="crispEdges"/>
<rect x="188.50" y="332.56" width="20.05" height="2.05" fill="#ffffff" shape-rendering="crispEdges"/>
<rect x="188.50" y="334.56" width="20.05" height="2.05" fill="#8c94cc" shape-rendering="crispEdges"/>
<rect x="188.50" y="336.56" width="20.05" height="2.05" fill="#ed2427" shape-rendering="crispEdges"/>
<rect x="188.50" y="338.56" width="20.05" height="2.05" fill="#f37c7c" shape-rendering="crispEdges"/>
<rect x="188.50" y="340.56" width="20.05" height="2.05" fill="#f6a6a6" shape-rendering="crispEdges"/>
<rect x="188.50" y="342.57" width="20.05" height="2.05" fill="#f37c7c" shape-rendering="crispEdges"/>
<rect x="188.50" y="344.57" width="20.05" height="2.05" fill="#fad3d3" shape-rendering="crispEdges"/>
<rect x="188.50" y="346.57" width="20.05" height="2.05" fill="#f6a6a6" shape-rendering="crispEdges"/>
<rect x="188.50" y="348.57" width="20.05" height="2.05" fill="#f37c7c" shape-rendering="crispEdges"/>
<rect x="188.50" y="350.58" width="20.05" height="2.05" fill="#fad3d3" shape-rendering="crispEdges"/>
<rect x="188.50" y="352.58" width="20.05" height="4.05" fill="#ffffff" shape-rendering="crispEdges"/>
<rect x="188.50" y="356.58" width="20.05" height="2.05" fill="#f37c7c" shape-rendering="crispEdges"/>
<rect x="188.50" y="358.59" width="20.05" height="2.05" fill="#f6a6a6" shape-rendering="crispEdges"/>
<rect x="188.50" y="360.59" width="20.05" height="2.05" fill="#fad3d3" shape-rendering="crispEdges"/>
<rect x="188.50" y="362.59" width="20.05" height="2.05" fill="#3a53a4" shape-rendering="crispEdges"/>
<rect x="188.50" y="364.59" width="20.05" height="2.05" fill="#fad3d3" shape-rendering="crispEdges"/>
<rect x="188.50" y="366.60" width="20.05" height="2.05" fill="#ffffff" shape-rendering="crispEdges"/>
<rect x="188.50" y="368.60" width="20.05" height="2.05" fill="#fad3d3" shape-rendering="crispEdges"/>
<rect x="188.50" y="370.60" width="20.05" height="2.05" fill="#c5c9e6" shape-rendering="crispEdges"/>
<rect x="188.50" y="372.60" width="20.05" height="2.05" fill="#fdeeee" shape-rendering="crispEdges"/>
<rect x="188.50" y="374.61" width="20.05" height="2.05" fill="#3a53a4" shape-rendering="crispEdges"/>
<rect x="188.50" y="376.61" width="20.05" height="2.05" fill="#fad3d3" shape-rendering="crispEdges"/>
<rect x="188.50" y="378.61" width="20.05" height="2.05" fill="#ffffff" shape-rendering="crispEdges"/>
<rect x="188.50" y="380.61" width="20.05" height="2.05" fill="#c5c9e6" shape-rendering="crispEdges"/>
<rect x="188.50" y="382.62" width="20.05" height="2.05" fill="#6670b4" shape-rendering="crispEdges"/>
<rect x="188.50" y="384.62" width="20.05" height="2.05" fill="#fdeeee" shape-rendering="crispEdges"/>
<rect x="188.50" y="386.62" width="20.05" height="2.05" fill="#3a53a4" shape-rendering="crispEdges"/>
<rect x="188.50" y="388.62" width="20.05" height="2.05" fill="#fdeeee" shape-rendering="crispEdges"/>
<rect x="188.50" y="390.62" width="20.05" height="2.05" fill="#6670b4" shape-rendering="crispEdges"/>
<rect x="188.50" y="392.63" width="20.05" height="2.05" fill="#fad3d3" shape-rendering="crispEdges"/>
<rect x="188.50" y="394.63" width="20.05" height="2.05" fill="#8c94cc" shape-rendering="crispEdges"/>
<rect x="188.50" y="396.63" width="20.05" height="2.05" fill="#ffffff" shape-rendering="crispEdges"/>
<rect x="188.50" y="398.63" width="20.05" height="2.05" fill="#fdeeee" shape-rendering="crispEdges"/>
<rect x="188.50" y="400.64" width="20.05" height="2.05" fill="#3a53a4" shape-rendering="crispEdges"/>
<rect x="188.50" y="402.64" width="20.05" height="2.05" fill="#8c94cc" shape-rendering="crispEdges"/>
<rect x="188.50" y="404.64" width="20.05" height="8.06" fill="#3a53a4" shape-rendering="crispEdges"/>
<rect x="188.50" y="412.65" width="20.05" height="2.05" fill="#6670b4" shape-rendering="crispEdges"/>
<rect x="188.50" y="414.65" width="20.05" height="2.05" fill="#3a53a4" shape-rendering="crispEdges"/>
<rect x="188.50" y="416.66" width="20.05" height="2.05" fill="#8c94cc" shape-rendering="crispEdges"/>
<rect x="188.50" y="418.66" width="20.05" height="4.05" fill="#3a53a4" shape-rendering="crispEdges"/>
<rect x="188.50" y="422.66" width="20.05" height="2.05" fill="#6670b4" shape-rendering="crispEdges"/>
<rect x="188.50" y="424.67" width="20.05" height="42.10" fill="#3a53a4" shape-rendering="crispEdges"/>
<rect x="188.50" y="466.72" width="20.05" height="2.05" fill="#ffffff" shape-rendering="crispEdges"/>
<rect x="188.50" y="468.72" width="20.05" height="10.06" fill="#3a53a4" shape-rendering="crispEdges"/>
<rect x="188.50" y="478.73" width="20.05" height="2.05" fill="#8c94cc" shape-rendering="crispEdges"/>
<rect x="188.50" y="480.73" width="20.05" height="2.05" fill="#3a53a4" shape-rendering="crispEdges"/>
<rect x="188.50" y="482.74" width="20.05" height="2.05" fill="#6670b4" shape-rendering="crispEdges"/>
<rect x="188.50" y="484.74" width="20.05" height="2.05" fill="#8c94cc" shape-rendering="crispEdges"/>
<rect x="188.50" y="486.74" width="20.05" height="26.08" fill="#3a53a4" shape-rendering="crispEdges"/>
<rect x="188.50" y="512.77" width="20.05" height="2.05" fill="#fad3d3" shape-rendering="crispEdges"/>
<rect x="188.50" y="514.77" width="20.05" height="6.06" fill="#3a53a4" shape-rendering="crispEdges"/>
<rect x="188.50" y="520.78" width="20.05" height="2.05" fill="#ffffff" shape-rendering="crispEdges"/>
<rect x="188.50" y="522.78" width="20.05" height="2.05" fill="#6670b4" shape-rendering="crispEdges"/>
<rect x="188.50" y="524.79" width="20.05" height="2.05" fill="#3a53a4" shape-rendering="crispEdges"/>
<rect x="188.50" y="526.79" width="20.05" height="4.05" fill="#8c94cc" shape-rendering="crispEdges"/>
<rect x="188.50" y="530.79" width="20.05" height="6.06" fill="#3a53a4" shape-rendering="crispEdges"/>
<rect x="208.50" y="286.50" width="20.05" height="2.05" fill="#ed2427" shape-rendering="crispEdges"/>
<rect x="208.50" y="288.50" width="20.05" height="2.05" fill="#ef5353" shape-rendering="crispEdges"/>
<rect x="208.50" y="290.50" width="20.05" height="8.06" fill="#f37c7c" shape-rendering="crispEdges"/>
<rect x="208.50" y="298.51" width="20.05" height="4.05" fill="#ef5353" shape-rendering="crispEdges"/>
<rect x="208.50" y="302.52" width="20.05" height="10.06" fill="#ed2427" shape-rendering="crispEdges"/>
<rect x="208.50" y="312.53" width="20.05" height="4.05" fill="#ef5353" shape-rendering="crispEdges"/>
<rect x="208.50" y="316.54" width="20.05" height="2.05" fill="#f37c7c" shape-rendering="crispEdges"/>
<rect x="208.50" y="318.54" width="20.05" height="2.05" fill="#f6a6a6" shape-rendering="crispEdges"/>
<rect x="208.50" y="320.54" width="20.05" height="2.05" fill="#fad3d3" shape-rendering="crispEdges"/>
<rect x="208.50" y="322.54" width="20.05" height="2.05" fill="#f6a6a6" shape-rendering="crispEdges"/>
<rect x="208.50" y="324.55" width="20.05" height="2.05" fill="#fad3d3" shape-rendering="crispEdges"/>
<rect x="208.50" y="326.55" width="20.05" height="2.05" fill="#ffffff" shape-rendering="crispEdges"/>
<rect x="208.50" y="328.55" width="20.05" height="2.05" fill="#f6a6a6" shape-rendering="crispEdges"/>
<rect x="208.50" y="330.55" width="20.05" height="2.05" fill="#fad3d3" shape-rendering="crispEdges"/>
<rect x="208.50" y="332.56" width="20.05" height="2.05" fill="#ffffff" shape-rendering="crispEdges"/>
<rect x="208.50" y="334.56" width="20.05" height="2.05" fill="#fad3d3" shape-rendering="crispEdges"/>
<rect x="208.50" y="336.56" width="20.05" height="2.05" fill="#ed2427" shape-rendering="crispEdges"/>
<rect x="208.50" y="338.56" width="20.05" height="8.06" fill="#f37c7c" shape-rendering="crispEdges"/>
<rect x="208.50" y="346.57" width="20.05" height="2.05" fill="#f6a6a6" shape-rendering="crispEdges"/>
<rect x="208.50" y="348.57" width="20.05" height="2.05" fill="#f37c7c" shape-rendering="crispEdges"/>
<rect x="208.50" y="350.58" width="20.05" height="2.05" fill="#fad3d3" shape-rendering="crispEdges"/>
<rect x="208.50" y="352.58" width="20.05" height="2.05" fill="#f6a6a6" shape-rendering="crispEdges"/>
<rect x="208.50" y="354.58" width="20.05" height="2.05" fill="#fad3d3" shape-rendering="crispEdges"/>
<rect x="208.50" y="356.58" width="20.05" height="2.05" fill="#f37c7c" shape-rendering="crispEdges"/>
<rect x="208.50" y="358.59" width="20.05" height="2.05" fill="#fad3d3" shape-rendering="crispEdges"/>
<rect x="208.50" y="360.59" width="20.05" height="2.05" fill="#f6a6a6" shape-rendering="crispEdges"/>
<rect x="208.50" y="362.59" width="20.05" height="2.05" fill="#ffffff" shape-rendering="crispEdges"/>
<rect x="208.50" y="364.59" width="20.05" height="2.05" fill="#f6a6a6" shape-rendering="crispEdges"/>
<rect x="208.50" y="366.60" width="20.05" height="6.06" fill="#fad3d3" shape-rendering="crispEdges"/>
<rect x="208.50" y="372.60" width="20.05" height="2.05" fill="#f6a6a6" shape-rendering="crispEdges"/>
<rect x="208.50" y="374.61" width="20.05" height="2.05" fill="#3a53a4" shape-rendering="crispEdges"/>
<rect x="208.50" y="376.61" width="20.05" height="2.05" fill="#8c94cc" shape-rendering="crispEdges"/>
<rect x="208.50" y="378.61" width="20.05" height="2.05" fill="#c5c9e6" shape-rendering="crispEdges"/>
<rect x="208.50" y="380.61" width="20.05" height="2.05" fill="#fad3d3" shape-rendering="crispEdges"/>
<rect x="208.50" y="382.62" width="20.05" height="2.05" fill="#c5c9e6" shape-rendering="crispEdges"/>
<rect x="208.50" y="384.62" width="20.05" height="2.05" fill="#fdeeee" shape-rendering="crispEdges"/>
<rect x="208.50" y="386.62" width="20.05" height="2.05" fill="#fad3d3" shape-rendering="crispEdges"/>
<rect x="208.50" y="388.62" width="20.05" height="2.05" fill="#ffffff" shape-rendering="crispEdges"/>
<rect x="208.50" y="390.62" width="20.05" height="2.05" fill="#8c94cc" shape-rendering="crispEdges"/>
<rect x="208.50" y="392.63" width="20.05" height="2.05" fill="#c5c9e6" shape-rendering="crispEdges"/>
<rect x="208.50" y="394.63" width="20.05" height="2.05" fill="#fdeeee" shape-rendering="crispEdges"/>
<rect x="208.50" y="396.63" width="20.05" height="2.05" fill="#ffffff" shape-rendering="crispEdges"/>
<rect x="208.50" y="398.63" width="20.05" height="10.06" fill="#3a53a4" shape-rendering="crispEdges"/>
<rect x="208.50" y="408.65" width="20.05" height="4.05" fill="#c5c9e6" shape-rendering="crispEdges"/>
<rect x="208.50" y="412.65" width="20.05" height="2.05" fill="#3a53a4" shape-rendering="crispEdges"/>
<rect x="208.50" y="414.65" width="20.05" height="2.05" fill="#6670b4" shape-rendering="crispEdges"/>
<rect x="208.50" y="416.66" width="20.05" height="40.10" fill="#3a53a4" shape-rendering="crispEdges"/>
<rect x="208.50" y="456.70" width="20.05" height="2.05" fill="#ed2427" shape-rendering="crispEdges"/>
<rect x="208.50" y="458.71" width="20.05" height="20.07" fill="#3a53a4" shape-rendering="crispEdges"/>
<rect x="208.50" y="478.73" width="20.05" height="2.05" fill="#ffffff" shape-rendering="crispEdges"/>
<rect x="208.50" y="480.73" width="20.05" height="2.05" fill="#6670b4" shape-rendering="crispEdges"/>
<rect x="208.50" y="482.74" width="20.05" height="2.05" fill="#8c94cc" shape-rendering="crispEdges"/>
<rect x="208.50" y="484.74" width="20.05" height="2.05" fill="#3a53a4" shape-rendering="crispEdges"/>
<rect x="208.50" y="486.74" width="20.05" height="2.05" fill="#8c94cc" shape-rendering="crispEdges"/>
<rect x="208.50" y="488.74" width="20.05" height="2.05" fill="#6670b4" shape-rendering="crispEdges"/>
<rect x="208.50" y="490.74" width="20.05" height="32.09" fill="#3a53a4" shape-rendering="crispEdges"/>
<rect x="208.50" y="522.78" width="20.05" height="2.05" fill="#ffffff" shape-rendering="crispEdges"/>
<rect x="208.50" y="524.79" width="20.05" height="6.06" fill="#3a53a4" shape-rendering="crispEdges"/>
<rect x="208.50" y="530.79" width="20.05" height="4.05" fill="#6670b4" shape-rendering="crispEdges"/>
<rect x="208.50" y="534.80" width="20.05" height="2.05" fill="#3a53a4" shape-rendering="crispEdges"/>
<rect x="8.20" y="286.20" width="220.60" height="250.90" fill="none" stroke="#111" stroke-width="1.1"/>
<line x1="128.50" y1="286.50" x2="128.50" y2="536.80" stroke="#111" stroke-width="1.0"/>
</svg></body></html>
